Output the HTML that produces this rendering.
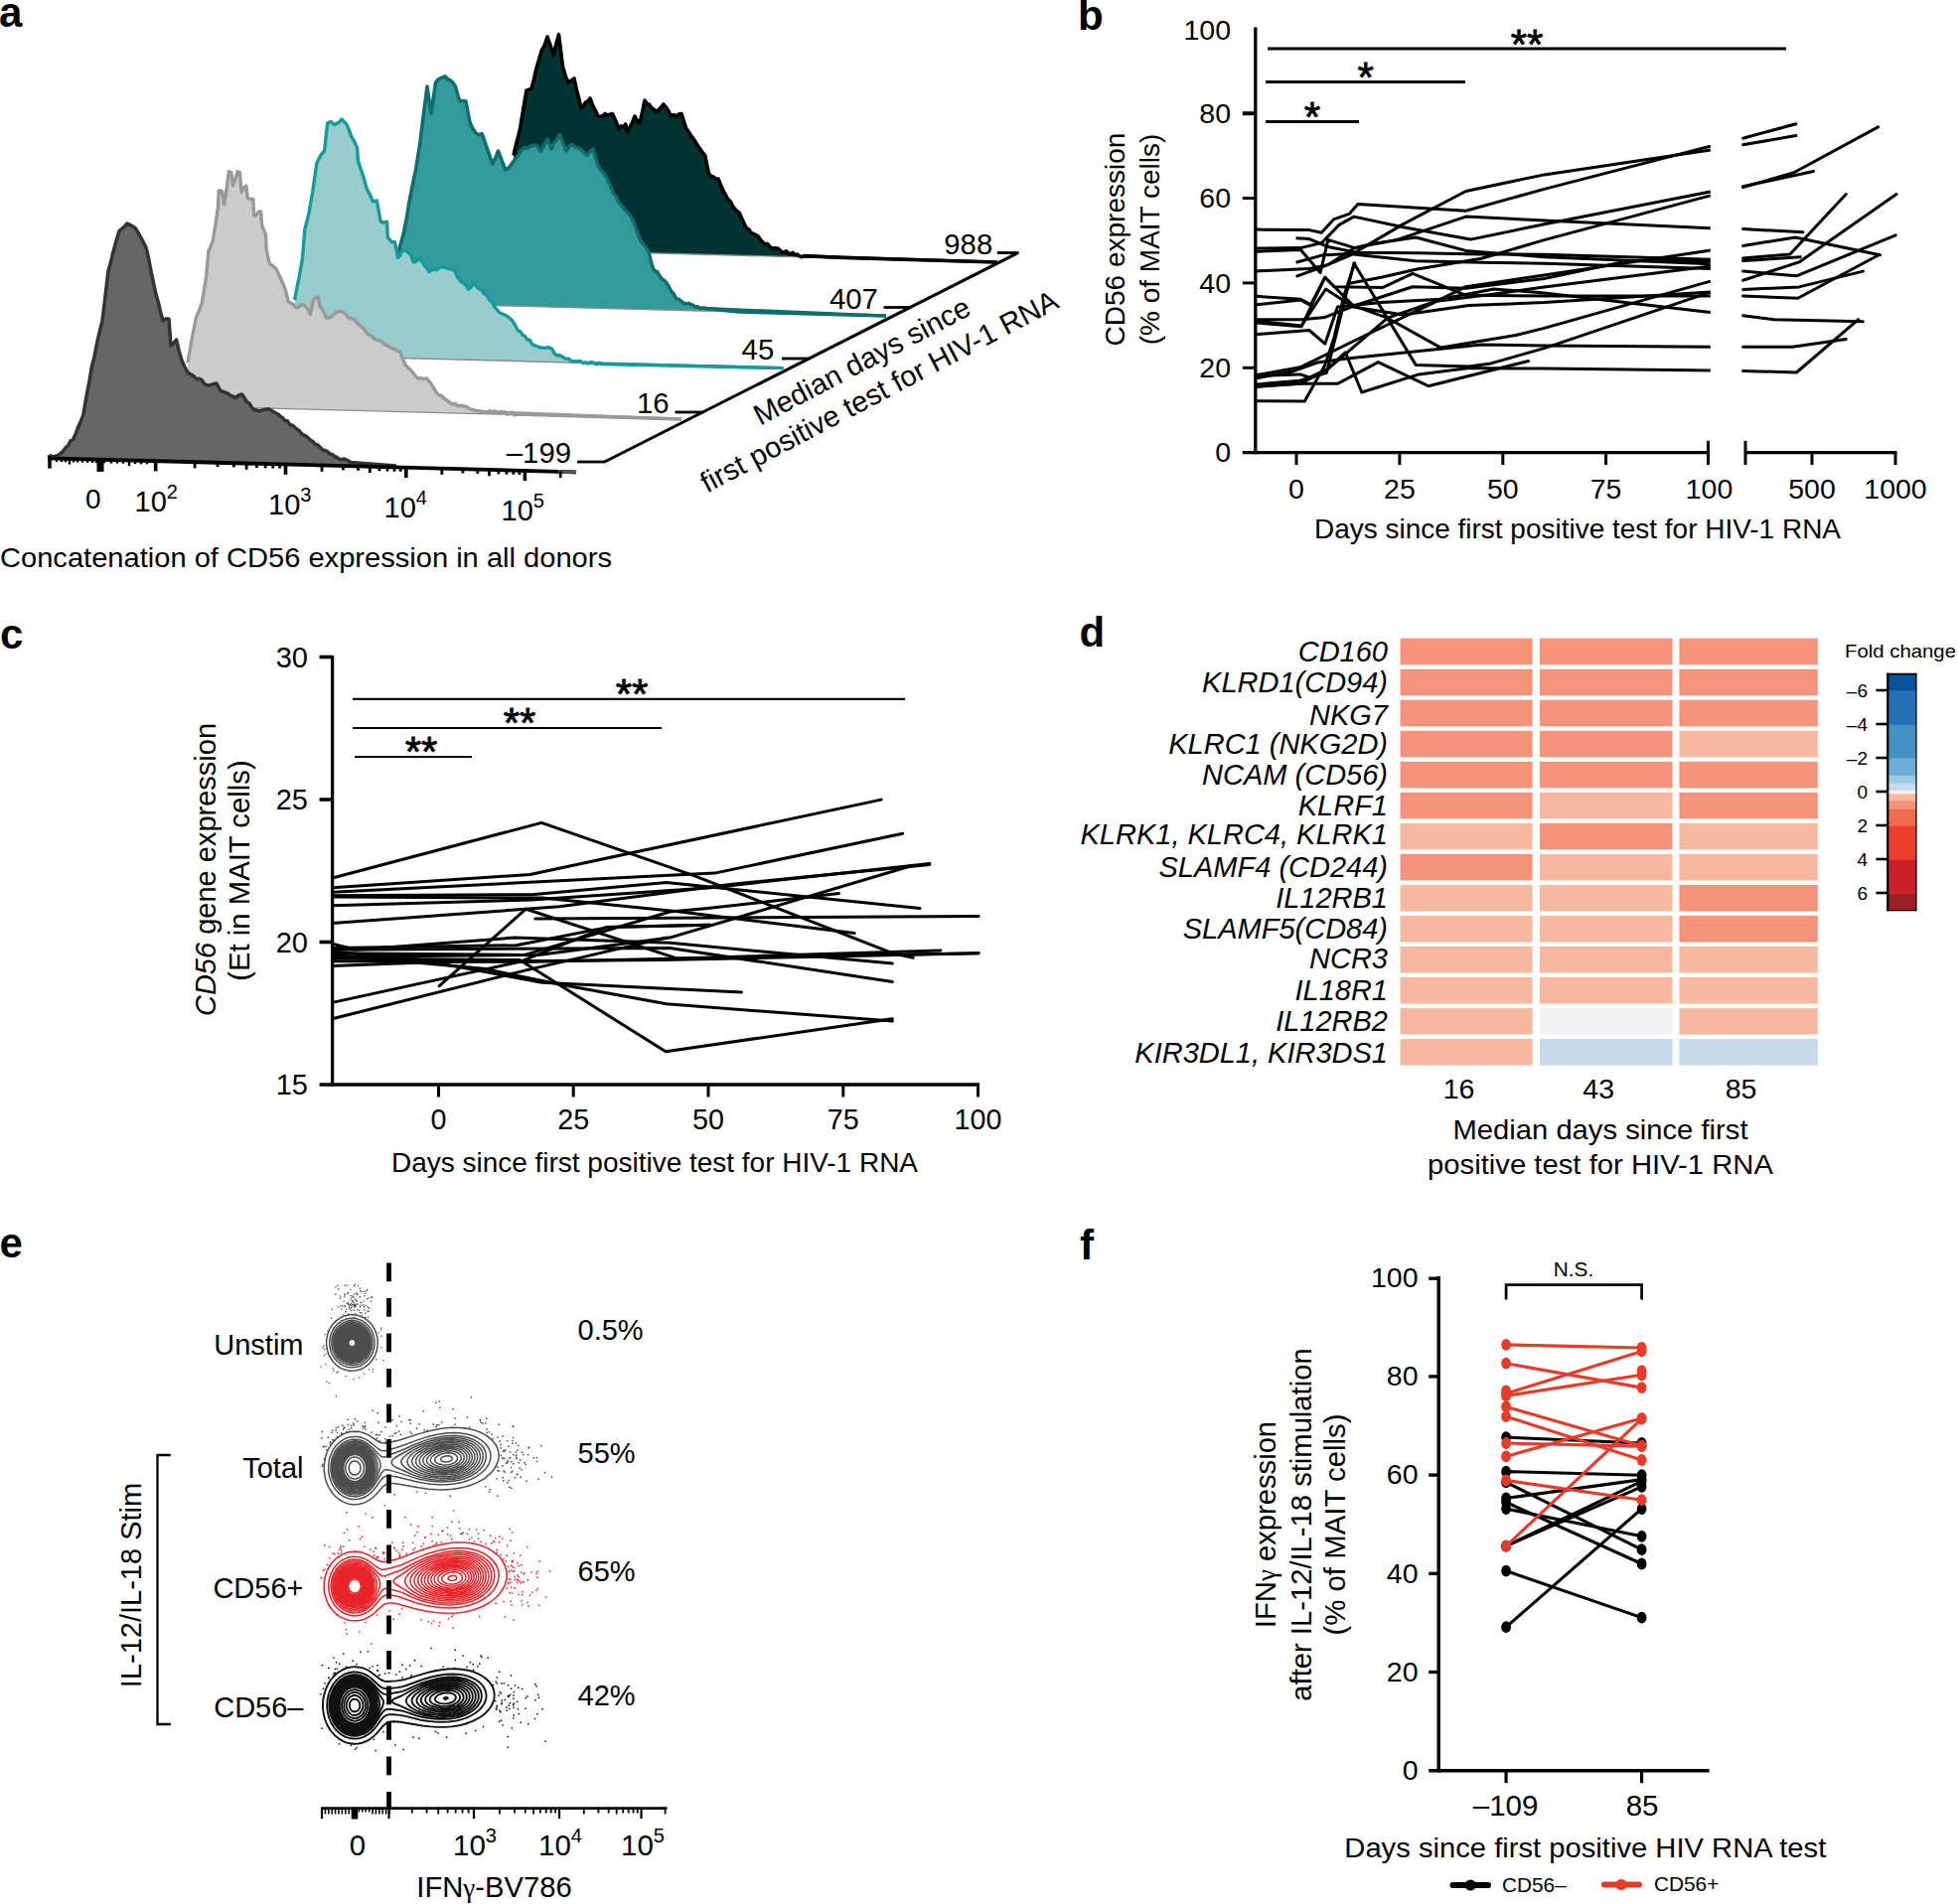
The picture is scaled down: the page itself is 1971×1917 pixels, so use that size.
<!DOCTYPE html>
<html><head><meta charset="utf-8"><title>Figure</title>
<style>html,body{margin:0;padding:0;background:#fff}svg{display:block}text{font-family:"Liberation Sans",Arial,Helvetica,sans-serif}</style>
</head><body>
<svg width="1971" height="1917" viewBox="0 0 1971 1917">
<rect width="1971" height="1917" fill="#fff"/>
<path d="M517.0 251.2 L517.0 156.5 L519.2 146.5 L521.4 138.3 L523.6 129.0 L526.8 109.6 L530.0 91.0 L532.5 90.3 L535.0 89.0 L537.5 79.7 L540.0 68.4 L542.5 60.0 L545.3 50.9 L548.2 45.7 L551.0 37.0 L554.0 45.6 L557.0 55.7 L559.8 44.4 L562.5 34.7 L566.5 67.0 L569.2 76.5 L572.0 83.0 L575.0 80.9 L578.0 79.0 L580.3 90.0 L582.7 98.9 L585.0 109.0 L587.2 106.9 L589.5 103.0 L591.8 101.9 L594.0 99.0 L596.7 106.1 L599.3 111.1 L602.0 117.0 L604.4 117.3 L606.8 116.7 L609.2 114.4 L611.7 116.1 L614.1 115.2 L616.5 114.5 L619.8 121.7 L623.0 130.0 L625.2 126.9 L627.4 127.8 L629.6 125.0 L632.0 133.0 L634.3 127.6 L636.7 123.0 L639.0 117.0 L641.5 121.6 L644.0 124.0 L646.5 113.1 L649.0 101.0 L651.2 104.5 L653.4 105.1 L655.6 108.5 L657.8 109.6 L660.0 112.0 L662.6 111.0 L665.1 108.5 L667.7 105.0 L670.3 107.8 L672.9 111.9 L675.5 117.0 L678.1 115.5 L680.8 117.1 L683.4 114.9 L686.0 114.5 L688.5 122.6 L691.0 130.0 L693.2 132.6 L695.4 136.4 L697.6 139.3 L699.8 142.4 L702.0 146.0 L704.6 149.8 L707.1 153.3 L709.7 156.5 L713.6 175.0 L716.0 177.5 L718.3 178.0 L720.6 180.0 L723.0 180.0 L725.5 186.3 L728.0 192.0 L730.5 196.3 L733.0 201.0 L735.2 202.6 L737.4 207.3 L739.6 210.2 L741.8 212.6 L744.0 214.0 L746.6 219.5 L749.1 225.3 L751.7 230.0 L753.9 230.9 L756.1 234.5 L758.4 235.5 L760.6 236.4 L762.8 237.5 L765.0 240.6 L767.5 243.6 L770.0 246.0 L772.5 245.3 L775.0 248.5 L777.3 250.2 L779.7 249.9 L782.0 249.9 L784.4 251.1 L786.7 253.4 L789.0 254.5 L791.4 252.8 L793.7 255.0 L796.0 255.7 L798.2 254.4 L800.5 256.8 L802.7 256.0 L805.0 258.0 L807.2 258.7 L809.5 257.6 L850.0 259.5 L1004.0 264.0 L1004.0 264.0 Z" fill="#003333" stroke="none" stroke-width="0" stroke-linejoin="miter" stroke-linecap="butt" />
<line x1="517.0" y1="251.2" x2="1004.0" y2="264.0" stroke="#8c8c8c" stroke-width="1.4" stroke-linecap="butt" />
<path d="M517.0 156.5 L519.2 146.5 L521.4 138.3 L523.6 129.0 L526.8 109.6 L530.0 91.0 L532.5 90.3 L535.0 89.0 L537.5 79.7 L540.0 68.4 L542.5 60.0 L545.3 50.9 L548.2 45.7 L551.0 37.0 L554.0 45.6 L557.0 55.7 L559.8 44.4 L562.5 34.7 L566.5 67.0 L569.2 76.5 L572.0 83.0 L575.0 80.9 L578.0 79.0 L580.3 90.0 L582.7 98.9 L585.0 109.0 L587.2 106.9 L589.5 103.0 L591.8 101.9 L594.0 99.0 L596.7 106.1 L599.3 111.1 L602.0 117.0 L604.4 117.3 L606.8 116.7 L609.2 114.4 L611.7 116.1 L614.1 115.2 L616.5 114.5 L619.8 121.7 L623.0 130.0 L625.2 126.9 L627.4 127.8 L629.6 125.0 L632.0 133.0 L634.3 127.6 L636.7 123.0 L639.0 117.0 L641.5 121.6 L644.0 124.0 L646.5 113.1 L649.0 101.0 L651.2 104.5 L653.4 105.1 L655.6 108.5 L657.8 109.6 L660.0 112.0 L662.6 111.0 L665.1 108.5 L667.7 105.0 L670.3 107.8 L672.9 111.9 L675.5 117.0 L678.1 115.5 L680.8 117.1 L683.4 114.9 L686.0 114.5 L688.5 122.6 L691.0 130.0 L693.2 132.6 L695.4 136.4 L697.6 139.3 L699.8 142.4 L702.0 146.0 L704.6 149.8 L707.1 153.3 L709.7 156.5 L713.6 175.0 L716.0 177.5 L718.3 178.0 L720.6 180.0 L723.0 180.0 L725.5 186.3 L728.0 192.0 L730.5 196.3 L733.0 201.0 L735.2 202.6 L737.4 207.3 L739.6 210.2 L741.8 212.6 L744.0 214.0 L746.6 219.5 L749.1 225.3 L751.7 230.0 L753.9 230.9 L756.1 234.5 L758.4 235.5 L760.6 236.4 L762.8 237.5 L765.0 240.6 L767.5 243.6 L770.0 246.0 L772.5 245.3 L775.0 248.5 L777.3 250.2 L779.7 249.9 L782.0 249.9 L784.4 251.1 L786.7 253.4 L789.0 254.5 L791.4 252.8 L793.7 255.0 L796.0 255.7 L798.2 254.4 L800.5 256.8 L802.7 256.0 L805.0 258.0 L807.2 258.7 L809.5 257.6 L850.0 259.5 L1004.0 264.0" fill="none" stroke="#000" stroke-width="3.6" stroke-linejoin="round" stroke-linecap="butt" />
<line x1="809.0" y1="257.8" x2="1004.0" y2="264.0" stroke="#000" stroke-width="3.2" stroke-linecap="butt" />
<path d="M400.8 305.1 L400.8 255.0 L403.4 245.5 L406.0 236.0 L409.0 221.0 L412.0 203.0 L414.2 191.8 L416.4 180.4 L418.6 171.0 L423.0 142.0 L427.0 110.0 L430.0 87.0 L434.0 114.5 L436.2 99.0 L438.5 83.0 L440.9 80.0 L443.2 78.9 L445.6 78.0 L448.0 76.7 L450.6 79.6 L453.2 80.8 L455.9 83.1 L458.5 87.0 L460.8 95.6 L463.0 102.0 L466.0 101.4 L469.0 102.0 L473.0 123.0 L476.2 130.1 L479.5 134.5 L482.2 135.7 L485.0 134.5 L487.2 140.2 L489.4 146.6 L491.6 152.9 L493.8 159.3 L496.0 165.0 L498.8 158.8 L501.5 152.0 L504.0 158.5 L506.5 165.0 L509.0 171.0 L512.0 169.3 L515.0 165.0 L517.2 162.0 L519.4 158.8 L521.6 156.7 L523.8 152.2 L526.0 150.0 L528.4 148.6 L530.8 149.8 L533.2 147.7 L535.6 146.9 L538.0 146.0 L540.2 146.5 L542.4 149.7 L544.6 152.0 L547.8 146.2 L551.0 140.0 L555.0 150.0 L557.8 143.7 L560.7 140.7 L563.5 135.5 L566.8 144.1 L570.0 152.0 L574.0 146.0 L576.6 145.7 L579.2 148.4 L581.9 148.9 L584.5 150.0 L587.8 153.8 L591.0 156.5 L594.0 152.8 L597.0 150.0 L599.5 159.1 L602.0 167.0 L604.6 171.7 L607.2 173.6 L609.9 177.7 L612.5 183.0 L615.1 188.8 L617.8 194.9 L620.4 198.0 L623.0 204.0 L625.6 207.0 L628.2 210.5 L630.8 212.8 L633.4 216.1 L636.0 219.6 L638.7 226.0 L641.3 233.2 L644.0 240.6 L646.2 244.2 L648.5 246.6 L650.8 250.1 L653.0 253.7 L657.0 269.5 L659.3 273.0 L661.6 273.4 L663.9 277.6 L666.1 280.8 L668.4 282.1 L670.7 284.5 L673.0 288.0 L675.7 293.2 L678.3 295.9 L681.0 301.0 L683.5 301.3 L686.0 303.3 L688.5 305.3 L691.0 306.0 L693.3 305.4 L695.6 306.6 L697.9 307.2 L700.1 309.3 L702.4 308.7 L704.7 310.5 L707.0 310.0 L744.0 314.0 L892.0 318.0 L892.0 318.0 Z" fill="#339b9b" stroke="none" stroke-width="0" stroke-linejoin="miter" stroke-linecap="butt" />
<line x1="400.8" y1="305.1" x2="892.0" y2="318.0" stroke="#8c8c8c" stroke-width="1.4" stroke-linecap="butt" />
<path d="M400.8 255.0 L403.4 245.5 L406.0 236.0 L409.0 221.0 L412.0 203.0 L414.2 191.8 L416.4 180.4 L418.6 171.0 L423.0 142.0 L427.0 110.0 L430.0 87.0 L434.0 114.5 L436.2 99.0 L438.5 83.0 L440.9 80.0 L443.2 78.9 L445.6 78.0 L448.0 76.7 L450.6 79.6 L453.2 80.8 L455.9 83.1 L458.5 87.0 L460.8 95.6 L463.0 102.0 L466.0 101.4 L469.0 102.0 L473.0 123.0 L476.2 130.1 L479.5 134.5 L482.2 135.7 L485.0 134.5 L487.2 140.2 L489.4 146.6 L491.6 152.9 L493.8 159.3 L496.0 165.0 L498.8 158.8 L501.5 152.0 L504.0 158.5 L506.5 165.0 L509.0 171.0 L512.0 169.3 L515.0 165.0 L517.2 162.0 L519.4 158.8 L521.6 156.7 L523.8 152.2 L526.0 150.0 L528.4 148.6 L530.8 149.8 L533.2 147.7 L535.6 146.9 L538.0 146.0 L540.2 146.5 L542.4 149.7 L544.6 152.0 L547.8 146.2 L551.0 140.0 L555.0 150.0 L557.8 143.7 L560.7 140.7 L563.5 135.5 L566.8 144.1 L570.0 152.0 L574.0 146.0 L576.6 145.7 L579.2 148.4 L581.9 148.9 L584.5 150.0 L587.8 153.8 L591.0 156.5 L594.0 152.8 L597.0 150.0 L599.5 159.1 L602.0 167.0 L604.6 171.7 L607.2 173.6 L609.9 177.7 L612.5 183.0 L615.1 188.8 L617.8 194.9 L620.4 198.0 L623.0 204.0 L625.6 207.0 L628.2 210.5 L630.8 212.8 L633.4 216.1 L636.0 219.6 L638.7 226.0 L641.3 233.2 L644.0 240.6 L646.2 244.2 L648.5 246.6 L650.8 250.1 L653.0 253.7 L657.0 269.5 L659.3 273.0 L661.6 273.4 L663.9 277.6 L666.1 280.8 L668.4 282.1 L670.7 284.5 L673.0 288.0 L675.7 293.2 L678.3 295.9 L681.0 301.0 L683.5 301.3 L686.0 303.3 L688.5 305.3 L691.0 306.0 L693.3 305.4 L695.6 306.6 L697.9 307.2 L700.1 309.3 L702.4 308.7 L704.7 310.5 L707.0 310.0 L744.0 314.0 L892.0 318.0" fill="none" stroke="#0e6e6e" stroke-width="3.5" stroke-linejoin="round" stroke-linecap="butt" />
<line x1="707.0" y1="310.3" x2="892.0" y2="318.0" stroke="#0e6e6e" stroke-width="3.0" stroke-linecap="butt" />
<path d="M296.6 357.7 L296.6 302.0 L299.0 289.2 L301.3 278.4 L304.5 259.5 L306.8 231.1 L310.8 215.4 L314.7 193.3 L318.7 165.0 L321.0 159.8 L323.4 155.5 L326.5 152.3 L329.7 124.0 L332.8 122.4 L336.8 125.6 L339.2 124.2 L341.5 123.0 L343.9 120.0 L346.2 122.3 L348.6 124.8 L351.0 129.9 L353.3 136.6 L356.5 141.8 L359.6 149.2 L360.4 161.8 L363.5 171.3 L366.7 180.7 L369.1 190.2 L372.2 195.6 L375.4 202.8 L379.3 202.0 L383.2 223.2 L386.4 224.1 L389.5 223.2 L390.3 239.0 L394.3 243.7 L397.4 243.7 L400.6 259.5 L403.0 256.6 L405.3 251.6 L407.9 252.2 L410.6 254.1 L413.2 256.3 L416.3 264.2 L419.5 262.8 L422.6 259.5 L425.0 263.5 L427.4 267.5 L429.7 269.7 L432.1 273.7 L434.6 271.6 L437.1 271.2 L439.7 271.7 L442.2 269.2 L444.7 268.9 L447.2 269.1 L449.7 269.9 L452.3 270.6 L454.8 271.2 L457.3 272.1 L460.5 278.9 L463.6 283.1 L466.2 284.7 L468.9 286.9 L471.5 291.0 L474.2 289.1 L477.0 284.6 L479.6 288.2 L482.2 291.0 L484.8 291.8 L487.4 295.9 L490.0 297.0 L492.6 302.0 L495.2 303.7 L497.9 309.0 L500.5 312.0 L502.9 314.7 L505.3 315.8 L507.8 317.1 L510.2 318.0 L512.6 319.9 L515.0 322.0 L518.2 326.7 L521.5 333.0 L523.9 333.8 L526.2 337.4 L528.6 338.6 L530.9 342.3 L533.3 342.1 L535.6 346.7 L538.0 347.6 L540.5 348.6 L543.0 349.7 L545.5 350.0 L548.0 350.4 L550.5 349.8 L553.0 350.0 L555.7 351.2 L558.3 356.1 L561.0 358.0 L563.4 357.8 L565.8 358.9 L568.1 360.7 L570.5 361.1 L572.9 361.5 L575.2 363.8 L577.6 363.6 L580.0 364.0 L582.3 363.8 L584.6 363.7 L587.0 365.8 L589.3 364.8 L591.6 366.0 L593.9 364.9 L596.2 364.7 L598.5 365.9 L600.9 367.0 L603.2 365.3 L605.5 366.5 L788.5 370.6 L788.5 370.6 Z" fill="#99cccc" stroke="none" stroke-width="0" stroke-linejoin="miter" stroke-linecap="butt" />
<line x1="296.6" y1="357.7" x2="788.5" y2="370.6" stroke="#8c8c8c" stroke-width="1.4" stroke-linecap="butt" />
<path d="M296.6 302.0 L299.0 289.2 L301.3 278.4 L304.5 259.5 L306.8 231.1 L310.8 215.4 L314.7 193.3 L318.7 165.0 L321.0 159.8 L323.4 155.5 L326.5 152.3 L329.7 124.0 L332.8 122.4 L336.8 125.6 L339.2 124.2 L341.5 123.0 L343.9 120.0 L346.2 122.3 L348.6 124.8 L351.0 129.9 L353.3 136.6 L356.5 141.8 L359.6 149.2 L360.4 161.8 L363.5 171.3 L366.7 180.7 L369.1 190.2 L372.2 195.6 L375.4 202.8 L379.3 202.0 L383.2 223.2 L386.4 224.1 L389.5 223.2 L390.3 239.0 L394.3 243.7 L397.4 243.7 L400.6 259.5 L403.0 256.6 L405.3 251.6 L407.9 252.2 L410.6 254.1 L413.2 256.3 L416.3 264.2 L419.5 262.8 L422.6 259.5 L425.0 263.5 L427.4 267.5 L429.7 269.7 L432.1 273.7 L434.6 271.6 L437.1 271.2 L439.7 271.7 L442.2 269.2 L444.7 268.9 L447.2 269.1 L449.7 269.9 L452.3 270.6 L454.8 271.2 L457.3 272.1 L460.5 278.9 L463.6 283.1 L466.2 284.7 L468.9 286.9 L471.5 291.0 L474.2 289.1 L477.0 284.6 L479.6 288.2 L482.2 291.0 L484.8 291.8 L487.4 295.9 L490.0 297.0 L492.6 302.0 L495.2 303.7 L497.9 309.0 L500.5 312.0 L502.9 314.7 L505.3 315.8 L507.8 317.1 L510.2 318.0 L512.6 319.9 L515.0 322.0 L518.2 326.7 L521.5 333.0 L523.9 333.8 L526.2 337.4 L528.6 338.6 L530.9 342.3 L533.3 342.1 L535.6 346.7 L538.0 347.6 L540.5 348.6 L543.0 349.7 L545.5 350.0 L548.0 350.4 L550.5 349.8 L553.0 350.0 L555.7 351.2 L558.3 356.1 L561.0 358.0 L563.4 357.8 L565.8 358.9 L568.1 360.7 L570.5 361.1 L572.9 361.5 L575.2 363.8 L577.6 363.6 L580.0 364.0 L582.3 363.8 L584.6 363.7 L587.0 365.8 L589.3 364.8 L591.6 366.0 L593.9 364.9 L596.2 364.7 L598.5 365.9 L600.9 367.0 L603.2 365.3 L605.5 366.5 L788.5 370.6" fill="none" stroke="#149c9c" stroke-width="3.4" stroke-linejoin="round" stroke-linecap="butt" />
<line x1="590.0" y1="365.5" x2="788.5" y2="370.6" stroke="#149c9c" stroke-width="3.0" stroke-linecap="butt" />
<path d="M189.0 408.9 L189.0 365.0 L193.0 342.0 L197.3 320.0 L200.4 312.6 L203.6 303.6 L207.6 278.4 L209.9 253.2 L213.9 243.7 L216.7 227.6 L219.4 209.1 L220.2 191.7 L223.3 192.5 L225.7 205.9 L228.1 190.2 L230.4 172.8 L232.8 173.6 L234.4 187.0 L236.8 180.8 L239.1 172.8 L241.4 173.6 L243.0 193.3 L245.4 188.8 L247.8 187.0 L249.3 199.6 L252.1 200.4 L254.8 200.4 L255.6 217.0 L258.0 216.7 L260.3 213.1 L262.7 213.0 L263.5 226.4 L267.4 235.9 L268.2 251.6 L271.4 265.8 L274.5 267.5 L277.7 270.5 L280.0 274.6 L282.4 280.0 L284.8 285.6 L287.1 291.0 L290.3 303.6 L292.6 305.0 L295.0 306.7 L297.4 309.1 L299.7 309.9 L302.9 307.0 L306.0 306.8 L309.2 310.3 L312.4 316.2 L315.5 302.0 L317.9 299.4 L320.2 298.9 L321.8 308.3 L324.1 311.1 L326.3 314.9 L328.6 320.0 L331.4 320.0 L334.2 318.3 L337.0 316.0 L339.2 313.8 L341.5 314.0 L343.7 313.0 L346.1 314.8 L348.6 317.1 L351.0 320.0 L354.0 320.6 L357.0 322.0 L359.3 324.9 L361.6 327.2 L363.9 329.1 L366.1 331.1 L368.4 334.0 L370.7 337.0 L373.1 337.4 L375.5 340.0 L377.9 341.9 L380.3 342.4 L382.7 343.0 L385.1 344.7 L387.5 347.0 L390.0 347.8 L392.6 349.6 L395.1 351.3 L397.6 351.3 L400.2 353.7 L402.7 354.0 L405.2 360.8 L407.8 367.0 L410.4 369.6 L413.1 372.2 L415.7 375.4 L418.4 378.8 L421.0 381.0 L423.9 380.8 L426.8 381.5 L429.7 381.0 L432.1 384.2 L434.4 387.0 L436.8 391.1 L439.1 394.9 L441.5 397.7 L444.0 398.2 L446.6 400.8 L449.1 402.5 L451.6 404.4 L453.8 406.2 L456.1 407.1 L458.3 406.2 L460.6 408.4 L462.8 408.9 L465.1 408.1 L467.3 409.4 L469.6 409.2 L471.8 411.0 L474.2 412.4 L476.6 412.5 L479.0 413.6 L481.4 413.8 L483.8 414.0 L486.2 414.7 L488.6 414.5 L490.8 414.9 L493.1 413.7 L495.3 415.3 L497.6 413.8 L499.8 414.4 L502.1 416.3 L504.3 414.5 L506.5 414.8 L508.8 415.0 L511.0 417.4 L513.3 415.6 L515.5 415.3 L517.8 417.8 L520.0 417.0 L686.0 422.0 L686.0 422.0 Z" fill="#cccccc" stroke="none" stroke-width="0" stroke-linejoin="miter" stroke-linecap="butt" />
<line x1="189.0" y1="408.9" x2="686.0" y2="422.0" stroke="#8c8c8c" stroke-width="1.4" stroke-linecap="butt" />
<path d="M189.0 365.0 L193.0 342.0 L197.3 320.0 L200.4 312.6 L203.6 303.6 L207.6 278.4 L209.9 253.2 L213.9 243.7 L216.7 227.6 L219.4 209.1 L220.2 191.7 L223.3 192.5 L225.7 205.9 L228.1 190.2 L230.4 172.8 L232.8 173.6 L234.4 187.0 L236.8 180.8 L239.1 172.8 L241.4 173.6 L243.0 193.3 L245.4 188.8 L247.8 187.0 L249.3 199.6 L252.1 200.4 L254.8 200.4 L255.6 217.0 L258.0 216.7 L260.3 213.1 L262.7 213.0 L263.5 226.4 L267.4 235.9 L268.2 251.6 L271.4 265.8 L274.5 267.5 L277.7 270.5 L280.0 274.6 L282.4 280.0 L284.8 285.6 L287.1 291.0 L290.3 303.6 L292.6 305.0 L295.0 306.7 L297.4 309.1 L299.7 309.9 L302.9 307.0 L306.0 306.8 L309.2 310.3 L312.4 316.2 L315.5 302.0 L317.9 299.4 L320.2 298.9 L321.8 308.3 L324.1 311.1 L326.3 314.9 L328.6 320.0 L331.4 320.0 L334.2 318.3 L337.0 316.0 L339.2 313.8 L341.5 314.0 L343.7 313.0 L346.1 314.8 L348.6 317.1 L351.0 320.0 L354.0 320.6 L357.0 322.0 L359.3 324.9 L361.6 327.2 L363.9 329.1 L366.1 331.1 L368.4 334.0 L370.7 337.0 L373.1 337.4 L375.5 340.0 L377.9 341.9 L380.3 342.4 L382.7 343.0 L385.1 344.7 L387.5 347.0 L390.0 347.8 L392.6 349.6 L395.1 351.3 L397.6 351.3 L400.2 353.7 L402.7 354.0 L405.2 360.8 L407.8 367.0 L410.4 369.6 L413.1 372.2 L415.7 375.4 L418.4 378.8 L421.0 381.0 L423.9 380.8 L426.8 381.5 L429.7 381.0 L432.1 384.2 L434.4 387.0 L436.8 391.1 L439.1 394.9 L441.5 397.7 L444.0 398.2 L446.6 400.8 L449.1 402.5 L451.6 404.4 L453.8 406.2 L456.1 407.1 L458.3 406.2 L460.6 408.4 L462.8 408.9 L465.1 408.1 L467.3 409.4 L469.6 409.2 L471.8 411.0 L474.2 412.4 L476.6 412.5 L479.0 413.6 L481.4 413.8 L483.8 414.0 L486.2 414.7 L488.6 414.5 L490.8 414.9 L493.1 413.7 L495.3 415.3 L497.6 413.8 L499.8 414.4 L502.1 416.3 L504.3 414.5 L506.5 414.8 L508.8 415.0 L511.0 417.4 L513.3 415.6 L515.5 415.3 L517.8 417.8 L520.0 417.0 L686.0 422.0" fill="none" stroke="#999999" stroke-width="3.4" stroke-linejoin="round" stroke-linecap="butt" />
<line x1="490.0" y1="414.5" x2="686.0" y2="422.0" stroke="#999" stroke-width="3.0" stroke-linecap="butt" />
<path d="M48.3 461.0 L48.3 460.4 L50.9 458.7 L53.5 460.2 L56.2 459.1 L58.8 458.0 L61.2 456.4 L63.7 454.1 L66.2 450.5 L68.6 448.5 L71.0 443.8 L73.5 442.5 L76.1 436.9 L78.8 429.8 L81.4 424.0 L84.0 417.0 L86.8 399.9 L89.6 385.7 L92.4 369.0 L95.1 358.7 L97.7 344.8 L100.3 334.0 L103.0 323.0 L106.0 297.9 L109.0 272.4 L111.2 265.3 L113.4 255.7 L115.6 247.6 L117.8 239.8 L120.0 232.5 L122.7 230.3 L125.3 228.2 L128.0 225.0 L130.8 226.4 L133.7 228.0 L136.5 230.0 L139.1 234.5 L141.8 239.1 L144.4 244.0 L147.0 249.0 L149.7 260.5 L152.3 274.3 L155.0 287.0 L157.2 297.3 L159.5 304.8 L161.8 314.7 L164.0 323.0 L167.0 321.0 L170.0 321.0 L172.0 348.0 L174.8 345.5 L177.5 342.0 L180.2 353.2 L183.0 363.0 L186.0 369.5 L189.0 375.0 L191.3 376.5 L193.7 377.8 L196.0 379.7 L198.3 381.9 L200.7 381.2 L203.0 382.5 L205.3 385.8 L207.7 387.7 L210.0 388.0 L212.7 387.4 L215.3 386.5 L218.0 386.0 L220.3 390.6 L222.6 394.0 L225.0 394.2 L227.4 395.5 L229.8 396.4 L232.2 398.6 L234.6 398.9 L237.0 400.5 L240.3 398.0 L243.6 397.0 L246.1 400.7 L248.6 404.7 L251.0 406.0 L253.5 410.4 L256.0 413.0 L258.4 412.8 L260.9 414.0 L263.3 413.2 L265.7 412.3 L268.1 412.2 L270.6 411.7 L273.0 413.0 L275.3 414.6 L277.7 416.0 L280.0 417.1 L282.3 419.3 L284.7 420.8 L287.0 423.8 L289.3 423.7 L291.7 427.7 L294.0 428.0 L296.3 429.8 L298.7 432.0 L301.0 433.4 L303.3 436.3 L305.7 438.1 L308.0 439.2 L310.3 440.9 L312.7 443.4 L315.0 444.6 L317.4 447.4 L319.9 447.9 L322.3 450.6 L324.7 453.0 L327.1 453.4 L329.6 454.5 L332.0 457.0 L334.3 457.2 L336.7 459.5 L339.0 460.4 L341.3 462.1 L343.7 462.8 L346.0 462.0 L348.3 462.8 L350.7 464.0 L353.0 465.6 L399.0 469.0 L399.0 470.2 Z" fill="#666666" stroke="none" stroke-width="0" stroke-linejoin="miter" stroke-linecap="butt" />
<path d="M48.3 460.4 L50.9 458.7 L53.5 460.2 L56.2 459.1 L58.8 458.0 L61.2 456.4 L63.7 454.1 L66.2 450.5 L68.6 448.5 L71.0 443.8 L73.5 442.5 L76.1 436.9 L78.8 429.8 L81.4 424.0 L84.0 417.0 L86.8 399.9 L89.6 385.7 L92.4 369.0 L95.1 358.7 L97.7 344.8 L100.3 334.0 L103.0 323.0 L106.0 297.9 L109.0 272.4 L111.2 265.3 L113.4 255.7 L115.6 247.6 L117.8 239.8 L120.0 232.5 L122.7 230.3 L125.3 228.2 L128.0 225.0 L130.8 226.4 L133.7 228.0 L136.5 230.0 L139.1 234.5 L141.8 239.1 L144.4 244.0 L147.0 249.0 L149.7 260.5 L152.3 274.3 L155.0 287.0 L157.2 297.3 L159.5 304.8 L161.8 314.7 L164.0 323.0 L167.0 321.0 L170.0 321.0 L172.0 348.0 L174.8 345.5 L177.5 342.0 L180.2 353.2 L183.0 363.0 L186.0 369.5 L189.0 375.0 L191.3 376.5 L193.7 377.8 L196.0 379.7 L198.3 381.9 L200.7 381.2 L203.0 382.5 L205.3 385.8 L207.7 387.7 L210.0 388.0 L212.7 387.4 L215.3 386.5 L218.0 386.0 L220.3 390.6 L222.6 394.0 L225.0 394.2 L227.4 395.5 L229.8 396.4 L232.2 398.6 L234.6 398.9 L237.0 400.5 L240.3 398.0 L243.6 397.0 L246.1 400.7 L248.6 404.7 L251.0 406.0 L253.5 410.4 L256.0 413.0 L258.4 412.8 L260.9 414.0 L263.3 413.2 L265.7 412.3 L268.1 412.2 L270.6 411.7 L273.0 413.0 L275.3 414.6 L277.7 416.0 L280.0 417.1 L282.3 419.3 L284.7 420.8 L287.0 423.8 L289.3 423.7 L291.7 427.7 L294.0 428.0 L296.3 429.8 L298.7 432.0 L301.0 433.4 L303.3 436.3 L305.7 438.1 L308.0 439.2 L310.3 440.9 L312.7 443.4 L315.0 444.6 L317.4 447.4 L319.9 447.9 L322.3 450.6 L324.7 453.0 L327.1 453.4 L329.6 454.5 L332.0 457.0 L334.3 457.2 L336.7 459.5 L339.0 460.4 L341.3 462.1 L343.7 462.8 L346.0 462.0 L348.3 462.8 L350.7 464.0 L353.0 465.6 L399.0 469.0" fill="none" stroke="#333333" stroke-width="3.5" stroke-linejoin="round" stroke-linecap="butt" />
<line x1="48.0" y1="461.3" x2="580.0" y2="475.3" stroke="#000" stroke-width="3.8" stroke-linecap="butt" />
<line x1="562.0" y1="474.8" x2="580.0" y2="475.3" stroke="#555" stroke-width="3.8" stroke-linecap="butt" />
<line x1="50.0" y1="461.1" x2="50.0" y2="471.6" stroke="#000" stroke-width="3.6" stroke-linecap="butt" />
<line x1="101.0" y1="462.4" x2="101.0" y2="474.9" stroke="#000" stroke-width="7" stroke-linecap="butt" />
<line x1="156.7" y1="463.9" x2="156.7" y2="474.4" stroke="#000" stroke-width="3.6" stroke-linecap="butt" />
<line x1="287.5" y1="467.3" x2="287.5" y2="477.8" stroke="#000" stroke-width="3.6" stroke-linecap="butt" />
<line x1="408.8" y1="470.5" x2="408.8" y2="481.0" stroke="#000" stroke-width="3.6" stroke-linecap="butt" />
<line x1="528.4" y1="473.6" x2="528.4" y2="484.1" stroke="#000" stroke-width="3.6" stroke-linecap="butt" />
<line x1="196.1" y1="464.9" x2="196.1" y2="471.4" stroke="#000" stroke-width="2.8" stroke-linecap="butt" />
<line x1="219.1" y1="465.5" x2="219.1" y2="470.0" stroke="#000" stroke-width="2.8" stroke-linecap="butt" />
<line x1="235.4" y1="465.9" x2="235.4" y2="470.4" stroke="#000" stroke-width="2.8" stroke-linecap="butt" />
<line x1="248.1" y1="466.3" x2="248.1" y2="472.8" stroke="#000" stroke-width="2.8" stroke-linecap="butt" />
<line x1="258.5" y1="466.5" x2="258.5" y2="471.0" stroke="#000" stroke-width="2.8" stroke-linecap="butt" />
<line x1="267.2" y1="466.8" x2="267.2" y2="471.3" stroke="#000" stroke-width="2.8" stroke-linecap="butt" />
<line x1="274.8" y1="467.0" x2="274.8" y2="471.5" stroke="#000" stroke-width="2.8" stroke-linecap="butt" />
<line x1="281.5" y1="467.1" x2="281.5" y2="471.6" stroke="#000" stroke-width="2.8" stroke-linecap="butt" />
<line x1="324.0" y1="468.3" x2="324.0" y2="474.8" stroke="#000" stroke-width="2.8" stroke-linecap="butt" />
<line x1="345.4" y1="468.8" x2="345.4" y2="473.3" stroke="#000" stroke-width="2.8" stroke-linecap="butt" />
<line x1="360.5" y1="469.2" x2="360.5" y2="473.7" stroke="#000" stroke-width="2.8" stroke-linecap="butt" />
<line x1="372.3" y1="469.5" x2="372.3" y2="476.0" stroke="#000" stroke-width="2.8" stroke-linecap="butt" />
<line x1="381.9" y1="469.8" x2="381.9" y2="474.3" stroke="#000" stroke-width="2.8" stroke-linecap="butt" />
<line x1="390.0" y1="470.0" x2="390.0" y2="474.5" stroke="#000" stroke-width="2.8" stroke-linecap="butt" />
<line x1="397.0" y1="470.2" x2="397.0" y2="474.7" stroke="#000" stroke-width="2.8" stroke-linecap="butt" />
<line x1="403.2" y1="470.3" x2="403.2" y2="474.8" stroke="#000" stroke-width="2.8" stroke-linecap="butt" />
<line x1="444.8" y1="471.4" x2="444.8" y2="477.9" stroke="#000" stroke-width="2.8" stroke-linecap="butt" />
<line x1="465.9" y1="472.0" x2="465.9" y2="476.5" stroke="#000" stroke-width="2.8" stroke-linecap="butt" />
<line x1="480.8" y1="472.4" x2="480.8" y2="476.9" stroke="#000" stroke-width="2.8" stroke-linecap="butt" />
<line x1="492.4" y1="472.7" x2="492.4" y2="479.2" stroke="#000" stroke-width="2.8" stroke-linecap="butt" />
<line x1="501.9" y1="472.9" x2="501.9" y2="477.4" stroke="#000" stroke-width="2.8" stroke-linecap="butt" />
<line x1="509.9" y1="473.2" x2="509.9" y2="477.7" stroke="#000" stroke-width="2.8" stroke-linecap="butt" />
<line x1="516.8" y1="473.3" x2="516.8" y2="477.8" stroke="#000" stroke-width="2.8" stroke-linecap="butt" />
<line x1="522.9" y1="473.5" x2="522.9" y2="478.0" stroke="#000" stroke-width="2.8" stroke-linecap="butt" />
<line x1="564.2" y1="474.6" x2="564.2" y2="481.1" stroke="#000" stroke-width="2.8" stroke-linecap="butt" />
<line x1="57.0" y1="461.2" x2="57.0" y2="465.0" stroke="#000" stroke-width="2.4" stroke-linecap="butt" />
<line x1="62.0" y1="461.4" x2="62.0" y2="465.2" stroke="#000" stroke-width="2.4" stroke-linecap="butt" />
<line x1="66.0" y1="461.5" x2="66.0" y2="465.3" stroke="#000" stroke-width="2.4" stroke-linecap="butt" />
<line x1="70.0" y1="461.6" x2="70.0" y2="467.6" stroke="#000" stroke-width="2.4" stroke-linecap="butt" />
<line x1="74.0" y1="461.7" x2="74.0" y2="465.5" stroke="#000" stroke-width="2.4" stroke-linecap="butt" />
<line x1="78.0" y1="461.8" x2="78.0" y2="465.6" stroke="#000" stroke-width="2.4" stroke-linecap="butt" />
<line x1="83.0" y1="461.9" x2="83.0" y2="465.7" stroke="#000" stroke-width="2.4" stroke-linecap="butt" />
<line x1="88.0" y1="462.1" x2="88.0" y2="465.9" stroke="#000" stroke-width="2.4" stroke-linecap="butt" />
<line x1="93.0" y1="462.2" x2="93.0" y2="466.0" stroke="#000" stroke-width="2.4" stroke-linecap="butt" />
<line x1="97.0" y1="462.3" x2="97.0" y2="466.1" stroke="#000" stroke-width="2.4" stroke-linecap="butt" />
<line x1="105.0" y1="462.5" x2="105.0" y2="466.3" stroke="#000" stroke-width="2.4" stroke-linecap="butt" />
<line x1="112.0" y1="462.7" x2="112.0" y2="466.5" stroke="#000" stroke-width="2.4" stroke-linecap="butt" />
<line x1="118.0" y1="462.8" x2="118.0" y2="466.6" stroke="#000" stroke-width="2.4" stroke-linecap="butt" />
<line x1="124.0" y1="463.0" x2="124.0" y2="466.8" stroke="#000" stroke-width="2.4" stroke-linecap="butt" />
<line x1="130.0" y1="463.2" x2="130.0" y2="469.2" stroke="#000" stroke-width="2.4" stroke-linecap="butt" />
<line x1="136.0" y1="463.3" x2="136.0" y2="467.1" stroke="#000" stroke-width="2.4" stroke-linecap="butt" />
<line x1="142.0" y1="463.5" x2="142.0" y2="467.3" stroke="#000" stroke-width="2.4" stroke-linecap="butt" />
<line x1="148.0" y1="463.6" x2="148.0" y2="467.4" stroke="#000" stroke-width="2.4" stroke-linecap="butt" />
<text x="93.7" y="512.0" font-size="28" text-anchor="middle" fill="#000" >0</text>
<text x="135.5" y="514.5" font-size="29" text-anchor="start">10<tspan font-size="20" dy="-13">2</tspan></text>
<text x="270.0" y="517.5" font-size="29" text-anchor="start">10<tspan font-size="20" dy="-13">3</tspan></text>
<text x="386.5" y="521.0" font-size="29" text-anchor="start">10<tspan font-size="20" dy="-13">4</tspan></text>
<text x="504.5" y="524.0" font-size="29" text-anchor="start">10<tspan font-size="20" dy="-13">5</tspan></text>
<text x="0.0" y="570.6" font-size="28" text-anchor="start" fill="#000" textLength="616.0" lengthAdjust="spacingAndGlyphs" >Concatenation of CD56 expression in all donors</text>
<text x="-1.0" y="27.0" font-size="42" text-anchor="start" fill="#000" font-weight="bold" >a</text>
<line x1="608.6" y1="465.0" x2="1025.0" y2="254.5" stroke="#000" stroke-width="3.0" stroke-linecap="butt" />
<line x1="1003.8" y1="254.5" x2="1025.5" y2="254.5" stroke="#000" stroke-width="2.8" stroke-linecap="butt" />
<text x="999.2" y="255.7" font-size="29.3" text-anchor="end" fill="#000" >988</text>
<line x1="889.6" y1="309.5" x2="915.0" y2="309.5" stroke="#000" stroke-width="2.8" stroke-linecap="butt" />
<text x="883.8" y="310.7" font-size="29.3" text-anchor="end" fill="#000" >407</text>
<line x1="787.0" y1="361.0" x2="813.9" y2="361.0" stroke="#000" stroke-width="2.8" stroke-linecap="butt" />
<text x="779.2" y="362.2" font-size="29.3" text-anchor="end" fill="#000" >45</text>
<line x1="679.5" y1="415.0" x2="707.5" y2="415.0" stroke="#000" stroke-width="2.8" stroke-linecap="butt" />
<text x="673.5" y="416.2" font-size="29.3" text-anchor="end" fill="#000" >16</text>
<line x1="581.0" y1="465.0" x2="609.1" y2="465.0" stroke="#000" stroke-width="2.8" stroke-linecap="butt" />
<text x="575.0" y="466.2" font-size="29.3" text-anchor="end" fill="#000" >–199</text>
<text x="868.5" y="365.5" font-size="29.2" text-anchor="middle" fill="#000" transform="rotate(-27.8 868.5 365.5)" dominant-baseline="middle">Median days since</text>
<text x="886.0" y="396.0" font-size="29.2" text-anchor="middle" fill="#000" transform="rotate(-27.8 886.0 396.0)" dominant-baseline="middle">first positive test for HIV-1 RNA</text>
<text x="1085.0" y="29.5" font-size="42" text-anchor="start" fill="#000" font-weight="bold" >b</text>
<line x1="1263.8" y1="27.4" x2="1263.8" y2="457.2" stroke="#000" stroke-width="3.3" stroke-linecap="butt" />
<line x1="1250.8" y1="455.6" x2="1720.5" y2="455.6" stroke="#000" stroke-width="3.3" stroke-linecap="butt" />
<line x1="1250.8" y1="370.3" x2="1263.8" y2="370.3" stroke="#000" stroke-width="3.0" stroke-linecap="butt" />
<line x1="1250.8" y1="284.9" x2="1263.8" y2="284.9" stroke="#000" stroke-width="3.0" stroke-linecap="butt" />
<line x1="1250.8" y1="199.6" x2="1263.8" y2="199.6" stroke="#000" stroke-width="3.0" stroke-linecap="butt" />
<line x1="1250.8" y1="114.2" x2="1263.8" y2="114.2" stroke="#000" stroke-width="4" stroke-linecap="butt" />
<text x="1239.0" y="465.2" font-size="28.5" text-anchor="end" fill="#000" >0</text>
<text x="1239.0" y="379.9" font-size="28.5" text-anchor="end" fill="#000" >20</text>
<text x="1239.0" y="294.5" font-size="28.5" text-anchor="end" fill="#000" >40</text>
<text x="1239.0" y="209.2" font-size="28.5" text-anchor="end" fill="#000" >60</text>
<text x="1239.0" y="123.8" font-size="28.5" text-anchor="end" fill="#000" >80</text>
<text x="1239.0" y="40.2" font-size="28.5" text-anchor="end" fill="#000" >100</text>
<line x1="1305.0" y1="455.6" x2="1305.0" y2="468.1" stroke="#000" stroke-width="3.0" stroke-linecap="butt" />
<line x1="1408.9" y1="455.6" x2="1408.9" y2="468.1" stroke="#000" stroke-width="3.0" stroke-linecap="butt" />
<line x1="1512.8" y1="455.6" x2="1512.8" y2="468.1" stroke="#000" stroke-width="3.0" stroke-linecap="butt" />
<line x1="1616.6" y1="455.6" x2="1616.6" y2="468.1" stroke="#000" stroke-width="3.0" stroke-linecap="butt" />
<line x1="1719.5" y1="443.8" x2="1719.5" y2="468.0" stroke="#000" stroke-width="3.0" stroke-linecap="butt" />
<text x="1305.0" y="501.6" font-size="28.5" text-anchor="middle" fill="#000" >0</text>
<text x="1408.9" y="501.6" font-size="28.5" text-anchor="middle" fill="#000" >25</text>
<text x="1512.8" y="501.6" font-size="28.5" text-anchor="middle" fill="#000" >50</text>
<text x="1616.6" y="501.6" font-size="28.5" text-anchor="middle" fill="#000" >75</text>
<text x="1720.5" y="501.6" font-size="28.5" text-anchor="middle" fill="#000" >100</text>
<line x1="1757.0" y1="443.8" x2="1757.0" y2="468.0" stroke="#000" stroke-width="3.0" stroke-linecap="butt" />
<line x1="1757.0" y1="455.6" x2="1909.5" y2="455.6" stroke="#000" stroke-width="3.3" stroke-linecap="butt" />
<line x1="1824.0" y1="455.6" x2="1824.0" y2="468.1" stroke="#000" stroke-width="3.0" stroke-linecap="butt" />
<line x1="1908.0" y1="455.6" x2="1908.0" y2="468.1" stroke="#000" stroke-width="3.0" stroke-linecap="butt" />
<text x="1824.0" y="501.6" font-size="28.5" text-anchor="middle" fill="#000" >500</text>
<text x="1908.0" y="501.6" font-size="28.5" text-anchor="middle" fill="#000" >1000</text>
<text x="1588.0" y="542.4" font-size="28" text-anchor="middle" fill="#000" textLength="530.0" lengthAdjust="spacingAndGlyphs" >Days since first positive test for HIV-1 RNA</text>
<text x="1132.0" y="241.0" font-size="28" text-anchor="middle" fill="#000" transform="rotate(-90 1132.0 241.0)" >CD56 expression</text>
<text x="1166.5" y="241.0" font-size="28" text-anchor="middle" fill="#000" transform="rotate(-90 1166.5 241.0)" >(% of MAIT cells)</text>
<line x1="1276.0" y1="49.0" x2="1798.0" y2="49.0" stroke="#000" stroke-width="2.8" stroke-linecap="butt" />
<text x="1537.0" y="58.7" font-size="42" text-anchor="middle" fill="#000" stroke="#000" stroke-width="0.8">**</text>
<line x1="1274.0" y1="82.5" x2="1475.0" y2="82.5" stroke="#000" stroke-width="2.8" stroke-linecap="butt" />
<text x="1374.6" y="92.2" font-size="42" text-anchor="middle" fill="#000" stroke="#000" stroke-width="0.8">*</text>
<line x1="1274.0" y1="122.5" x2="1368.0" y2="122.5" stroke="#000" stroke-width="2.8" stroke-linecap="butt" />
<text x="1321.0" y="132.2" font-size="42" text-anchor="middle" fill="#000" stroke="#000" stroke-width="0.8">*</text>
<path d="M1264.5 231.1 L1318.0 231.6 L1330.3 234.3 L1342.4 220.9 L1358.2 215.4 L1366.9 205.5 L1475.6 212.2 L1554.5 190.4 L1721.8 147.1" fill="none" stroke="#000" stroke-width="3.0" stroke-linejoin="round" stroke-linecap="butt" />
<path d="M1304.6 239.8 L1318.0 240.6 L1336.9 248.5 L1365.3 254.3 L1428.3 254.8 L1491.3 255.9 L1554.5 256.3 L1721.8 261.3" fill="none" stroke="#000" stroke-width="3.0" stroke-linejoin="round" stroke-linecap="butt" />
<path d="M1264.5 250.1 L1309.4 249.6 L1330.6 244.5 L1348.0 226.4 L1362.9 218.1 L1412.6 228.8 L1480.3 241.1 L1554.5 225.8 L1721.8 193.0" fill="none" stroke="#000" stroke-width="3.0" stroke-linejoin="round" stroke-linecap="butt" />
<path d="M1264.5 253.2 L1309.4 251.6 L1329.1 274.5 L1336.9 241.4 L1363.7 249.6 L1377.9 246.1 L1425.2 239.0 L1475.6 252.4 L1554.5 258.7 L1721.8 265.8" fill="none" stroke="#000" stroke-width="3.0" stroke-linejoin="round" stroke-linecap="butt" />
<path d="M1304.6 264.2 L1330.6 257.1 L1357.4 255.6 L1425.2 262.7 L1491.3 264.2 L1554.5 265.2 L1721.8 270.5" fill="none" stroke="#000" stroke-width="3.0" stroke-linejoin="round" stroke-linecap="butt" />
<path d="M1264.5 272.9 L1318.0 270.5 L1336.9 266.6 L1363.7 249.6 L1406.3 241.4 L1475.6 218.1 L1554.5 221.9 L1721.8 229.8" fill="none" stroke="#000" stroke-width="3.0" stroke-linejoin="round" stroke-linecap="butt" />
<path d="M1304.6 278.4 L1329.1 269.7 L1359.0 257.1 L1412.6 225.6 L1475.6 192.5 L1554.5 175.9 L1721.8 151.0" fill="none" stroke="#000" stroke-width="3.0" stroke-linejoin="round" stroke-linecap="butt" />
<path d="M1262.1 298.1 L1309.4 301.3 L1319.6 306.8 L1333.8 279.2 L1343.2 288.7 L1392.1 289.4 L1422.0 275.3 L1475.6 297.3 L1554.5 298.1 L1721.8 298.1" fill="none" stroke="#000" stroke-width="3.0" stroke-linejoin="round" stroke-linecap="butt" />
<path d="M1264.5 306.8 L1309.4 302.0 L1319.6 307.6" fill="none" stroke="#000" stroke-width="3.0" stroke-linejoin="round" stroke-linecap="round" />
<path d="M1264.5 321.7 L1310.1 321.7 L1333.8 319.4 L1362.1 308.3 L1422.0 288.7 L1475.6 290.2 L1554.5 280.5 L1639.1 262.6 L1721.8 262.6" fill="none" stroke="#000" stroke-width="3.0" stroke-linejoin="round" stroke-linecap="butt" />
<path d="M1264.5 323.3 L1310.1 328.0 L1334.6 291.0 L1362.1 309.1 L1412.6 317.0 L1478.7 307.6 L1554.5 304.6 L1721.8 294.1" fill="none" stroke="#000" stroke-width="3.0" stroke-linejoin="round" stroke-linecap="butt" />
<path d="M1264.5 324.9 L1310.1 328.8 L1333.8 279.2 L1362.1 307.6 L1396.8 320.2 L1450.4 350.1 L1526.0 337.5 L1554.5 330.4 L1721.8 283.1" fill="none" stroke="#000" stroke-width="3.0" stroke-linejoin="round" stroke-linecap="butt" />
<path d="M1264.5 336.7 L1318.0 332.5 L1333.8 346.2 L1346.4 309.1 L1390.5 304.4 L1450.4 301.3 L1503.9 291.0 L1554.5 294.9 L1721.8 314.6" fill="none" stroke="#000" stroke-width="3.0" stroke-linejoin="round" stroke-linecap="butt" />
<path d="M1264.5 377.7 L1308.6 369.8 L1374.7 337.5 L1444.1 304.4 L1475.6 288.7 L1554.5 277.0 L1721.8 252.1" fill="none" stroke="#000" stroke-width="3.0" stroke-linejoin="round" stroke-linecap="butt" />
<path d="M1264.5 378.5 L1308.6 376.9 L1318.0 380.0 L1336.9 371.4 L1396.8 320.2 L1444.1 303.6 L1500.8 296.5 L1554.5 288.9 L1721.8 267.9" fill="none" stroke="#000" stroke-width="3.0" stroke-linejoin="round" stroke-linecap="butt" />
<path d="M1264.5 380.8 L1302.3 373.7 L1325.9 365.1 L1355.8 361.1 L1491.3 347.0 L1554.5 347.9 L1721.8 349.3" fill="none" stroke="#000" stroke-width="3.0" stroke-linejoin="round" stroke-linecap="butt" />
<path d="M1264.5 387.1 L1308.6 383.2 L1335.4 375.3 L1362.9 265.0 L1425.2 367.4 L1478.7 369.0 L1500.8 365.9 L1554.5 350.6 L1721.8 294.1" fill="none" stroke="#000" stroke-width="3.0" stroke-linejoin="round" stroke-linecap="butt" />
<path d="M1264.5 388.7 L1310.1 386.3 L1346.4 386.3 L1387.4 364.6 L1437.8 388.7 L1538.6 363.5" fill="none" stroke="#000" stroke-width="3.0" stroke-linejoin="round" stroke-linecap="round" />
<path d="M1264.5 389.5 L1308.6 386.3 L1333.8 373.7 L1354.3 354.8 L1370.8 395.0 L1428.3 376.9 L1478.7 370.6 L1554.5 371.1 L1721.8 372.9" fill="none" stroke="#000" stroke-width="3.0" stroke-linejoin="round" stroke-linecap="butt" />
<path d="M1264.5 403.7 L1313.3 404.0 L1333.8 367.4 L1343.2 339.1 L1352.7 298.1 L1363.7 265.0" fill="none" stroke="#000" stroke-width="3.0" stroke-linejoin="round" stroke-linecap="round" />
<path d="M1357.4 285.5 L1390.5 279.2 L1425.2 271.3 L1491.3 260.3 L1554.5 241.6 L1721.8 196.9" fill="none" stroke="#000" stroke-width="3.0" stroke-linejoin="round" stroke-linecap="butt" />
<path d="M1754.6 139.2 L1807.9 124.7" fill="none" stroke="#000" stroke-width="3.0" stroke-linejoin="round" stroke-linecap="round" />
<path d="M1754.6 145.7 L1807.9 136.6" fill="none" stroke="#000" stroke-width="3.0" stroke-linejoin="round" stroke-linecap="round" />
<path d="M1754.6 188.5 L1805.8 173.8 L1890.6 127.9" fill="none" stroke="#000" stroke-width="3.0" stroke-linejoin="round" stroke-linecap="round" />
<path d="M1754.6 187.8 L1825.5 172.5" fill="none" stroke="#000" stroke-width="3.0" stroke-linejoin="round" stroke-linecap="round" />
<path d="M1754.6 230.6 L1815.0 233.7" fill="none" stroke="#000" stroke-width="3.0" stroke-linejoin="round" stroke-linecap="round" />
<path d="M1754.6 247.4 L1807.1 239.0 L1892.5 256.8" fill="none" stroke="#000" stroke-width="3.0" stroke-linejoin="round" stroke-linecap="round" />
<path d="M1754.6 260.0 L1801.9 256.0 L1858.3 195.6" fill="none" stroke="#000" stroke-width="3.0" stroke-linejoin="round" stroke-linecap="round" />
<path d="M1754.6 262.6 L1812.4 258.7" fill="none" stroke="#000" stroke-width="3.0" stroke-linejoin="round" stroke-linecap="round" />
<path d="M1754.6 282.3 L1811.1 263.9 L1909.0 195.6" fill="none" stroke="#000" stroke-width="3.0" stroke-linejoin="round" stroke-linecap="round" />
<path d="M1754.6 273.1 L1808.4 277.8 L1908.2 236.9" fill="none" stroke="#000" stroke-width="3.0" stroke-linejoin="round" stroke-linecap="round" />
<path d="M1754.6 291.5 L1811.1 288.9 L1875.4 273.1" fill="none" stroke="#000" stroke-width="3.0" stroke-linejoin="round" stroke-linecap="round" />
<path d="M1754.6 298.1 L1809.8 300.2 L1891.2 256.8" fill="none" stroke="#000" stroke-width="3.0" stroke-linejoin="round" stroke-linecap="round" />
<path d="M1754.6 317.7 L1786.1 321.7 L1875.4 323.8" fill="none" stroke="#000" stroke-width="3.0" stroke-linejoin="round" stroke-linecap="round" />
<path d="M1754.6 349.3 L1804.5 349.3 L1858.3 341.4" fill="none" stroke="#000" stroke-width="3.0" stroke-linejoin="round" stroke-linecap="round" />
<path d="M1754.6 373.4 L1808.4 375.0 L1870.7 321.7" fill="none" stroke="#000" stroke-width="3.0" stroke-linejoin="round" stroke-linecap="round" />
<text x="0.0" y="652.7" font-size="42" text-anchor="start" fill="#000" font-weight="bold" >c</text>
<line x1="334.6" y1="660.0" x2="334.6" y2="1093.6" stroke="#000" stroke-width="3.3" stroke-linecap="butt" />
<line x1="321.6" y1="1092.0" x2="986.0" y2="1092.0" stroke="#000" stroke-width="3.3" stroke-linecap="butt" />
<line x1="321.6" y1="948.5" x2="334.6" y2="948.5" stroke="#000" stroke-width="3.6" stroke-linecap="butt" />
<line x1="321.6" y1="805.0" x2="334.6" y2="805.0" stroke="#000" stroke-width="3.6" stroke-linecap="butt" />
<line x1="321.6" y1="661.5" x2="334.6" y2="661.5" stroke="#000" stroke-width="3.6" stroke-linecap="butt" />
<text x="310.0" y="1102.0" font-size="29" text-anchor="end" fill="#000" >15</text>
<text x="310.0" y="958.5" font-size="29" text-anchor="end" fill="#000" >20</text>
<text x="310.0" y="815.0" font-size="29" text-anchor="end" fill="#000" >25</text>
<text x="310.0" y="671.5" font-size="29" text-anchor="end" fill="#000" >30</text>
<line x1="441.5" y1="1092.0" x2="441.5" y2="1104.5" stroke="#000" stroke-width="3.0" stroke-linecap="butt" />
<text x="441.5" y="1137.0" font-size="28.7" text-anchor="middle" fill="#000" >0</text>
<line x1="577.2" y1="1092.0" x2="577.2" y2="1104.5" stroke="#000" stroke-width="3.0" stroke-linecap="butt" />
<text x="577.2" y="1137.0" font-size="28.7" text-anchor="middle" fill="#000" >25</text>
<line x1="713.0" y1="1092.0" x2="713.0" y2="1104.5" stroke="#000" stroke-width="3.0" stroke-linecap="butt" />
<text x="713.0" y="1137.0" font-size="28.7" text-anchor="middle" fill="#000" >50</text>
<line x1="848.8" y1="1092.0" x2="848.8" y2="1104.5" stroke="#000" stroke-width="3.0" stroke-linecap="butt" />
<text x="848.8" y="1137.0" font-size="28.7" text-anchor="middle" fill="#000" >75</text>
<line x1="984.5" y1="1092.0" x2="984.5" y2="1104.5" stroke="#000" stroke-width="3.0" stroke-linecap="butt" />
<text x="984.5" y="1137.0" font-size="28.7" text-anchor="middle" fill="#000" >100</text>
<text x="659.0" y="1180.0" font-size="28" text-anchor="middle" fill="#000" textLength="530.0" lengthAdjust="spacingAndGlyphs" >Days since first positive test for HIV-1 RNA</text>
<text x="217" y="875.5" font-size="29" text-anchor="middle" transform="rotate(-90 217 875.5)"><tspan font-style="italic">CD56</tspan> gene expression</text>
<text x="251.0" y="876.5" font-size="29.3" text-anchor="middle" fill="#000" transform="rotate(-90 251.0 876.5)" >(Et in MAIT cells)</text>
<line x1="355.0" y1="703.8" x2="911.0" y2="703.8" stroke="#000" stroke-width="2.2" stroke-linecap="butt" />
<text x="636.0" y="713.0" font-size="42" text-anchor="middle" fill="#000" stroke="#000" stroke-width="0.8">**</text>
<line x1="355.0" y1="733.0" x2="666.0" y2="733.0" stroke="#000" stroke-width="2.2" stroke-linecap="butt" />
<text x="523.0" y="742.3" font-size="42" text-anchor="middle" fill="#000" stroke="#000" stroke-width="0.8">**</text>
<line x1="357.0" y1="762.0" x2="475.0" y2="762.0" stroke="#000" stroke-width="2.2" stroke-linecap="butt" />
<text x="424.0" y="771.3" font-size="42" text-anchor="middle" fill="#000" stroke="#000" stroke-width="0.8">**</text>
<path d="M334.6 884.0 L545.1 828.4 L698.6 881.6 L898.3 959.7 L919.1 964.2" fill="none" stroke="#000" stroke-width="3.0" stroke-linejoin="round" stroke-linecap="round" />
<path d="M334.6 893.7 L533.6 880.5 L887.1 805.1" fill="none" stroke="#000" stroke-width="3.0" stroke-linejoin="round" stroke-linecap="round" />
<path d="M334.6 898.2 L719.4 879.1 L908.7 839.2" fill="none" stroke="#000" stroke-width="3.0" stroke-linejoin="round" stroke-linecap="round" />
<path d="M334.6 901.7 L535.3 900.7 L670.8 888.5 L926.0 914.5" fill="none" stroke="#000" stroke-width="3.0" stroke-linejoin="round" stroke-linecap="round" />
<path d="M334.6 903.1 L545.7 904.1 L684.7 918.0 L860.1 939.6" fill="none" stroke="#000" stroke-width="3.0" stroke-linejoin="round" stroke-linecap="round" />
<path d="M334.6 911.8 L535.3 905.9 L715.9 893.7 L935.8 869.4" fill="none" stroke="#000" stroke-width="3.0" stroke-linejoin="round" stroke-linecap="round" />
<path d="M334.6 929.5 L563.1 912.8 L736.8 890.2 L935.8 870.4" fill="none" stroke="#000" stroke-width="3.0" stroke-linejoin="round" stroke-linecap="round" />
<path d="M538.8 925.0 L985.1 922.5" fill="none" stroke="#000" stroke-width="3.0" stroke-linejoin="round" stroke-linecap="round" />
<path d="M442.2 992.7 L529.4 915.2 L681.2 964.9 L985.1 959.7" fill="none" stroke="#000" stroke-width="3.0" stroke-linejoin="round" stroke-linecap="round" />
<path d="M334.6 950.3 L358.2 956.2 L518.0 944.1 L674.2 949.3 L898.3 970.1" fill="none" stroke="#000" stroke-width="3.0" stroke-linejoin="round" stroke-linecap="round" />
<path d="M334.6 954.5 L519.7 951.7 L611.7 933.6 L714.2 931.2" fill="none" stroke="#000" stroke-width="3.0" stroke-linejoin="round" stroke-linecap="round" />
<path d="M334.6 959.7 L528.4 961.4 L674.2 918.0 L712.4 914.5 L844.4 899.6" fill="none" stroke="#000" stroke-width="3.0" stroke-linejoin="round" stroke-linecap="round" />
<path d="M334.6 963.2 L542.3 961.4 L674.2 944.1 L917.4 871.8" fill="none" stroke="#000" stroke-width="3.0" stroke-linejoin="round" stroke-linecap="round" />
<path d="M334.6 967.7 L528.4 968.4 L684.7 964.9 L946.9 956.9" fill="none" stroke="#000" stroke-width="3.0" stroke-linejoin="round" stroke-linecap="round" />
<path d="M334.6 972.5 L441.6 968.4 L667.3 966.6 L985.1 959.7" fill="none" stroke="#000" stroke-width="3.0" stroke-linejoin="round" stroke-linecap="round" />
<path d="M334.6 1009.4 L523.2 968.4 L610.0 933.6 L714.2 931.2" fill="none" stroke="#000" stroke-width="3.0" stroke-linejoin="round" stroke-linecap="round" />
<path d="M334.6 1025.7 L528.4 977.1 L670.8 944.1" fill="none" stroke="#000" stroke-width="3.0" stroke-linejoin="round" stroke-linecap="round" />
<path d="M334.6 958.0 L424.2 966.6 L545.7 989.2 L746.5 998.9" fill="none" stroke="#000" stroke-width="3.0" stroke-linejoin="round" stroke-linecap="round" />
<path d="M334.6 964.9 L523.2 966.6 L670.1 1058.7 L898.3 1025.7" fill="none" stroke="#000" stroke-width="3.0" stroke-linejoin="round" stroke-linecap="round" />
<path d="M334.6 961.4 L486.7 975.3 L563.1 991.0 L670.8 1010.8 L898.3 1028.1" fill="none" stroke="#000" stroke-width="3.0" stroke-linejoin="round" stroke-linecap="round" />
<path d="M334.6 956.2 L674.2 954.5 L898.3 988.5" fill="none" stroke="#000" stroke-width="3.0" stroke-linejoin="round" stroke-linecap="round" />
<text x="1086.5" y="651.4" font-size="42" text-anchor="start" fill="#000" font-weight="bold" >d</text>
<rect x="1409.6" y="642.7" width="133.0" height="26.6" fill="#f4927a"/>
<rect x="1550.0" y="642.7" width="133.5" height="26.6" fill="#f4927a"/>
<rect x="1690.4" y="642.7" width="139.4" height="26.6" fill="#f4927a"/>
<text x="1397.0" y="666.2" font-size="29" text-anchor="end" fill="#000" font-style="italic" >CD160</text>
<rect x="1409.6" y="673.7" width="133.0" height="26.6" fill="#f4927a"/>
<rect x="1550.0" y="673.7" width="133.5" height="26.6" fill="#f4927a"/>
<rect x="1690.4" y="673.7" width="139.4" height="26.6" fill="#f4927a"/>
<text x="1397.0" y="697.2" font-size="29" text-anchor="end" fill="#000" font-style="italic" >KLRD1(CD94)</text>
<rect x="1409.6" y="704.7" width="133.0" height="26.6" fill="#f4927a"/>
<rect x="1550.0" y="704.7" width="133.5" height="26.6" fill="#f4927a"/>
<rect x="1690.4" y="704.7" width="139.4" height="26.6" fill="#f4927a"/>
<text x="1397.0" y="729.5" font-size="29" text-anchor="end" fill="#000" font-style="italic" >NKG7</text>
<rect x="1409.6" y="735.8" width="133.0" height="26.6" fill="#f4927a"/>
<rect x="1550.0" y="735.8" width="133.5" height="26.6" fill="#f4927a"/>
<rect x="1690.4" y="735.8" width="139.4" height="26.6" fill="#f7b8a0"/>
<text x="1397.0" y="759.3" font-size="29" text-anchor="end" fill="#000" font-style="italic" >KLRC1 (NKG2D)</text>
<rect x="1409.6" y="766.8" width="133.0" height="26.6" fill="#f4927a"/>
<rect x="1550.0" y="766.8" width="133.5" height="26.6" fill="#f4927a"/>
<rect x="1690.4" y="766.8" width="139.4" height="26.6" fill="#f4927a"/>
<text x="1397.0" y="790.3" font-size="29" text-anchor="end" fill="#000" font-style="italic" >NCAM (CD56)</text>
<rect x="1409.6" y="797.8" width="133.0" height="26.6" fill="#f4927a"/>
<rect x="1550.0" y="797.8" width="133.5" height="26.6" fill="#f7b8a0"/>
<rect x="1690.4" y="797.8" width="139.4" height="26.6" fill="#f4927a"/>
<text x="1397.0" y="821.3" font-size="29" text-anchor="end" fill="#000" font-style="italic" >KLRF1</text>
<rect x="1409.6" y="828.8" width="133.0" height="26.6" fill="#f7b8a0"/>
<rect x="1550.0" y="828.8" width="133.5" height="26.6" fill="#f4927a"/>
<rect x="1690.4" y="828.8" width="139.4" height="26.6" fill="#f7b8a0"/>
<text x="1397.0" y="850.0" font-size="29" text-anchor="end" fill="#000" font-style="italic" >KLRK1, KLRC4, KLRK1</text>
<rect x="1409.6" y="859.8" width="133.0" height="26.6" fill="#f4927a"/>
<rect x="1550.0" y="859.8" width="133.5" height="26.6" fill="#f7b8a0"/>
<rect x="1690.4" y="859.8" width="139.4" height="26.6" fill="#f7b8a0"/>
<text x="1397.0" y="883.3" font-size="29" text-anchor="end" fill="#000" font-style="italic" >SLAMF4 (CD244)</text>
<rect x="1409.6" y="890.9" width="133.0" height="26.6" fill="#f7b8a0"/>
<rect x="1550.0" y="890.9" width="133.5" height="26.6" fill="#f7b8a0"/>
<rect x="1690.4" y="890.9" width="139.4" height="26.6" fill="#f4927a"/>
<text x="1397.0" y="914.4" font-size="29" text-anchor="end" fill="#000" font-style="italic" >IL12RB1</text>
<rect x="1409.6" y="921.9" width="133.0" height="26.6" fill="#f7b8a0"/>
<rect x="1550.0" y="921.9" width="133.5" height="26.6" fill="#f7b8a0"/>
<rect x="1690.4" y="921.9" width="139.4" height="26.6" fill="#f4927a"/>
<text x="1397.0" y="945.4" font-size="29" text-anchor="end" fill="#000" font-style="italic" >SLAMF5(CD84)</text>
<rect x="1409.6" y="952.9" width="133.0" height="26.6" fill="#f7b8a0"/>
<rect x="1550.0" y="952.9" width="133.5" height="26.6" fill="#f7b8a0"/>
<rect x="1690.4" y="952.9" width="139.4" height="26.6" fill="#f7b8a0"/>
<text x="1397.0" y="974.7" font-size="29" text-anchor="end" fill="#000" font-style="italic" >NCR3</text>
<rect x="1409.6" y="983.9" width="133.0" height="26.6" fill="#f7b8a0"/>
<rect x="1550.0" y="983.9" width="133.5" height="26.6" fill="#f7b8a0"/>
<rect x="1690.4" y="983.9" width="139.4" height="26.6" fill="#f7b8a0"/>
<text x="1397.0" y="1007.4" font-size="29" text-anchor="end" fill="#000" font-style="italic" >IL18R1</text>
<rect x="1409.6" y="1014.9" width="133.0" height="26.6" fill="#f7b8a0"/>
<rect x="1550.0" y="1014.9" width="133.5" height="26.6" fill="#f2f2f2"/>
<rect x="1690.4" y="1014.9" width="139.4" height="26.6" fill="#f7b8a0"/>
<text x="1397.0" y="1038.4" font-size="29" text-anchor="end" fill="#000" font-style="italic" >IL12RB2</text>
<rect x="1409.6" y="1046.0" width="133.0" height="26.6" fill="#f7b8a0"/>
<rect x="1550.0" y="1046.0" width="133.5" height="26.6" fill="#c6daeb"/>
<rect x="1690.4" y="1046.0" width="139.4" height="26.6" fill="#c6daeb"/>
<text x="1397.0" y="1069.5" font-size="29" text-anchor="end" fill="#000" font-style="italic" >KIR3DL1, KIR3DS1</text>
<text x="1468.6" y="1106.0" font-size="28.5" text-anchor="middle" fill="#000" >16</text>
<text x="1609.2" y="1106.0" font-size="28.5" text-anchor="middle" fill="#000" >43</text>
<text x="1752.6" y="1106.0" font-size="28.5" text-anchor="middle" fill="#000" >85</text>
<text x="1611.0" y="1147.0" font-size="28" text-anchor="middle" fill="#000" textLength="297.0" lengthAdjust="spacingAndGlyphs" >Median days since first</text>
<text x="1611.0" y="1182.0" font-size="28" text-anchor="middle" fill="#000" textLength="348.0" lengthAdjust="spacingAndGlyphs" >positive test for HIV-1 RNA</text>
<text x="1857.0" y="662.0" font-size="19" text-anchor="start" fill="#000" textLength="112.0" lengthAdjust="spacingAndGlyphs" >Fold change</text>
<rect x="1900" y="678.9" width="29" height="17.0" fill="#08529c"/>
<rect x="1900" y="695.6" width="29" height="34.4" fill="#2471b5"/>
<rect x="1900" y="729.7" width="29" height="34.2" fill="#4292c6"/>
<rect x="1900" y="763.6" width="29" height="17.4" fill="#6aaed6"/>
<rect x="1900" y="780.7" width="29" height="8.4" fill="#9ecae1"/>
<rect x="1900" y="788.8" width="29" height="7.3" fill="#c6dbef"/>
<rect x="1900" y="795.8" width="29" height="3.9" fill="#f5f0f0"/>
<rect x="1900" y="799.4" width="29" height="7.1" fill="#f8b8a2"/>
<rect x="1900" y="806.2" width="29" height="9.0" fill="#f4927a"/>
<rect x="1900" y="814.9" width="29" height="17.1" fill="#ef6a50"/>
<rect x="1900" y="831.7" width="29" height="34.3" fill="#eb3f2a"/>
<rect x="1900" y="865.7" width="29" height="34.2" fill="#cb2028"/>
<rect x="1900" y="899.6" width="29" height="17.4" fill="#9b2024"/>
<rect x="1900.3" y="678.7" width="28.7" height="238" fill="none" stroke="#000" stroke-width="1.2"/>
<line x1="1900.3" y1="677.7" x2="1900.3" y2="917.5" stroke="#000" stroke-width="2.2" stroke-linecap="butt" />
<line x1="1899.3" y1="678.5" x2="1929.5" y2="678.5" stroke="#000" stroke-width="1.6" stroke-linecap="butt" />
<line x1="1888.4" y1="695.0" x2="1900.0" y2="695.0" stroke="#000" stroke-width="2.6" stroke-linecap="butt" />
<text x="1880.0" y="702.0" font-size="19" text-anchor="end" fill="#000" >–6</text>
<line x1="1888.4" y1="729.0" x2="1900.0" y2="729.0" stroke="#000" stroke-width="2.6" stroke-linecap="butt" />
<text x="1880.0" y="736.0" font-size="19" text-anchor="end" fill="#000" >–4</text>
<line x1="1888.4" y1="763.0" x2="1900.0" y2="763.0" stroke="#000" stroke-width="2.6" stroke-linecap="butt" />
<text x="1880.0" y="770.0" font-size="19" text-anchor="end" fill="#000" >–2</text>
<line x1="1888.4" y1="797.0" x2="1900.0" y2="797.0" stroke="#000" stroke-width="2.6" stroke-linecap="butt" />
<text x="1880.0" y="804.0" font-size="19" text-anchor="end" fill="#000" >0</text>
<line x1="1888.4" y1="831.0" x2="1900.0" y2="831.0" stroke="#000" stroke-width="2.6" stroke-linecap="butt" />
<text x="1880.0" y="838.0" font-size="19" text-anchor="end" fill="#000" >2</text>
<line x1="1888.4" y1="865.0" x2="1900.0" y2="865.0" stroke="#000" stroke-width="2.6" stroke-linecap="butt" />
<text x="1880.0" y="872.0" font-size="19" text-anchor="end" fill="#000" >4</text>
<line x1="1888.4" y1="899.0" x2="1900.0" y2="899.0" stroke="#000" stroke-width="2.6" stroke-linecap="butt" />
<text x="1880.0" y="906.0" font-size="19" text-anchor="end" fill="#000" >6</text>
<text x="-0.5" y="1266.2" font-size="42" text-anchor="start" fill="#000" font-weight="bold" >e</text>
<path d="M350.8,1324.0 353.0,1323.7 356.0,1323.8 361.0,1324.6 366.0,1326.7 370.0,1329.4 373.6,1333.0 375.7,1336.0 376.9,1338.0 378.9,1343.0 379.7,1346.0 380.1,1349.0 380.2,1354.0 379.2,1360.0 377.4,1365.0 374.3,1370.0 371.0,1373.7 367.0,1376.7 364.0,1378.3 362.0,1379.0 357.0,1380.1 352.0,1380.2 347.0,1379.1 345.0,1378.4 342.0,1376.8 338.0,1373.9 334.5,1370.0 331.4,1365.0 329.6,1360.0 328.7,1355.0 328.6,1350.0 329.6,1344.0 331.4,1339.0 333.7,1335.0 337.0,1331.1 341.0,1327.8 343.0,1326.6 346.0,1325.2 350.8,1324.0ZM348.6,1328.0 353.0,1327.2 358.0,1327.5 362.0,1328.6 366.0,1330.6 370.0,1334.0 372.5,1337.0 374.8,1341.0 376.4,1346.0 377.1,1351.0 376.8,1356.0 375.6,1361.0 373.8,1365.0 370.9,1369.0 369.0,1371.0 367.0,1372.7 363.0,1375.0 359.0,1376.3 355.0,1376.8 350.0,1376.4 346.0,1375.1 342.0,1372.8 338.8,1370.0 335.6,1366.0 333.6,1362.0 332.4,1358.0 331.7,1353.0 331.9,1349.0 332.6,1345.0 334.5,1340.0 337.0,1336.0 340.0,1332.8 344.0,1329.9 348.6,1328.0ZM349.8,1330.0 354.0,1329.4 358.0,1329.8 361.0,1330.6 365.0,1332.6 368.0,1335.0 371.3,1339.0 373.3,1343.0 374.5,1347.0 375.0,1352.0 374.7,1356.0 373.3,1361.0 371.3,1365.0 368.0,1369.0 365.0,1371.4 361.0,1373.4 358.0,1374.2 354.0,1374.6 350.0,1374.0 346.0,1372.6 343.0,1370.8 340.0,1368.2 337.5,1365.0 335.5,1361.0 334.3,1357.0 333.8,1352.0 334.1,1348.0 335.1,1344.0 336.9,1340.0 339.9,1336.0 343.0,1333.2 346.0,1331.4 349.8,1330.0ZM349.4,1332.0 353.0,1331.3 357.0,1331.4 361.0,1332.5 364.0,1334.1 367.0,1336.5 369.9,1340.0 371.5,1343.0 372.8,1347.0 373.3,1351.0 373.2,1355.0 372.3,1359.0 370.5,1363.0 368.0,1366.5 365.0,1369.2 362.0,1371.0 358.0,1372.4 355.0,1372.7 351.0,1372.4 347.0,1371.1 344.0,1369.4 341.3,1367.0 338.9,1364.0 337.3,1361.0 336.0,1357.0 335.4,1353.0 335.6,1349.0 336.5,1345.0 337.8,1342.0 340.0,1338.5 343.0,1335.4 346.0,1333.4 349.4,1332.0ZM351.4,1333.0 355.0,1332.7 359.0,1333.4 362.0,1334.6 365.0,1336.6 367.4,1339.0 369.5,1342.0 370.8,1345.0 371.8,1349.0 372.0,1353.0 371.4,1357.0 370.0,1361.0 368.2,1364.0 366.0,1366.5 363.0,1368.8 360.0,1370.3 356.0,1371.2 353.0,1371.2 349.0,1370.4 346.0,1369.0 343.0,1366.7 340.6,1364.0 338.8,1361.0 337.6,1358.0 336.9,1354.0 336.8,1351.0 337.4,1347.0 338.8,1343.0 340.6,1340.0 343.0,1337.3 345.0,1335.7 348.0,1334.0 351.4,1333.0ZM353.5,1334.0 357.0,1334.2 360.0,1335.0 363.0,1336.6 365.0,1338.2 367.5,1341.0 369.2,1344.0 370.2,1347.0 370.9,1351.0 370.7,1355.0 369.9,1358.0 368.7,1361.0 366.7,1364.0 364.0,1366.7 361.0,1368.5 358.0,1369.6 355.0,1370.0 351.0,1369.7 348.0,1368.6 345.3,1367.0 343.0,1365.0 341.3,1363.0 339.6,1360.0 338.6,1357.0 337.9,1353.0 338.1,1349.0 338.9,1346.0 340.1,1343.0 342.1,1340.0 344.0,1338.0 347.0,1335.9 350.0,1334.6 353.5,1334.0ZM349.7,1336.0 353.0,1335.3 356.0,1335.3 359.0,1336.0 362.0,1337.4 365.0,1339.9 366.7,1342.0 368.4,1345.0 369.3,1348.0 369.7,1351.0 369.5,1355.0 368.7,1358.0 367.4,1361.0 365.1,1364.0 363.0,1365.9 361.0,1367.2 358.0,1368.3 355.0,1368.8 352.0,1368.6 349.0,1367.7 346.0,1366.1 344.0,1364.4 342.0,1361.9 340.4,1359.0 339.5,1356.0 339.1,1353.0 339.2,1350.0 339.7,1347.0 340.9,1344.0 342.8,1341.0 344.7,1339.0 347.0,1337.3 349.7,1336.0ZM350.0,1337.0 353.0,1336.3 356.0,1336.3 359.0,1337.1 361.0,1338.0 363.7,1340.0 365.5,1342.0 367.3,1345.0 368.3,1348.0 368.8,1351.0 368.7,1354.0 368.1,1357.0 366.8,1360.0 365.0,1362.7 363.0,1364.6 361.0,1366.0 358.0,1367.3 355.0,1367.7 352.0,1367.5 349.0,1366.6 347.0,1365.5 345.0,1363.9 343.0,1361.6 341.5,1359.0 340.5,1356.0 340.0,1353.0 340.1,1350.0 340.7,1347.0 342.0,1344.0 343.3,1342.0 345.1,1340.0 347.0,1338.5 350.0,1337.0ZM350.4,1338.0 353.0,1337.4 356.0,1337.4 359.0,1338.2 361.0,1339.2 363.0,1340.8 365.0,1343.0 366.2,1345.0 367.3,1348.0 367.8,1351.0 367.7,1354.0 367.0,1357.0 365.6,1360.0 364.0,1362.2 362.0,1364.1 360.0,1365.3 357.0,1366.4 355.0,1366.7 352.0,1366.4 349.0,1365.4 347.0,1364.2 345.5,1363.0 343.8,1361.0 342.6,1359.0 341.5,1356.0 341.0,1353.0 341.1,1350.0 341.8,1347.0 342.6,1345.0 344.0,1342.8 346.0,1340.6 348.0,1339.1 350.4,1338.0ZM350.6,1339.0 353.0,1338.4 355.0,1338.4 358.0,1338.9 360.0,1339.8 362.0,1341.2 364.0,1343.3 365.6,1346.0 366.3,1348.0 366.9,1351.0 366.7,1354.0 366.0,1357.0 365.1,1359.0 363.8,1361.0 361.8,1363.0 360.0,1364.2 357.0,1365.4 355.0,1365.6 352.0,1365.4 350.0,1364.8 348.0,1363.7 346.0,1362.1 344.3,1360.0 343.2,1358.0 342.5,1356.0 342.1,1354.0 342.0,1351.0 342.5,1348.0 343.2,1346.0 344.3,1344.0 346.0,1341.9 348.0,1340.3 350.6,1339.0ZM350.8,1340.0 353.0,1339.5 355.0,1339.4 358.0,1340.0 360.0,1341.0 362.0,1342.5 363.3,1344.0 364.6,1346.0 365.6,1349.0 365.9,1351.0 365.8,1354.0 365.0,1357.0 364.0,1359.0 362.5,1361.0 361.0,1362.4 359.0,1363.6 357.0,1364.3 355.0,1364.6 352.0,1364.4 350.0,1363.7 348.0,1362.5 346.3,1361.0 344.8,1359.0 343.8,1357.0 343.2,1355.0 342.9,1353.0 343.0,1350.0 343.4,1348.0 344.2,1346.0 345.5,1344.0 347.0,1342.3 349.0,1340.8 350.8,1340.0ZM350.8,1341.0 353.0,1340.4 355.0,1340.3 357.0,1340.7 359.0,1341.5 361.0,1342.8 362.9,1345.0 364.0,1347.0 364.7,1349.0 365.0,1351.0 364.9,1354.0 364.4,1356.0 363.6,1358.0 362.2,1360.0 361.0,1361.2 359.0,1362.5 357.0,1363.3 355.0,1363.7 353.0,1363.6 351.0,1363.1 349.0,1362.1 347.0,1360.4 345.9,1359.0 344.8,1357.0 344.1,1355.0 343.8,1353.0 343.8,1351.0 344.1,1349.0 345.0,1346.5 346.0,1344.8 347.6,1343.0 349.0,1341.9 350.8,1341.0ZM350.8,1342.0 353.0,1341.4 355.0,1341.3 357.0,1341.6 359.0,1342.5 361.0,1344.0 362.0,1345.2 363.1,1347.0 363.8,1349.0 364.2,1351.0 364.2,1353.0 363.8,1355.0 363.1,1357.0 362.0,1358.8 361.0,1360.0 359.0,1361.5 357.0,1362.4 355.0,1362.7 353.0,1362.6 350.0,1361.6 348.0,1360.1 346.9,1359.0 345.7,1357.0 345.0,1355.0 344.6,1353.0 344.6,1351.0 345.0,1349.0 345.7,1347.0 346.9,1345.0 347.8,1344.0 349.0,1343.0 350.8,1342.0ZM350.8,1343.0 352.0,1342.5 354.0,1342.2 356.0,1342.3 358.0,1343.0 359.6,1344.0 361.0,1345.4 362.1,1347.0 362.9,1349.0 363.3,1351.0 363.3,1353.0 362.9,1355.0 362.1,1357.0 360.0,1359.7 359.0,1360.4 357.0,1361.4 355.0,1361.8 353.0,1361.7 350.0,1360.6 348.1,1359.0 347.3,1358.0 345.9,1355.0 345.5,1353.0 345.5,1351.0 346.2,1348.0 347.0,1346.5 348.1,1345.0 349.2,1344.0 350.8,1343.0ZM351.1,1344.0 354.0,1343.2 356.0,1343.4 357.7,1344.0 359.0,1344.8 360.3,1346.0 361.0,1347.0 361.9,1349.0 362.4,1351.0 362.4,1353.0 361.5,1356.0 360.0,1358.3 359.0,1359.2 357.0,1360.3 354.0,1360.8 351.0,1360.0 348.6,1358.0 347.8,1357.0 346.9,1355.0 346.4,1352.0 346.6,1350.0 347.0,1348.6 348.6,1346.0 350.0,1344.7 351.1,1344.0ZM351.2,1345.0 354.0,1344.2 356.0,1344.4 357.0,1344.7 359.0,1346.0 360.0,1347.2 361.0,1349.0 361.5,1352.0 361.0,1355.0 360.0,1356.8 359.0,1358.0 357.0,1359.3 355.0,1359.8 353.0,1359.7 352.0,1359.4 349.8,1358.0 348.9,1357.0 347.8,1355.0 347.3,1352.0 347.8,1349.0 349.0,1346.9 350.0,1345.8 351.2,1345.0ZM352.0,1346.0 353.0,1345.6 355.0,1345.5 357.0,1346.1 359.0,1347.8 360.1,1350.0 360.3,1353.0 359.7,1355.0 359.0,1356.2 358.0,1357.2 356.0,1358.3 354.0,1358.5 352.0,1358.0 350.0,1356.4 348.7,1354.0 348.4,1352.0 349.0,1349.2 350.0,1347.6 352.0,1346.0ZM353.0,1347.0 355.0,1346.8 357.0,1347.6 358.3,1349.0 359.1,1351.0 359.1,1353.0 358.3,1355.0 357.0,1356.4 355.0,1357.2 353.0,1357.0 351.4,1356.0 350.5,1355.0 349.7,1353.0 349.7,1351.0 350.5,1349.0 351.4,1348.0 353.0,1347.0ZM352.2,1349.0 354.0,1348.2 355.0,1348.2 356.6,1349.0 357.4,1350.0 357.8,1351.0 357.8,1353.0 357.0,1354.6 356.0,1355.4 355.0,1355.8 354.0,1355.8 352.2,1355.0 351.4,1354.0 351.0,1353.0 351.0,1351.0 351.4,1350.0 352.2,1349.0Z" fill="none" stroke="#4d4d4d" stroke-width="1.5" stroke-linejoin="round"/>
<path d="M383.2,1356.0h1.3v1.3h-1.3zM369.4,1319.6h1.3v1.3h-1.3zM355.2,1312.8h1.3v1.3h-1.3zM339.3,1380.6h1.3v1.3h-1.3zM332.8,1326.7h1.3v1.3h-1.3zM363.0,1320.9h1.3v1.3h-1.3zM335.3,1331.8h1.3v1.3h-1.3zM365.8,1382.5h1.3v1.3h-1.3zM328.0,1390.4h1.3v1.3h-1.3zM335.3,1379.1h1.3v1.3h-1.3zM383.1,1336.4h1.3v1.3h-1.3zM337.7,1329.3h1.3v1.3h-1.3zM370.8,1378.5h1.3v1.3h-1.3zM337.7,1405.1h1.3v1.3h-1.3zM380.5,1341.3h1.3v1.3h-1.3zM385.4,1368.9h1.3v1.3h-1.3zM325.2,1354.2h1.3v1.3h-1.3zM378.4,1367.9h1.3v1.3h-1.3zM322.5,1375.5h1.3v1.3h-1.3zM367.2,1325.7h1.3v1.3h-1.3zM334.2,1376.9h1.3v1.3h-1.3zM327.5,1362.4h1.3v1.3h-1.3zM327.2,1373.0h1.3v1.3h-1.3zM329.3,1339.4h1.3v1.3h-1.3zM330.6,1391.7h1.3v1.3h-1.3zM370.1,1325.8h1.3v1.3h-1.3zM374.9,1378.0h1.3v1.3h-1.3zM326.5,1342.9h1.3v1.3h-1.3zM324.4,1356.2h1.3v1.3h-1.3zM347.6,1384.9h1.3v1.3h-1.3zM383.0,1338.3h1.3v1.3h-1.3zM383.4,1344.6h1.3v1.3h-1.3zM374.4,1380.4h1.3v1.3h-1.3zM367.0,1326.1h1.3v1.3h-1.3zM326.1,1358.0h1.3v1.3h-1.3zM355.4,1387.8h1.3v1.3h-1.3zM360.8,1386.3h1.3v1.3h-1.3zM338.4,1381.3h1.3v1.3h-1.3zM325.6,1364.2h1.3v1.3h-1.3zM359.6,1293.9h1.3v1.3h-1.3z" fill="#4d4d4d"/>
<path d="M355.6,1314.1h1.3v1.3h-1.3zM353.4,1314.4h1.3v1.3h-1.3zM359.1,1302.9h1.3v1.3h-1.3zM358.7,1309.7h1.3v1.3h-1.3zM346.5,1313.9h1.3v1.3h-1.3zM368.4,1298.9h1.3v1.3h-1.3zM340.1,1297.1h1.3v1.3h-1.3zM372.8,1309.7h1.3v1.3h-1.3zM354.5,1304.9h1.3v1.3h-1.3zM346.5,1293.8h1.3v1.3h-1.3zM356.5,1314.3h1.3v1.3h-1.3zM337.2,1302.6h1.3v1.3h-1.3zM348.3,1311.8h1.3v1.3h-1.3zM357.2,1322.1h1.3v1.3h-1.3zM367.3,1321.6h1.3v1.3h-1.3zM367.1,1301.5h1.3v1.3h-1.3zM350.0,1322.3h1.3v1.3h-1.3zM357.6,1312.2h1.3v1.3h-1.3zM337.2,1295.3h1.3v1.3h-1.3zM361.6,1315.1h1.3v1.3h-1.3zM352.3,1308.3h1.3v1.3h-1.3zM339.5,1315.3h1.3v1.3h-1.3zM355.4,1310.2h1.3v1.3h-1.3zM345.1,1323.0h1.3v1.3h-1.3zM370.4,1306.5h1.3v1.3h-1.3zM357.6,1312.8h1.3v1.3h-1.3zM351.7,1317.5h1.3v1.3h-1.3zM342.0,1304.5h1.3v1.3h-1.3zM359.5,1312.4h1.3v1.3h-1.3zM352.6,1306.3h1.3v1.3h-1.3zM354.3,1309.2h1.3v1.3h-1.3zM352.8,1311.7h1.3v1.3h-1.3zM356.1,1325.9h1.3v1.3h-1.3zM342.0,1314.4h1.3v1.3h-1.3zM349.4,1301.7h1.3v1.3h-1.3zM333.7,1317.5h1.3v1.3h-1.3zM346.1,1305.2h1.3v1.3h-1.3zM359.1,1302.2h1.3v1.3h-1.3zM355.1,1311.2h1.3v1.3h-1.3zM362.1,1321.0h1.3v1.3h-1.3zM347.1,1320.2h1.3v1.3h-1.3zM354.0,1313.0h1.3v1.3h-1.3zM353.0,1318.9h1.3v1.3h-1.3zM344.0,1314.3h1.3v1.3h-1.3zM365.5,1309.4h1.3v1.3h-1.3zM373.2,1305.3h1.3v1.3h-1.3zM356.8,1307.6h1.3v1.3h-1.3zM349.3,1301.9h1.3v1.3h-1.3zM350.0,1311.4h1.3v1.3h-1.3zM347.7,1319.9h1.3v1.3h-1.3zM368.6,1298.1h1.3v1.3h-1.3zM362.4,1313.6h1.3v1.3h-1.3zM365.7,1314.9h1.3v1.3h-1.3zM356.6,1292.5h1.3v1.3h-1.3zM362.0,1305.3h1.3v1.3h-1.3zM356.6,1312.9h1.3v1.3h-1.3zM363.9,1323.5h1.3v1.3h-1.3zM352.9,1316.1h1.3v1.3h-1.3zM361.9,1299.0h1.3v1.3h-1.3zM373.4,1305.6h1.3v1.3h-1.3zM374.1,1305.7h1.3v1.3h-1.3zM356.0,1294.1h1.3v1.3h-1.3zM360.9,1318.8h1.3v1.3h-1.3zM366.0,1318.1h1.3v1.3h-1.3zM352.0,1297.7h1.3v1.3h-1.3zM359.0,1302.0h1.3v1.3h-1.3zM359.9,1312.5h1.3v1.3h-1.3zM355.6,1318.6h1.3v1.3h-1.3zM363.3,1300.1h1.3v1.3h-1.3zM361.8,1305.1h1.3v1.3h-1.3zM348.9,1293.4h1.3v1.3h-1.3zM354.4,1304.3h1.3v1.3h-1.3zM349.8,1311.0h1.3v1.3h-1.3zM354.0,1308.8h1.3v1.3h-1.3zM348.1,1317.7h1.3v1.3h-1.3zM368.8,1306.9h1.3v1.3h-1.3zM350.1,1322.7h1.3v1.3h-1.3zM341.8,1306.7h1.3v1.3h-1.3zM351.6,1313.5h1.3v1.3h-1.3zM352.5,1304.0h1.3v1.3h-1.3zM357.8,1301.3h1.3v1.3h-1.3zM339.3,1293.7h1.3v1.3h-1.3zM361.7,1296.4h1.3v1.3h-1.3zM359.0,1318.0h1.3v1.3h-1.3zM362.3,1310.4h1.3v1.3h-1.3zM350.1,1312.8h1.3v1.3h-1.3zM349.7,1300.4h1.3v1.3h-1.3zM366.3,1304.0h1.3v1.3h-1.3zM371.2,1316.6h1.3v1.3h-1.3zM350.9,1315.9h1.3v1.3h-1.3zM366.1,1299.6h1.3v1.3h-1.3zM346.7,1302.6h1.3v1.3h-1.3zM356.5,1315.6h1.3v1.3h-1.3zM355.3,1305.4h1.3v1.3h-1.3zM350.2,1322.7h1.3v1.3h-1.3zM365.1,1313.2h1.3v1.3h-1.3zM343.2,1317.7h1.3v1.3h-1.3zM357.6,1314.3h1.3v1.3h-1.3zM370.6,1319.4h1.3v1.3h-1.3zM346.2,1303.3h1.3v1.3h-1.3zM367.4,1313.9h1.3v1.3h-1.3zM363.0,1311.0h1.3v1.3h-1.3zM346.5,1314.9h1.3v1.3h-1.3zM369.6,1315.6h1.3v1.3h-1.3zM345.4,1309.8h1.3v1.3h-1.3zM351.1,1314.2h1.3v1.3h-1.3zM357.8,1309.0h1.3v1.3h-1.3zM356.5,1313.0h1.3v1.3h-1.3zM352.0,1313.1h1.3v1.3h-1.3zM355.9,1302.3h1.3v1.3h-1.3z" fill="#4d4d4d"/>
<path d="M446.8,1438.0 455.0,1437.3 463.0,1437.4 471.0,1438.4 478.0,1440.1 484.0,1442.3 490.0,1445.6 495.0,1449.7 498.6,1454.0 499.8,1456.0 501.1,1459.0 501.6,1461.0 502.1,1464.0 502.1,1467.0 501.7,1470.0 499.9,1475.0 496.8,1480.0 493.0,1484.2 488.0,1488.3 481.0,1492.4 474.0,1495.3 466.0,1497.6 461.0,1498.6 456.0,1499.3 447.0,1499.9 439.0,1499.8 431.0,1499.2 420.0,1497.6 400.0,1493.9 395.0,1493.4 391.0,1493.6 388.0,1494.8 386.0,1496.3 377.2,1506.0 375.0,1508.0 372.0,1510.2 368.0,1512.4 365.0,1513.6 361.0,1514.5 358.0,1514.8 354.0,1514.7 350.0,1513.9 346.0,1512.4 342.0,1510.2 338.0,1507.0 335.2,1504.0 332.3,1500.0 330.6,1497.0 328.9,1493.0 327.6,1489.0 326.4,1482.0 326.2,1478.0 326.4,1474.0 327.6,1467.0 328.9,1463.0 330.6,1459.0 332.3,1456.0 334.4,1453.0 337.0,1450.0 339.0,1448.1 342.0,1445.8 345.0,1444.1 349.0,1442.4 353.0,1441.4 358.0,1441.2 362.0,1441.6 366.0,1442.7 370.0,1444.4 374.0,1446.8 380.0,1450.9 382.0,1452.0 385.0,1452.9 388.0,1453.0 393.7,1452.0 402.0,1450.0 422.0,1443.6 430.0,1441.3 438.0,1439.5 446.8,1438.0ZM448.1,1443.0 455.0,1442.5 462.0,1442.7 469.0,1443.7 475.0,1445.3 480.0,1447.3 485.0,1450.3 489.1,1454.0 491.9,1458.0 493.5,1462.0 494.0,1466.0 493.5,1470.0 492.5,1473.0 491.5,1475.0 488.7,1479.0 484.7,1483.0 480.0,1486.3 474.0,1489.4 466.0,1492.2 459.0,1493.8 450.0,1494.7 441.0,1494.8 434.0,1494.3 427.0,1493.3 418.0,1491.6 405.0,1488.2 399.6,1487.0 393.0,1485.9 391.0,1485.9 389.0,1486.1 387.0,1486.8 385.0,1488.4 383.0,1490.8 378.6,1497.0 376.3,1500.0 374.0,1502.4 371.0,1504.9 368.0,1506.8 365.0,1508.2 361.0,1509.3 358.0,1509.6 354.0,1509.4 351.0,1508.8 347.0,1507.3 344.0,1505.6 341.0,1503.2 338.0,1500.0 335.9,1497.0 333.7,1493.0 331.6,1487.0 330.9,1483.0 330.6,1480.0 330.8,1474.0 331.4,1470.0 332.2,1467.0 333.3,1464.0 334.7,1461.0 336.5,1458.0 338.8,1455.0 343.0,1451.2 345.0,1449.8 348.0,1448.2 352.0,1446.9 356.0,1446.4 360.0,1446.5 364.0,1447.4 367.0,1448.6 371.0,1450.9 374.0,1453.1 380.0,1458.2 382.0,1459.5 384.0,1460.4 387.0,1460.8 390.0,1460.2 403.0,1456.3 421.0,1449.6 430.0,1446.7 439.0,1444.5 448.1,1443.0ZM446.8,1446.0 453.0,1445.4 460.0,1445.5 466.0,1446.2 472.0,1447.7 477.0,1449.7 481.0,1452.1 484.5,1455.0 486.2,1457.0 487.5,1459.0 488.4,1461.0 489.0,1463.0 489.4,1467.0 488.6,1471.0 486.8,1475.0 483.7,1479.0 480.0,1482.3 475.0,1485.5 470.0,1487.8 466.0,1489.2 462.0,1490.2 454.0,1491.6 445.0,1492.0 436.0,1491.6 429.0,1490.6 422.0,1489.2 416.0,1487.6 404.0,1483.6 393.0,1480.4 390.0,1479.7 388.0,1479.7 386.0,1480.7 384.0,1483.0 377.5,1494.0 374.6,1498.0 372.0,1500.7 369.0,1503.0 365.0,1505.2 361.0,1506.4 358.0,1506.8 354.0,1506.6 351.0,1505.9 348.0,1504.7 345.0,1503.0 342.0,1500.6 339.7,1498.0 337.5,1495.0 335.5,1491.0 334.4,1488.0 333.6,1485.0 332.9,1479.0 333.3,1473.0 334.7,1467.0 335.9,1464.0 337.5,1461.0 340.5,1457.0 344.0,1453.7 346.0,1452.3 349.0,1450.8 353.0,1449.6 357.0,1449.2 361.0,1449.5 365.0,1450.7 369.0,1452.8 372.0,1455.0 375.3,1458.0 381.0,1464.0 383.0,1465.8 385.0,1466.9 387.0,1467.1 389.0,1466.6 395.0,1463.8 405.0,1460.0 417.0,1454.5 425.0,1451.4 431.0,1449.4 437.0,1447.8 446.8,1446.0ZM446.0,1448.0 452.0,1447.4 458.0,1447.3 463.0,1447.8 468.0,1448.8 473.0,1450.4 477.0,1452.4 480.6,1455.0 483.4,1458.0 485.2,1461.0 485.9,1463.0 486.3,1465.0 486.2,1468.0 485.2,1472.0 482.9,1476.0 480.2,1479.0 476.5,1482.0 472.0,1484.6 468.0,1486.4 464.0,1487.7 460.0,1488.7 455.0,1489.6 450.0,1490.1 445.0,1490.2 439.0,1489.9 434.0,1489.4 424.0,1487.5 419.0,1486.1 414.0,1484.3 397.9,1477.0 396.0,1475.6 394.6,1474.0 394.2,1473.0 394.2,1472.0 394.5,1471.0 396.0,1469.0 397.2,1468.0 400.4,1466.0 414.9,1458.0 423.0,1454.3 431.0,1451.5 439.0,1449.3 446.0,1448.0ZM356.4,1451.0 360.0,1451.2 364.0,1452.3 368.0,1454.2 372.0,1457.3 376.4,1462.0 380.6,1468.0 382.6,1472.0 383.1,1475.0 382.4,1479.0 379.4,1487.0 376.2,1493.0 373.2,1497.0 370.0,1500.1 366.0,1502.8 362.0,1504.3 360.0,1504.8 357.0,1505.0 354.0,1504.8 352.0,1504.3 348.0,1502.8 344.0,1500.1 341.0,1497.0 338.2,1493.0 336.4,1489.0 335.4,1486.0 334.8,1483.0 334.4,1478.0 334.8,1473.0 335.4,1470.0 336.4,1467.0 338.2,1463.0 341.0,1459.0 344.0,1455.9 348.0,1453.2 352.0,1451.7 356.4,1451.0ZM444.5,1450.0 450.0,1449.3 456.0,1449.1 461.0,1449.4 466.0,1450.3 470.0,1451.5 474.0,1453.3 477.0,1455.2 480.1,1458.0 482.1,1461.0 483.2,1464.0 483.5,1467.0 483.0,1470.0 481.8,1473.0 479.8,1476.0 476.9,1479.0 472.7,1482.0 469.0,1483.9 465.0,1485.5 461.0,1486.7 456.0,1487.7 451.0,1488.3 446.0,1488.4 441.0,1488.3 436.0,1487.8 431.0,1487.0 426.0,1485.9 421.0,1484.5 417.0,1482.9 413.0,1481.0 408.3,1478.0 405.9,1476.0 404.4,1474.0 403.8,1472.0 403.9,1471.0 404.3,1470.0 405.7,1468.0 410.1,1464.0 416.0,1460.1 423.0,1456.5 430.0,1453.7 437.0,1451.6 444.5,1450.0ZM353.6,1453.0 358.0,1452.7 362.0,1453.3 366.0,1454.9 370.0,1457.7 374.2,1462.0 377.6,1467.0 379.3,1471.0 380.1,1475.0 379.9,1479.0 378.7,1484.0 376.6,1489.0 373.7,1494.0 370.1,1498.0 367.0,1500.4 363.0,1502.3 359.0,1503.2 355.0,1503.2 351.0,1502.3 347.0,1500.3 344.0,1498.0 340.6,1494.0 338.4,1490.0 336.7,1485.0 336.0,1481.0 335.8,1477.0 336.4,1472.0 337.9,1467.0 339.9,1463.0 343.0,1459.0 346.0,1456.4 350.0,1454.1 353.6,1453.0ZM450.1,1451.0 455.0,1450.8 459.0,1451.0 463.0,1451.6 467.0,1452.6 470.8,1454.0 474.0,1455.8 476.7,1458.0 478.4,1460.0 479.6,1462.0 480.5,1465.0 480.6,1468.0 479.9,1471.0 478.3,1474.0 476.8,1476.0 474.0,1478.6 471.0,1480.7 468.0,1482.3 465.0,1483.6 461.0,1484.9 457.0,1485.8 453.0,1486.4 448.0,1486.7 439.0,1486.4 434.0,1485.7 429.0,1484.7 425.0,1483.6 421.0,1482.1 418.0,1480.7 415.2,1479.0 412.7,1477.0 411.0,1475.0 410.5,1474.0 410.0,1472.0 410.2,1470.0 411.1,1468.0 413.7,1465.0 416.1,1463.0 419.0,1461.0 426.0,1457.3 434.0,1454.3 442.0,1452.2 450.1,1451.0ZM352.0,1455.0 356.0,1454.3 360.0,1454.5 364.0,1455.7 367.0,1457.3 370.4,1460.0 373.8,1464.0 376.6,1469.0 377.8,1473.0 378.2,1477.0 377.5,1482.0 375.9,1487.0 373.3,1492.0 370.1,1496.0 367.0,1498.6 364.0,1500.2 360.0,1501.5 356.0,1501.7 353.0,1501.3 349.0,1499.7 346.0,1497.8 343.0,1494.8 340.4,1491.0 338.6,1487.0 337.6,1483.0 337.2,1479.0 337.4,1474.0 338.6,1469.0 340.4,1465.0 342.3,1462.0 345.1,1459.0 348.0,1456.8 352.0,1455.0ZM446.9,1453.0 451.0,1452.6 455.0,1452.5 459.0,1452.8 463.0,1453.4 466.0,1454.2 469.0,1455.4 471.8,1457.0 474.3,1459.0 476.0,1461.0 477.5,1464.0 477.9,1466.0 477.7,1469.0 476.7,1472.0 475.5,1474.0 473.7,1476.0 471.0,1478.3 468.0,1480.2 465.0,1481.7 462.0,1482.8 458.0,1483.9 454.0,1484.6 450.0,1485.0 442.0,1485.0 434.0,1483.9 430.0,1483.0 426.0,1481.7 423.0,1480.5 420.0,1478.8 417.5,1477.0 415.7,1475.0 415.2,1474.0 414.6,1472.0 414.5,1471.0 415.0,1469.0 416.9,1466.0 419.0,1464.0 421.0,1462.5 426.0,1459.5 433.0,1456.5 440.0,1454.3 446.9,1453.0ZM354.2,1456.0 358.0,1455.8 362.0,1456.5 365.0,1457.8 368.2,1460.0 371.2,1463.0 373.9,1467.0 375.6,1471.0 376.4,1475.0 376.5,1479.0 375.5,1484.0 374.0,1488.0 371.6,1492.0 369.0,1495.1 366.0,1497.5 363.0,1499.1 359.0,1500.1 356.0,1500.2 352.0,1499.4 349.0,1498.1 346.0,1495.9 343.3,1493.0 340.8,1489.0 339.4,1485.0 338.6,1481.0 338.4,1477.0 338.9,1473.0 340.0,1469.0 342.0,1464.9 344.1,1462.0 347.3,1459.0 351.0,1456.9 354.2,1456.0ZM444.4,1455.0 451.0,1454.2 458.0,1454.3 464.0,1455.5 467.0,1456.7 469.0,1457.7 471.0,1459.1 473.0,1461.0 474.7,1464.0 475.2,1466.0 475.3,1468.0 474.8,1470.0 474.0,1472.0 472.6,1474.0 470.7,1476.0 468.1,1478.0 466.0,1479.2 463.0,1480.6 460.0,1481.7 453.0,1483.1 449.0,1483.5 445.0,1483.5 437.0,1482.7 430.0,1481.0 427.0,1479.9 424.0,1478.4 420.8,1476.0 419.9,1475.0 418.8,1473.0 418.6,1472.0 418.6,1470.0 419.4,1468.0 420.8,1466.0 424.2,1463.0 430.0,1459.6 437.0,1456.9 444.4,1455.0ZM352.0,1458.0 355.0,1457.3 359.0,1457.2 363.0,1458.3 366.0,1460.0 369.0,1462.5 371.8,1466.0 373.4,1469.0 374.7,1473.0 375.2,1477.0 374.9,1481.0 373.8,1485.0 372.1,1489.0 370.0,1492.1 367.0,1495.2 364.0,1497.1 360.0,1498.6 356.0,1498.8 353.0,1498.3 350.0,1497.1 347.0,1495.1 344.9,1493.0 342.8,1490.0 341.3,1487.0 340.1,1483.0 339.6,1479.0 339.8,1475.0 340.6,1471.0 341.7,1468.0 343.4,1465.0 346.0,1461.8 349.0,1459.5 352.0,1458.0ZM447.9,1456.0 455.0,1455.7 461.0,1456.5 466.0,1458.3 468.0,1459.5 470.0,1461.2 471.5,1463.0 472.4,1465.0 472.7,1467.0 472.5,1469.0 471.9,1471.0 470.7,1473.0 468.9,1475.0 467.0,1476.5 462.6,1479.0 457.0,1480.8 451.0,1481.8 444.0,1481.9 437.0,1481.0 431.0,1479.3 426.3,1477.0 425.0,1476.0 423.1,1474.0 422.3,1472.0 422.2,1471.0 422.5,1469.0 423.6,1467.0 424.4,1466.0 427.0,1463.7 431.4,1461.0 436.0,1459.0 442.0,1457.1 447.9,1456.0ZM353.1,1459.0 357.0,1458.4 360.0,1458.7 363.0,1459.7 366.0,1461.5 368.7,1464.0 371.0,1467.0 372.5,1470.0 373.6,1474.0 373.9,1478.0 373.5,1482.0 372.2,1486.0 370.7,1489.0 368.5,1492.0 366.0,1494.4 363.0,1496.2 359.0,1497.4 356.0,1497.5 353.0,1497.0 350.0,1495.7 347.0,1493.5 344.8,1491.0 343.0,1488.0 341.7,1485.0 340.8,1481.0 340.7,1477.0 341.0,1474.0 342.1,1470.0 343.5,1467.0 345.6,1464.0 347.6,1462.0 350.0,1460.3 353.1,1459.0ZM445.1,1458.0 451.0,1457.3 456.0,1457.4 461.0,1458.4 464.9,1460.0 467.6,1462.0 469.0,1463.7 469.6,1465.0 469.9,1466.0 470.1,1468.0 469.2,1471.0 466.9,1474.0 465.0,1475.6 463.0,1476.8 458.0,1478.9 453.0,1480.0 447.0,1480.5 441.0,1480.0 436.0,1479.0 430.9,1477.0 428.0,1475.0 427.0,1474.0 426.0,1472.0 425.8,1470.0 426.0,1469.0 427.1,1467.0 430.3,1464.0 434.0,1461.7 439.0,1459.6 445.1,1458.0ZM354.1,1460.0 357.0,1459.6 360.0,1460.0 363.0,1461.0 366.0,1463.0 368.1,1465.0 370.2,1468.0 371.6,1471.0 372.6,1475.0 372.8,1478.0 372.3,1482.0 371.0,1486.0 369.4,1489.0 367.0,1492.0 365.0,1493.7 362.0,1495.3 359.0,1496.2 356.0,1496.3 353.0,1495.7 350.0,1494.3 348.0,1492.8 346.0,1490.7 344.0,1487.7 342.5,1484.0 341.9,1481.0 341.7,1477.0 342.1,1474.0 342.8,1471.0 344.2,1468.0 346.0,1465.2 348.2,1463.0 351.0,1461.1 354.1,1460.0ZM450.3,1459.0 455.0,1459.1 459.8,1460.0 462.0,1460.9 463.9,1462.0 466.0,1464.0 467.0,1466.0 467.2,1467.0 467.1,1469.0 466.3,1471.0 465.7,1472.0 463.0,1474.5 459.0,1476.7 455.0,1477.9 451.0,1478.6 446.0,1478.8 441.0,1478.2 436.4,1477.0 432.4,1475.0 430.4,1473.0 429.5,1471.0 429.7,1469.0 431.0,1466.8 434.0,1464.1 437.0,1462.4 441.0,1460.8 446.0,1459.5 450.3,1459.0ZM355.4,1461.0 358.0,1460.9 361.0,1461.5 364.0,1463.0 366.0,1464.5 368.2,1467.0 370.0,1470.0 371.1,1473.0 371.6,1476.0 371.5,1480.0 370.9,1483.0 369.8,1486.0 368.1,1489.0 366.0,1491.4 363.9,1493.0 361.0,1494.4 358.0,1495.1 355.0,1494.9 353.0,1494.4 350.2,1493.0 348.0,1491.3 346.0,1488.9 344.4,1486.0 343.3,1483.0 342.8,1480.0 342.8,1476.0 343.3,1473.0 344.4,1470.0 346.0,1467.1 348.0,1464.7 350.0,1463.1 353.0,1461.6 355.4,1461.0ZM447.6,1461.0 451.0,1460.7 455.0,1460.9 459.0,1461.9 461.2,1463.0 463.4,1465.0 464.2,1467.0 464.2,1469.0 463.3,1471.0 461.4,1473.0 458.2,1475.0 455.0,1476.1 451.0,1476.9 447.0,1477.1 443.0,1476.7 439.0,1475.7 436.0,1474.2 434.5,1473.0 433.4,1471.0 433.4,1469.0 434.5,1467.0 436.8,1465.0 440.0,1463.2 443.2,1462.0 447.6,1461.0ZM352.5,1463.0 355.0,1462.2 358.0,1462.1 361.0,1462.7 363.0,1463.6 366.0,1466.0 367.7,1468.0 369.3,1471.0 370.3,1474.0 370.6,1477.0 370.5,1480.0 369.9,1483.0 368.7,1486.0 367.0,1488.7 365.0,1490.8 363.0,1492.3 360.0,1493.6 358.0,1493.9 355.0,1493.8 353.0,1493.2 350.6,1492.0 348.2,1490.0 346.6,1488.0 345.5,1486.0 344.4,1483.0 343.8,1480.0 343.7,1477.0 344.1,1474.0 345.0,1471.0 346.6,1468.0 348.0,1466.2 350.0,1464.4 352.5,1463.0ZM448.3,1463.0 451.0,1462.8 454.0,1463.0 456.0,1463.5 458.0,1464.3 459.9,1466.0 460.4,1467.0 460.6,1468.0 460.1,1470.0 458.4,1472.0 456.9,1473.0 454.0,1474.2 451.0,1474.8 448.0,1475.0 445.0,1474.7 442.0,1474.0 439.8,1473.0 438.6,1472.0 437.9,1471.0 437.7,1470.0 438.0,1468.5 439.0,1467.0 440.2,1466.0 443.0,1464.5 445.0,1463.7 448.3,1463.0ZM353.1,1464.0 355.0,1463.4 358.0,1463.3 361.0,1464.0 363.0,1465.0 365.0,1466.6 367.0,1469.0 368.1,1471.0 369.2,1474.0 369.6,1477.0 369.5,1480.0 368.8,1483.0 367.5,1486.0 366.0,1488.2 364.0,1490.2 362.0,1491.5 359.0,1492.6 356.0,1492.7 354.0,1492.3 352.0,1491.5 350.0,1490.1 348.0,1488.1 347.0,1486.6 345.7,1484.0 345.1,1482.0 344.7,1479.0 344.8,1476.0 345.4,1473.0 346.1,1471.0 347.2,1469.0 349.0,1466.8 351.0,1465.1 353.1,1464.0ZM353.7,1465.0 356.0,1464.4 358.0,1464.4 361.0,1465.2 363.0,1466.3 364.9,1468.0 366.4,1470.0 367.4,1472.0 368.3,1475.0 368.6,1477.0 368.5,1480.0 367.7,1483.0 366.9,1485.0 365.6,1487.0 363.7,1489.0 361.0,1490.7 359.0,1491.4 357.0,1491.6 355.0,1491.4 353.0,1490.7 351.0,1489.5 349.3,1488.0 347.8,1486.0 346.8,1484.0 345.9,1481.0 345.7,1479.0 345.8,1476.0 346.4,1473.0 347.3,1471.0 348.5,1469.0 350.0,1467.3 352.0,1465.8 353.7,1465.0ZM448.1,1466.0 451.0,1465.8 453.0,1466.1 454.6,1467.0 455.3,1468.0 455.3,1469.0 454.7,1470.0 453.4,1471.0 451.0,1471.8 448.0,1472.0 445.0,1471.2 443.7,1470.0 443.6,1469.0 444.1,1468.0 445.4,1467.0 448.1,1466.0ZM356.3,1467.0 358.0,1467.0 360.0,1467.5 362.0,1468.6 363.0,1469.5 364.3,1471.0 365.4,1473.0 366.1,1475.0 366.4,1477.0 366.3,1479.0 366.0,1481.1 365.3,1483.0 364.0,1485.3 362.4,1487.0 361.0,1488.0 359.0,1488.8 357.0,1489.0 354.0,1488.4 352.0,1487.2 350.7,1486.0 349.3,1484.0 348.4,1482.0 348.0,1480.0 347.8,1478.0 348.0,1476.0 348.4,1474.0 350.0,1470.9 351.7,1469.0 353.0,1468.1 355.0,1467.2 356.3,1467.0ZM355.9,1471.0 358.0,1471.0 360.3,1472.0 362.0,1474.0 363.0,1477.0 362.8,1480.0 362.0,1482.0 360.2,1484.0 358.0,1485.0 356.0,1485.0 353.9,1484.0 352.1,1482.0 351.2,1479.0 351.3,1476.0 352.1,1474.0 353.8,1472.0 355.9,1471.0Z" fill="none" stroke="#4d4d4d" stroke-width="1.5" stroke-linejoin="round"/>
<path d="M394.4,1444.8h1.5v1.5h-1.5zM374.2,1527.0h1.5v1.5h-1.5zM439.0,1433.9h1.5v1.5h-1.5zM329.6,1446.4h1.5v1.5h-1.5zM429.3,1439.5h1.5v1.5h-1.5zM539.9,1470.7h1.5v1.5h-1.5zM413.8,1442.7h1.5v1.5h-1.5zM489.4,1438.3h1.5v1.5h-1.5zM418.9,1437.6h1.5v1.5h-1.5zM518.6,1461.6h1.5v1.5h-1.5zM379.1,1444.3h1.5v1.5h-1.5zM400.9,1440.2h1.5v1.5h-1.5zM485.3,1432.6h1.5v1.5h-1.5zM492.4,1498.9h1.5v1.5h-1.5zM325.7,1468.1h1.5v1.5h-1.5zM325.3,1455.4h1.5v1.5h-1.5zM427.7,1502.7h1.5v1.5h-1.5zM387.1,1447.9h1.5v1.5h-1.5zM508.8,1472.4h1.5v1.5h-1.5zM396.1,1450.3h1.5v1.5h-1.5zM505.1,1467.4h1.5v1.5h-1.5zM494.4,1443.3h1.5v1.5h-1.5zM426.3,1438.9h1.5v1.5h-1.5zM501.5,1433.5h1.5v1.5h-1.5zM457.3,1427.3h1.5v1.5h-1.5zM502.5,1450.4h1.5v1.5h-1.5zM412.3,1428.7h1.5v1.5h-1.5zM489.1,1427.4h1.5v1.5h-1.5zM324.7,1455.9h1.5v1.5h-1.5zM386.7,1515.0h1.5v1.5h-1.5zM516.0,1435.0h1.5v1.5h-1.5zM489.4,1441.7h1.5v1.5h-1.5zM323.5,1440.8h1.5v1.5h-1.5zM382.9,1440.8h1.5v1.5h-1.5zM343.0,1442.3h1.5v1.5h-1.5zM323.6,1475.4h1.5v1.5h-1.5zM412.3,1432.4h1.5v1.5h-1.5zM374.3,1419.5h1.5v1.5h-1.5zM377.8,1443.6h1.5v1.5h-1.5zM381.2,1444.0h1.5v1.5h-1.5zM440.8,1434.3h1.5v1.5h-1.5zM333.3,1441.5h1.5v1.5h-1.5zM398.0,1441.9h1.5v1.5h-1.5zM536.7,1466.9h1.5v1.5h-1.5zM354.9,1432.6h1.5v1.5h-1.5zM483.5,1431.4h1.5v1.5h-1.5zM398.7,1434.9h1.5v1.5h-1.5zM491.8,1501.6h1.5v1.5h-1.5zM367.3,1438.2h1.5v1.5h-1.5zM342.9,1442.6h1.5v1.5h-1.5zM514.2,1470.9h1.5v1.5h-1.5zM343.9,1434.4h1.5v1.5h-1.5zM438.1,1411.6h1.5v1.5h-1.5zM338.7,1446.1h1.5v1.5h-1.5zM336.2,1450.0h1.5v1.5h-1.5zM512.8,1466.8h1.5v1.5h-1.5zM396.5,1504.0h1.5v1.5h-1.5zM334.2,1449.0h1.5v1.5h-1.5zM391.7,1445.4h1.5v1.5h-1.5zM364.2,1435.3h1.5v1.5h-1.5zM506.2,1467.6h1.5v1.5h-1.5zM338.8,1441.7h1.5v1.5h-1.5zM387.5,1451.3h1.5v1.5h-1.5zM500.1,1505.5h1.5v1.5h-1.5zM506.0,1459.8h1.5v1.5h-1.5zM503.3,1453.7h1.5v1.5h-1.5zM482.7,1428.8h1.5v1.5h-1.5zM344.9,1438.7h1.5v1.5h-1.5zM335.5,1449.4h1.5v1.5h-1.5zM441.4,1410.3h1.5v1.5h-1.5zM323.2,1447.2h1.5v1.5h-1.5zM394.3,1428.9h1.5v1.5h-1.5zM508.0,1459.1h1.5v1.5h-1.5zM530.9,1464.1h1.5v1.5h-1.5zM515.5,1435.7h1.5v1.5h-1.5zM425.5,1419.9h1.5v1.5h-1.5zM500.1,1479.8h1.5v1.5h-1.5zM345.3,1436.9h1.5v1.5h-1.5zM467.6,1437.0h1.5v1.5h-1.5zM381.5,1450.2h1.5v1.5h-1.5zM523.1,1469.2h1.5v1.5h-1.5zM337.7,1437.1h1.5v1.5h-1.5zM531.2,1457.2h1.5v1.5h-1.5zM500.2,1446.4h1.5v1.5h-1.5zM516.2,1464.0h1.5v1.5h-1.5zM355.3,1434.0h1.5v1.5h-1.5zM401.2,1425.0h1.5v1.5h-1.5zM507.1,1467.8h1.5v1.5h-1.5zM544.2,1454.9h1.5v1.5h-1.5zM339.7,1436.0h1.5v1.5h-1.5zM412.2,1441.2h1.5v1.5h-1.5zM350.7,1438.8h1.5v1.5h-1.5zM334.0,1439.3h1.5v1.5h-1.5zM471.9,1436.3h1.5v1.5h-1.5zM348.4,1440.7h1.5v1.5h-1.5zM378.6,1447.6h1.5v1.5h-1.5zM349.8,1433.8h1.5v1.5h-1.5zM327.4,1455.7h1.5v1.5h-1.5zM509.9,1450.1h1.5v1.5h-1.5zM435.3,1433.2h1.5v1.5h-1.5zM348.2,1441.7h1.5v1.5h-1.5zM421.3,1432.9h1.5v1.5h-1.5zM457.1,1433.6h1.5v1.5h-1.5zM367.0,1434.9h1.5v1.5h-1.5zM495.2,1448.2h1.5v1.5h-1.5zM491.6,1441.3h1.5v1.5h-1.5zM366.6,1431.5h1.5v1.5h-1.5zM366.0,1435.9h1.5v1.5h-1.5zM387.4,1436.2h1.5v1.5h-1.5zM328.2,1459.0h1.5v1.5h-1.5zM388.6,1497.9h1.5v1.5h-1.5zM418.8,1501.4h1.5v1.5h-1.5zM349.4,1428.5h1.5v1.5h-1.5zM331.8,1452.7h1.5v1.5h-1.5zM402.8,1443.8h1.5v1.5h-1.5zM469.6,1426.2h1.5v1.5h-1.5zM358.9,1430.3h1.5v1.5h-1.5zM348.3,1522.3h1.5v1.5h-1.5zM488.0,1432.2h1.5v1.5h-1.5zM403.3,1430.8h1.5v1.5h-1.5zM438.2,1436.1h1.5v1.5h-1.5zM487.9,1496.1h1.5v1.5h-1.5zM346.0,1436.3h1.5v1.5h-1.5zM387.8,1452.2h1.5v1.5h-1.5zM380.2,1431.4h1.5v1.5h-1.5zM526.0,1464.1h1.5v1.5h-1.5zM331.9,1451.0h1.5v1.5h-1.5zM528.5,1473.8h1.5v1.5h-1.5zM515.3,1452.6h1.5v1.5h-1.5zM373.4,1441.6h1.5v1.5h-1.5zM511.3,1455.5h1.5v1.5h-1.5zM461.3,1531.7h1.5v1.5h-1.5zM411.2,1429.0h1.5v1.5h-1.5zM482.6,1429.5h1.5v1.5h-1.5zM515.8,1446.8h1.5v1.5h-1.5zM352.9,1434.7h1.5v1.5h-1.5zM396.4,1442.5h1.5v1.5h-1.5zM356.7,1427.9h1.5v1.5h-1.5zM442.1,1416.5h1.5v1.5h-1.5zM364.8,1437.3h1.5v1.5h-1.5zM452.5,1505.5h1.5v1.5h-1.5zM505.5,1445.6h1.5v1.5h-1.5zM324.1,1473.8h1.5v1.5h-1.5zM473.6,1406.2h1.5v1.5h-1.5zM352.9,1437.0h1.5v1.5h-1.5zM337.4,1439.5h1.5v1.5h-1.5zM444.1,1431.2h1.5v1.5h-1.5zM379.5,1422.1h1.5v1.5h-1.5zM344.4,1442.9h1.5v1.5h-1.5zM455.3,1418.0h1.5v1.5h-1.5z" fill="#4d4d4d"/>
<path d="M554.8,1486.5h1.5v1.5h-1.5zM519.6,1483.5h1.5v1.5h-1.5zM503.4,1457.2h1.5v1.5h-1.5zM518.8,1466.8h1.5v1.5h-1.5zM520.1,1484.0h1.5v1.5h-1.5zM518.7,1452.2h1.5v1.5h-1.5zM515.2,1449.7h1.5v1.5h-1.5zM512.2,1496.4h1.5v1.5h-1.5zM522.4,1477.6h1.5v1.5h-1.5zM527.4,1472.1h1.5v1.5h-1.5zM520.9,1454.8h1.5v1.5h-1.5zM531.9,1456.3h1.5v1.5h-1.5zM539.6,1466.9h1.5v1.5h-1.5zM507.6,1481.2h1.5v1.5h-1.5zM519.4,1467.7h1.5v1.5h-1.5zM524.7,1461.4h1.5v1.5h-1.5zM514.9,1480.4h1.5v1.5h-1.5zM524.2,1479.1h1.5v1.5h-1.5zM521.4,1472.1h1.5v1.5h-1.5zM503.5,1464.7h1.5v1.5h-1.5zM500.3,1476.3h1.5v1.5h-1.5zM513.8,1476.7h1.5v1.5h-1.5zM514.0,1497.4h1.5v1.5h-1.5zM512.5,1467.3h1.5v1.5h-1.5zM510.1,1491.9h1.5v1.5h-1.5zM506.1,1490.1h1.5v1.5h-1.5zM505.4,1475.2h1.5v1.5h-1.5zM506.2,1480.3h1.5v1.5h-1.5zM517.7,1487.1h1.5v1.5h-1.5zM541.3,1488.5h1.5v1.5h-1.5zM512.8,1461.2h1.5v1.5h-1.5zM507.1,1460.2h1.5v1.5h-1.5zM547.9,1482.0h1.5v1.5h-1.5zM501.7,1480.4h1.5v1.5h-1.5zM518.9,1464.8h1.5v1.5h-1.5zM499.4,1487.9h1.5v1.5h-1.5zM519.9,1459.5h1.5v1.5h-1.5zM516.0,1473.1h1.5v1.5h-1.5zM514.0,1481.7h1.5v1.5h-1.5zM510.3,1469.7h1.5v1.5h-1.5zM510.8,1470.9h1.5v1.5h-1.5zM509.6,1472.2h1.5v1.5h-1.5zM519.0,1464.3h1.5v1.5h-1.5zM505.5,1487.1h1.5v1.5h-1.5zM511.4,1489.8h1.5v1.5h-1.5zM529.3,1490.4h1.5v1.5h-1.5zM505.6,1460.3h1.5v1.5h-1.5zM523.5,1486.6h1.5v1.5h-1.5z" fill="#4d4d4d"/>
<path d="M458.5,1553.0 467.0,1553.0 475.0,1553.8 483.0,1555.7 490.0,1558.4 496.0,1561.8 501.2,1566.0 503.1,1568.0 505.4,1571.0 508.2,1576.0 509.7,1581.0 510.1,1584.0 510.1,1587.0 509.8,1590.0 509.1,1593.0 508.1,1596.0 506.7,1599.0 504.8,1602.0 503.0,1604.4 500.7,1607.0 498.0,1609.5 492.0,1614.0 485.0,1617.7 477.0,1620.8 468.0,1622.9 463.0,1623.7 458.0,1624.1 448.0,1624.2 438.0,1623.4 427.0,1621.8 417.0,1619.6 400.0,1614.8 395.0,1613.9 391.0,1613.9 388.0,1614.7 386.0,1615.8 384.0,1617.4 376.0,1624.8 373.0,1626.9 370.0,1628.7 366.0,1630.4 363.0,1631.2 360.0,1631.7 356.0,1631.8 352.0,1631.4 348.0,1630.3 344.0,1628.6 341.0,1626.8 338.0,1624.5 334.6,1621.0 331.7,1617.0 329.5,1613.0 327.4,1607.0 326.5,1603.0 326.2,1600.0 326.3,1593.0 326.7,1590.0 327.7,1586.0 328.7,1583.0 330.5,1579.0 332.3,1576.0 334.6,1573.0 339.0,1568.7 342.0,1566.5 345.0,1564.9 349.0,1563.3 353.0,1562.4 358.0,1562.2 362.0,1562.6 366.0,1563.6 370.0,1565.2 379.0,1570.4 382.0,1571.8 385.0,1572.4 388.0,1572.3 394.5,1571.0 402.0,1569.0 422.0,1561.4 430.0,1558.7 437.0,1556.7 448.0,1554.2 453.0,1553.5 458.5,1553.0ZM453.0,1559.0 461.0,1558.4 468.0,1558.7 475.0,1559.8 482.0,1561.8 488.0,1564.7 493.0,1568.1 496.9,1572.0 498.4,1574.0 500.1,1577.0 501.3,1580.0 501.8,1582.0 502.2,1587.0 501.4,1592.0 499.4,1597.0 497.6,1600.0 496.0,1602.0 492.0,1606.1 489.0,1608.5 486.0,1610.5 480.0,1613.6 472.0,1616.4 467.0,1617.5 463.0,1618.2 454.0,1618.9 444.0,1618.5 435.0,1617.4 426.0,1615.7 418.0,1613.4 402.0,1607.7 395.0,1606.2 390.0,1605.8 387.0,1606.5 385.0,1607.8 383.0,1609.8 376.0,1618.1 373.0,1620.8 370.0,1622.9 367.0,1624.5 363.0,1625.9 360.0,1626.5 356.0,1626.7 353.0,1626.4 349.0,1625.3 346.0,1624.0 342.8,1622.0 340.0,1619.7 337.5,1617.0 335.4,1614.0 333.3,1610.0 331.4,1604.0 330.6,1598.0 331.0,1592.0 331.6,1589.0 332.5,1586.0 334.8,1581.0 336.7,1578.0 338.3,1576.0 340.3,1574.0 343.0,1571.8 345.0,1570.5 348.0,1569.1 352.0,1567.8 356.0,1567.3 360.0,1567.4 364.0,1568.3 367.0,1569.4 371.0,1571.5 380.0,1578.2 382.0,1579.4 384.0,1580.2 387.0,1580.3 400.0,1577.0 404.0,1575.7 420.0,1568.4 427.0,1565.6 433.0,1563.6 444.0,1560.6 453.0,1559.0ZM453.2,1562.0 460.0,1561.5 467.0,1561.7 474.0,1562.9 480.0,1564.7 485.0,1567.1 490.0,1570.6 492.4,1573.0 494.0,1575.0 496.3,1579.0 497.3,1582.0 497.6,1584.0 497.8,1586.0 497.6,1589.0 497.2,1591.0 496.3,1594.0 494.2,1598.0 491.0,1602.0 486.5,1606.0 481.0,1609.5 476.0,1611.8 472.0,1613.1 468.0,1614.2 459.0,1615.6 454.0,1615.9 449.0,1615.8 439.0,1614.9 431.0,1613.5 424.0,1611.6 416.6,1609.0 406.0,1604.0 402.0,1602.4 391.0,1599.5 388.0,1599.3 386.0,1600.1 384.0,1602.1 376.8,1613.0 374.0,1616.2 371.0,1618.9 367.0,1621.5 364.0,1622.8 360.0,1623.7 356.0,1623.9 353.0,1623.5 350.0,1622.7 347.0,1621.4 344.0,1619.6 341.0,1617.0 339.0,1614.7 336.6,1611.0 335.2,1608.0 333.7,1603.0 333.3,1600.0 333.1,1597.0 333.3,1594.0 333.7,1591.0 335.2,1586.0 337.8,1581.0 341.0,1577.0 345.0,1573.7 349.0,1571.6 353.0,1570.4 357.0,1570.1 361.0,1570.4 365.0,1571.5 369.0,1573.5 372.0,1575.6 374.8,1578.0 381.0,1584.1 383.0,1585.7 385.0,1586.7 387.0,1586.9 389.0,1586.4 394.7,1584.0 404.0,1580.8 419.0,1572.7 429.0,1568.3 435.0,1566.2 441.0,1564.4 448.0,1562.8 453.2,1562.0ZM453.1,1564.0 460.0,1563.5 466.0,1563.7 472.0,1564.6 477.0,1566.0 482.0,1568.2 486.4,1571.0 489.7,1574.0 492.6,1578.0 494.2,1582.0 494.8,1586.0 494.5,1590.0 493.3,1594.0 491.0,1598.0 487.6,1602.0 484.0,1605.0 479.0,1608.1 475.0,1609.9 470.0,1611.6 465.0,1612.8 460.0,1613.5 455.0,1613.9 449.0,1613.9 443.0,1613.4 437.0,1612.5 431.0,1611.3 426.0,1609.9 421.0,1608.1 417.0,1606.3 412.8,1604.0 404.0,1598.4 398.2,1595.0 397.0,1594.0 396.3,1593.0 396.1,1592.0 396.4,1591.0 397.1,1590.0 398.3,1589.0 405.0,1584.9 415.0,1577.8 422.0,1573.8 429.0,1570.6 438.0,1567.3 446.0,1565.2 453.1,1564.0ZM355.2,1572.0 359.0,1572.0 363.0,1572.8 367.0,1574.4 371.0,1577.1 375.1,1581.0 379.7,1587.0 381.9,1591.0 382.6,1594.0 382.5,1596.0 382.1,1598.0 380.3,1603.0 377.3,1609.0 373.7,1614.0 370.6,1617.0 367.0,1619.5 363.0,1621.2 361.0,1621.7 358.0,1622.1 354.0,1621.9 350.0,1620.8 346.0,1618.8 342.5,1616.0 339.9,1613.0 337.5,1609.0 335.6,1604.0 334.8,1599.0 334.9,1594.0 335.9,1589.0 337.5,1585.0 340.0,1580.8 343.0,1577.5 347.0,1574.6 351.0,1572.8 355.2,1572.0ZM452.5,1566.0 458.0,1565.5 464.0,1565.6 469.0,1566.1 474.0,1567.3 479.0,1569.2 483.0,1571.5 486.1,1574.0 488.8,1577.0 490.5,1580.0 491.8,1584.0 492.0,1587.0 491.4,1591.0 489.9,1595.0 487.9,1598.0 485.2,1601.0 481.6,1604.0 478.0,1606.2 474.0,1608.1 470.0,1609.5 465.0,1610.8 460.0,1611.6 455.0,1612.0 450.0,1612.0 444.0,1611.6 438.0,1610.7 432.0,1609.3 427.0,1607.8 422.3,1606.0 418.0,1603.8 413.9,1601.0 410.7,1598.0 409.1,1596.0 408.1,1594.0 407.7,1592.0 407.7,1591.0 408.4,1589.0 409.5,1587.0 412.1,1584.0 415.4,1581.0 418.0,1579.0 425.0,1574.8 434.0,1570.8 444.0,1567.6 452.5,1566.0ZM353.7,1574.0 358.0,1573.7 362.0,1574.3 366.0,1575.9 369.3,1578.0 371.6,1580.0 373.5,1582.0 376.4,1586.0 378.4,1590.0 379.4,1594.0 379.3,1598.0 378.1,1603.0 375.8,1608.0 373.1,1612.0 370.3,1615.0 367.0,1617.5 363.0,1619.3 359.0,1620.2 355.0,1620.2 351.0,1619.3 347.0,1617.4 344.0,1615.1 341.2,1612.0 338.8,1608.0 337.3,1604.0 336.5,1600.0 336.4,1595.0 337.0,1591.0 338.3,1587.0 340.5,1583.0 343.0,1579.9 346.0,1577.3 350.0,1575.1 353.7,1574.0ZM451.5,1568.0 457.0,1567.4 462.0,1567.4 467.0,1567.8 471.0,1568.6 475.0,1569.8 479.0,1571.7 482.0,1573.7 484.6,1576.0 487.0,1579.0 488.4,1582.0 489.1,1585.0 489.2,1588.0 488.4,1592.0 487.0,1595.0 484.9,1598.0 481.9,1601.0 479.0,1603.2 475.9,1605.0 472.0,1606.8 468.0,1608.1 463.0,1609.3 459.0,1609.9 455.0,1610.2 450.0,1610.2 444.0,1609.7 439.0,1608.9 434.0,1607.7 429.0,1606.2 425.0,1604.6 421.0,1602.4 417.7,1600.0 415.6,1598.0 414.2,1596.0 413.3,1594.0 413.0,1592.0 413.1,1590.0 413.8,1588.0 415.0,1586.0 417.5,1583.0 419.7,1581.0 422.4,1579.0 426.0,1576.8 434.0,1572.9 443.0,1569.8 451.5,1568.0ZM352.5,1576.0 356.0,1575.4 360.0,1575.6 364.0,1576.8 367.9,1579.0 371.0,1581.7 373.6,1585.0 375.8,1589.0 377.0,1593.0 377.3,1597.0 376.7,1601.0 375.4,1605.0 373.3,1609.0 370.1,1613.0 367.0,1615.5 364.0,1617.2 360.0,1618.4 356.0,1618.6 353.0,1618.1 349.0,1616.6 346.0,1614.7 343.2,1612.0 341.1,1609.0 339.2,1605.0 338.2,1601.0 337.8,1597.0 338.2,1593.0 339.2,1589.0 341.1,1585.0 343.2,1582.0 346.0,1579.3 349.0,1577.4 352.5,1576.0ZM449.9,1570.0 454.0,1569.4 459.0,1569.1 464.0,1569.3 468.0,1569.8 472.0,1570.8 475.0,1572.0 478.0,1573.5 481.0,1575.7 483.3,1578.0 485.0,1580.6 486.0,1583.0 486.6,1586.0 486.5,1589.0 485.8,1592.0 484.3,1595.0 482.8,1597.0 481.0,1599.0 478.0,1601.5 475.0,1603.4 471.0,1605.2 467.0,1606.6 463.0,1607.6 455.0,1608.5 451.0,1608.5 446.0,1608.2 441.0,1607.4 436.0,1606.3 432.0,1605.1 428.0,1603.5 425.0,1601.9 422.0,1599.9 419.9,1598.0 418.4,1596.0 417.4,1594.0 417.0,1592.0 417.1,1590.0 417.7,1588.0 418.8,1586.0 420.4,1584.0 422.4,1582.0 426.0,1579.3 433.0,1575.4 441.0,1572.3 446.0,1570.8 449.9,1570.0ZM355.7,1577.0 359.0,1577.0 363.0,1578.1 366.0,1579.6 369.0,1581.9 371.7,1585.0 373.6,1588.0 374.8,1591.0 375.5,1595.0 375.4,1599.0 374.5,1603.0 372.8,1607.0 370.8,1610.0 368.0,1612.9 365.0,1615.0 362.0,1616.3 358.0,1617.0 354.0,1616.8 351.0,1615.9 348.0,1614.3 345.0,1611.8 342.8,1609.0 340.7,1605.0 339.8,1602.0 339.2,1598.0 339.4,1594.0 340.3,1590.0 341.6,1587.0 343.5,1584.0 346.0,1581.2 349.0,1579.1 352.0,1577.8 355.7,1577.0ZM454.4,1571.0 459.0,1570.7 463.0,1570.9 467.0,1571.4 470.0,1572.2 473.0,1573.2 476.5,1575.0 479.2,1577.0 481.1,1579.0 482.5,1581.0 483.8,1584.0 484.1,1586.0 484.1,1589.0 483.2,1592.0 482.3,1594.0 480.1,1597.0 478.0,1599.0 475.3,1601.0 473.0,1602.4 470.0,1603.8 466.0,1605.1 459.0,1606.5 455.0,1606.8 451.0,1606.8 446.0,1606.5 442.0,1605.9 438.0,1604.9 434.0,1603.7 428.0,1601.0 425.1,1599.0 423.0,1597.0 421.1,1594.0 420.7,1592.0 420.7,1590.0 421.3,1588.0 422.4,1586.0 424.0,1584.0 426.1,1582.0 428.8,1580.0 432.0,1578.1 439.0,1574.8 447.0,1572.3 454.4,1571.0ZM353.0,1579.0 356.0,1578.5 360.0,1578.7 363.0,1579.6 366.0,1581.3 369.0,1583.9 371.0,1586.5 372.8,1590.0 373.7,1593.0 374.1,1596.0 373.8,1600.0 372.6,1604.0 371.1,1607.0 368.9,1610.0 366.0,1612.6 363.0,1614.3 360.0,1615.3 357.0,1615.6 354.0,1615.3 351.0,1614.3 348.0,1612.5 346.0,1610.8 343.7,1608.0 342.1,1605.0 340.9,1601.0 340.6,1598.0 340.7,1594.0 341.7,1590.0 343.1,1587.0 345.0,1584.3 347.3,1582.0 350.0,1580.2 353.0,1579.0ZM451.4,1573.0 455.0,1572.5 459.0,1572.3 463.0,1572.5 466.0,1573.0 469.0,1573.7 472.0,1574.8 475.0,1576.4 477.2,1578.0 479.1,1580.0 480.4,1582.0 481.3,1584.0 481.8,1587.0 481.5,1590.0 480.8,1592.0 479.7,1594.0 478.2,1596.0 476.2,1598.0 474.0,1599.7 469.0,1602.3 466.0,1603.4 462.0,1604.4 455.0,1605.3 451.0,1605.3 447.0,1605.0 440.0,1603.7 436.0,1602.4 433.0,1601.2 430.0,1599.5 427.9,1598.0 425.2,1595.0 424.3,1593.0 424.0,1591.0 424.7,1588.0 425.8,1586.0 427.4,1584.0 429.7,1582.0 432.0,1580.3 438.0,1577.1 445.0,1574.5 451.4,1573.0ZM354.9,1580.0 358.0,1579.9 361.0,1580.4 364.0,1581.7 367.0,1583.9 369.0,1586.0 370.8,1589.0 372.0,1592.0 372.6,1595.0 372.5,1599.0 371.9,1602.0 370.7,1605.0 368.8,1608.0 367.0,1610.0 364.0,1612.3 361.0,1613.6 358.0,1614.1 355.0,1614.0 352.0,1613.2 349.0,1611.6 347.1,1610.0 345.0,1607.5 343.5,1605.0 342.5,1602.0 341.9,1599.0 341.9,1595.0 342.5,1592.0 343.5,1589.0 345.0,1586.5 347.0,1584.1 349.0,1582.4 352.0,1580.8 354.9,1580.0ZM455.9,1574.0 462.0,1574.1 465.0,1574.5 468.0,1575.2 471.0,1576.3 473.0,1577.4 475.2,1579.0 477.1,1581.0 478.4,1583.0 479.1,1585.0 479.4,1587.0 479.3,1589.0 478.8,1591.0 477.9,1593.0 476.5,1595.0 474.0,1597.4 470.0,1600.0 467.0,1601.4 464.0,1602.4 458.0,1603.5 452.0,1603.8 445.0,1603.0 439.0,1601.5 436.0,1600.4 433.3,1599.0 431.0,1597.4 429.5,1596.0 428.7,1595.0 427.7,1593.0 427.4,1592.0 427.4,1590.0 427.9,1588.0 429.0,1586.0 431.8,1583.0 434.5,1581.0 437.0,1579.5 443.0,1576.8 449.2,1575.0 455.9,1574.0ZM352.6,1582.0 355.0,1581.4 358.0,1581.2 361.0,1581.8 364.0,1583.2 366.3,1585.0 368.1,1587.0 369.9,1590.0 370.9,1593.0 371.3,1596.0 371.2,1599.0 370.6,1602.0 369.3,1605.0 367.2,1608.0 365.1,1610.0 363.0,1611.3 360.0,1612.4 358.0,1612.8 355.0,1612.6 352.0,1611.7 350.0,1610.7 347.9,1609.0 346.0,1606.8 344.5,1604.0 343.5,1601.0 343.0,1598.0 343.1,1595.0 343.7,1592.0 344.9,1589.0 346.2,1587.0 348.0,1584.9 350.0,1583.3 352.6,1582.0ZM452.2,1576.0 458.0,1575.5 464.0,1576.0 469.0,1577.5 471.0,1578.5 473.0,1579.9 474.2,1581.0 475.7,1583.0 476.6,1585.0 477.0,1587.0 476.9,1589.0 476.4,1591.0 474.6,1594.0 471.5,1597.0 467.0,1599.6 462.0,1601.2 456.0,1602.1 450.0,1602.1 444.0,1601.1 439.0,1599.5 436.0,1598.1 434.4,1597.0 433.0,1595.8 431.6,1594.0 431.0,1592.9 430.6,1591.0 430.6,1590.0 431.1,1588.0 433.1,1585.0 436.6,1582.0 441.0,1579.5 446.0,1577.5 452.2,1576.0ZM353.9,1583.0 356.0,1582.6 359.0,1582.7 362.0,1583.6 364.0,1584.8 366.0,1586.5 367.9,1589.0 369.0,1591.2 369.8,1594.0 370.1,1597.0 369.8,1600.0 369.0,1602.6 367.8,1605.0 366.0,1607.4 364.0,1609.2 362.0,1610.3 359.0,1611.3 356.0,1611.4 354.0,1611.0 352.0,1610.3 349.9,1609.0 348.0,1607.3 346.4,1605.0 345.4,1603.0 344.5,1600.0 344.2,1598.0 344.3,1595.0 345.0,1592.0 346.0,1589.6 347.0,1588.0 349.0,1585.7 351.0,1584.3 353.9,1583.0ZM450.1,1578.0 456.0,1577.1 461.0,1577.2 466.0,1578.3 469.8,1580.0 472.2,1582.0 473.0,1583.0 474.1,1585.0 474.6,1588.0 474.3,1590.0 473.4,1592.0 471.0,1595.0 469.0,1596.5 467.0,1597.7 463.0,1599.3 458.0,1600.4 453.0,1600.7 447.0,1600.1 442.9,1599.0 438.4,1597.0 435.8,1595.0 435.0,1594.0 434.0,1592.0 433.7,1590.0 434.0,1588.7 434.7,1587.0 437.0,1584.3 440.1,1582.0 445.0,1579.6 450.1,1578.0ZM355.4,1584.0 358.0,1583.9 360.0,1584.3 362.0,1585.1 364.7,1587.0 366.4,1589.0 367.6,1591.0 368.3,1593.0 368.9,1596.0 368.7,1599.0 368.3,1601.0 367.5,1603.0 366.0,1605.5 364.0,1607.6 362.0,1608.9 360.0,1609.7 358.0,1610.1 355.0,1609.9 353.0,1609.3 351.0,1608.2 349.5,1607.0 347.8,1605.0 346.7,1603.0 345.9,1601.0 345.4,1598.0 345.5,1595.0 345.9,1593.0 346.7,1591.0 348.0,1588.7 349.5,1587.0 351.0,1585.8 353.0,1584.7 355.4,1584.0ZM453.6,1579.0 458.0,1578.7 462.0,1579.1 466.0,1580.3 469.0,1582.1 471.0,1584.3 472.0,1587.0 472.0,1588.4 471.7,1590.0 471.0,1591.5 470.0,1593.0 467.8,1595.0 464.3,1597.0 460.0,1598.4 456.0,1598.9 451.0,1598.9 447.0,1598.2 443.0,1596.9 439.7,1595.0 437.9,1593.0 437.1,1591.0 437.1,1589.0 438.0,1587.0 438.7,1586.0 441.0,1583.9 445.0,1581.5 449.0,1580.0 453.6,1579.0ZM353.3,1586.0 355.0,1585.4 357.0,1585.2 359.0,1585.4 361.0,1586.0 363.0,1587.2 364.8,1589.0 366.2,1591.0 367.0,1593.0 367.5,1595.0 367.6,1598.0 367.3,1600.0 366.6,1602.0 365.5,1604.0 364.0,1605.8 362.0,1607.4 360.0,1608.3 358.0,1608.7 356.0,1608.7 354.0,1608.3 352.0,1607.3 350.3,1606.0 349.0,1604.6 348.0,1603.0 347.2,1601.0 346.7,1599.0 346.6,1596.0 346.9,1594.0 347.6,1592.0 348.6,1590.0 350.0,1588.3 351.5,1587.0 353.3,1586.0ZM453.2,1581.0 457.0,1580.7 460.0,1580.8 463.0,1581.5 466.0,1583.0 468.0,1585.0 468.9,1587.0 469.0,1588.0 468.6,1590.0 467.5,1592.0 465.3,1594.0 463.0,1595.3 460.0,1596.4 456.0,1597.0 452.0,1597.0 449.0,1596.6 446.0,1595.6 443.1,1594.0 442.0,1593.0 440.9,1591.0 440.8,1589.0 441.7,1587.0 443.6,1585.0 446.9,1583.0 450.0,1581.8 453.2,1581.0ZM354.8,1587.0 357.0,1586.7 359.0,1586.9 362.0,1588.3 363.0,1589.1 364.6,1591.0 365.6,1593.0 366.1,1595.0 366.3,1597.0 366.1,1599.0 365.0,1602.2 364.0,1603.8 362.8,1605.0 361.0,1606.3 359.0,1607.1 357.0,1607.3 355.0,1607.1 352.0,1605.6 351.0,1604.7 349.6,1603.0 348.6,1601.0 348.0,1599.0 347.9,1597.0 348.0,1595.0 349.0,1592.0 350.0,1590.4 351.3,1589.0 353.0,1587.7 354.8,1587.0ZM454.0,1583.0 457.0,1582.8 459.3,1583.0 462.0,1583.8 464.0,1585.0 465.0,1586.2 465.6,1588.0 465.2,1590.0 464.6,1591.0 463.0,1592.5 461.0,1593.7 459.0,1594.4 456.0,1594.9 453.0,1594.9 451.0,1594.7 448.7,1594.0 446.8,1593.0 445.7,1592.0 445.0,1591.0 444.7,1590.0 445.0,1588.3 445.8,1587.0 447.0,1585.8 449.0,1584.6 451.0,1583.7 454.0,1583.0ZM353.7,1589.0 355.0,1588.5 357.0,1588.1 360.0,1588.8 361.9,1590.0 362.9,1591.0 364.0,1592.7 364.5,1594.0 364.9,1596.0 364.9,1598.0 364.1,1601.0 363.0,1602.8 362.0,1603.9 360.4,1605.0 359.0,1605.6 356.0,1605.8 354.0,1605.2 353.0,1604.6 351.0,1602.7 349.6,1600.0 349.2,1597.0 349.6,1594.0 351.3,1591.0 352.2,1590.0 353.7,1589.0ZM452.9,1587.0 456.0,1586.3 458.0,1586.6 458.8,1587.0 459.7,1588.0 459.8,1589.0 459.3,1590.0 457.7,1591.0 455.0,1591.5 453.0,1591.2 451.2,1590.0 451.0,1589.0 451.5,1588.0 452.9,1587.0ZM356.1,1590.0 358.0,1590.0 359.0,1590.3 361.0,1591.5 362.0,1592.6 362.8,1594.0 363.3,1596.0 363.1,1599.0 362.3,1601.0 360.4,1603.0 358.0,1604.0 356.0,1604.0 355.0,1603.7 353.0,1602.4 352.0,1601.2 351.4,1600.0 350.8,1598.0 351.0,1595.0 352.0,1592.8 354.0,1590.8 356.1,1590.0Z" fill="none" stroke="#e8242a" stroke-width="1.55" stroke-linejoin="round"/>
<path d="M449.8,1544.0h1.5v1.5h-1.5zM414.9,1552.5h1.5v1.5h-1.5zM462.1,1537.9h1.5v1.5h-1.5zM405.3,1556.2h1.5v1.5h-1.5zM396.5,1557.4h1.5v1.5h-1.5zM520.0,1592.5h1.5v1.5h-1.5zM367.1,1632.7h1.5v1.5h-1.5zM512.4,1602.8h1.5v1.5h-1.5zM445.6,1553.9h1.5v1.5h-1.5zM377.1,1557.6h1.5v1.5h-1.5zM435.8,1631.5h1.5v1.5h-1.5zM416.9,1545.2h1.5v1.5h-1.5zM338.0,1625.3h1.5v1.5h-1.5zM427.1,1547.2h1.5v1.5h-1.5zM342.8,1562.8h1.5v1.5h-1.5zM389.2,1629.0h1.5v1.5h-1.5zM344.8,1556.6h1.5v1.5h-1.5zM331.5,1575.7h1.5v1.5h-1.5zM342.4,1558.0h1.5v1.5h-1.5zM516.7,1563.1h1.5v1.5h-1.5zM509.6,1565.5h1.5v1.5h-1.5zM445.0,1540.4h1.5v1.5h-1.5zM326.2,1579.5h1.5v1.5h-1.5zM346.4,1633.3h1.5v1.5h-1.5zM401.9,1564.8h1.5v1.5h-1.5zM497.8,1548.0h1.5v1.5h-1.5zM483.5,1551.5h1.5v1.5h-1.5zM394.1,1552.2h1.5v1.5h-1.5zM403.9,1618.8h1.5v1.5h-1.5zM478.8,1539.3h1.5v1.5h-1.5zM502.0,1552.1h1.5v1.5h-1.5zM449.7,1537.3h1.5v1.5h-1.5zM455.4,1624.9h1.5v1.5h-1.5zM360.4,1536.0h1.5v1.5h-1.5zM416.8,1558.1h1.5v1.5h-1.5zM514.7,1570.8h1.5v1.5h-1.5zM324.5,1580.5h1.5v1.5h-1.5zM444.1,1540.7h1.5v1.5h-1.5zM476.8,1551.3h1.5v1.5h-1.5zM530.1,1556.7h1.5v1.5h-1.5zM455.9,1520.3h1.5v1.5h-1.5zM515.3,1581.2h1.5v1.5h-1.5zM495.7,1551.2h1.5v1.5h-1.5zM407.2,1526.9h1.5v1.5h-1.5zM401.6,1567.2h1.5v1.5h-1.5zM350.9,1550.1h1.5v1.5h-1.5zM511.6,1589.0h1.5v1.5h-1.5zM503.3,1564.7h1.5v1.5h-1.5zM452.8,1545.4h1.5v1.5h-1.5zM525.1,1601.9h1.5v1.5h-1.5zM474.1,1547.3h1.5v1.5h-1.5zM433.3,1543.5h1.5v1.5h-1.5zM512.8,1589.5h1.5v1.5h-1.5zM335.9,1563.7h1.5v1.5h-1.5zM425.6,1553.2h1.5v1.5h-1.5zM496.9,1551.2h1.5v1.5h-1.5zM438.2,1554.0h1.5v1.5h-1.5zM386.6,1568.8h1.5v1.5h-1.5zM505.1,1548.3h1.5v1.5h-1.5zM433.7,1633.7h1.5v1.5h-1.5zM508.4,1571.3h1.5v1.5h-1.5zM454.2,1531.4h1.5v1.5h-1.5zM526.4,1584.1h1.5v1.5h-1.5zM436.1,1555.3h1.5v1.5h-1.5zM340.8,1559.6h1.5v1.5h-1.5zM342.0,1556.2h1.5v1.5h-1.5zM401.4,1624.6h1.5v1.5h-1.5zM395.5,1629.4h1.5v1.5h-1.5zM391.7,1554.9h1.5v1.5h-1.5zM465.6,1542.6h1.5v1.5h-1.5zM480.8,1548.5h1.5v1.5h-1.5zM356.5,1560.9h1.5v1.5h-1.5zM330.9,1575.6h1.5v1.5h-1.5zM385.4,1563.7h1.5v1.5h-1.5zM430.6,1632.1h1.5v1.5h-1.5zM331.1,1568.3h1.5v1.5h-1.5zM396.1,1558.1h1.5v1.5h-1.5zM334.2,1563.2h1.5v1.5h-1.5zM339.8,1563.2h1.5v1.5h-1.5zM513.9,1575.5h1.5v1.5h-1.5zM408.4,1563.5h1.5v1.5h-1.5zM530.5,1590.0h1.5v1.5h-1.5zM471.7,1549.1h1.5v1.5h-1.5zM515.5,1570.8h1.5v1.5h-1.5zM378.5,1566.7h1.5v1.5h-1.5zM539.4,1583.5h1.5v1.5h-1.5zM474.5,1553.0h1.5v1.5h-1.5zM420.2,1535.9h1.5v1.5h-1.5zM377.8,1558.3h1.5v1.5h-1.5zM440.6,1544.5h1.5v1.5h-1.5zM378.8,1625.3h1.5v1.5h-1.5zM434.1,1551.1h1.5v1.5h-1.5zM513.2,1580.6h1.5v1.5h-1.5zM442.0,1632.8h1.5v1.5h-1.5zM450.9,1629.0h1.5v1.5h-1.5zM441.2,1636.3h1.5v1.5h-1.5zM443.3,1551.8h1.5v1.5h-1.5zM375.3,1561.5h1.5v1.5h-1.5zM427.5,1547.1h1.5v1.5h-1.5zM400.9,1562.8h1.5v1.5h-1.5zM494.1,1553.0h1.5v1.5h-1.5zM469.6,1543.4h1.5v1.5h-1.5zM379.6,1566.9h1.5v1.5h-1.5zM434.5,1526.9h1.5v1.5h-1.5zM512.5,1538.8h1.5v1.5h-1.5zM509.8,1555.8h1.5v1.5h-1.5zM345.8,1542.7h1.5v1.5h-1.5zM423.2,1629.9h1.5v1.5h-1.5zM463.1,1543.6h1.5v1.5h-1.5zM339.5,1567.1h1.5v1.5h-1.5zM404.9,1552.4h1.5v1.5h-1.5zM340.1,1567.0h1.5v1.5h-1.5zM401.7,1566.0h1.5v1.5h-1.5zM423.5,1556.3h1.5v1.5h-1.5zM455.4,1638.5h1.5v1.5h-1.5zM330.8,1556.7h1.5v1.5h-1.5zM376.0,1565.3h1.5v1.5h-1.5zM415.3,1559.8h1.5v1.5h-1.5zM322.9,1588.3h1.5v1.5h-1.5zM347.7,1639.8h1.5v1.5h-1.5zM412.9,1534.5h1.5v1.5h-1.5zM480.9,1543.2h1.5v1.5h-1.5zM499.5,1562.6h1.5v1.5h-1.5zM345.2,1556.5h1.5v1.5h-1.5zM361.8,1548.8h1.5v1.5h-1.5zM391.4,1621.1h1.5v1.5h-1.5zM373.0,1654.2h1.5v1.5h-1.5zM513.3,1550.6h1.5v1.5h-1.5zM464.6,1543.3h1.5v1.5h-1.5zM514.9,1542.3h1.5v1.5h-1.5zM379.0,1567.8h1.5v1.5h-1.5zM367.5,1523.5h1.5v1.5h-1.5zM372.0,1559.2h1.5v1.5h-1.5zM499.5,1559.8h1.5v1.5h-1.5zM511.8,1581.6h1.5v1.5h-1.5zM343.0,1560.4h1.5v1.5h-1.5zM506.1,1569.0h1.5v1.5h-1.5zM363.7,1546.5h1.5v1.5h-1.5zM326.0,1555.3h1.5v1.5h-1.5zM361.1,1642.3h1.5v1.5h-1.5zM431.3,1557.4h1.5v1.5h-1.5zM502.0,1546.6h1.5v1.5h-1.5zM328.7,1574.8h1.5v1.5h-1.5zM493.0,1545.4h1.5v1.5h-1.5zM348.7,1539.2h1.5v1.5h-1.5zM510.9,1576.4h1.5v1.5h-1.5zM434.6,1535.7h1.5v1.5h-1.5zM552.8,1581.2h1.5v1.5h-1.5zM522.9,1565.4h1.5v1.5h-1.5zM419.3,1542.1h1.5v1.5h-1.5zM329.3,1579.0h1.5v1.5h-1.5zM481.9,1626.8h1.5v1.5h-1.5zM384.5,1562.2h1.5v1.5h-1.5zM454.1,1627.1h1.5v1.5h-1.5zM514.6,1571.9h1.5v1.5h-1.5zM486.5,1539.7h1.5v1.5h-1.5zM425.5,1559.4h1.5v1.5h-1.5zM398.6,1560.5h1.5v1.5h-1.5zM329.6,1615.3h1.5v1.5h-1.5zM439.0,1552.5h1.5v1.5h-1.5zM348.3,1644.0h1.5v1.5h-1.5zM404.3,1559.3h1.5v1.5h-1.5zM386.3,1562.4h1.5v1.5h-1.5zM471.6,1538.8h1.5v1.5h-1.5zM322.7,1587.8h1.5v1.5h-1.5zM414.1,1563.4h1.5v1.5h-1.5zM488.4,1553.8h1.5v1.5h-1.5zM454.0,1548.9h1.5v1.5h-1.5zM366.1,1556.6h1.5v1.5h-1.5zM391.9,1563.8h1.5v1.5h-1.5z" fill="#e8242a"/>
<path d="M522.6,1591.4h1.5v1.5h-1.5zM542.5,1571.2h1.5v1.5h-1.5zM525.6,1591.8h1.5v1.5h-1.5zM519.8,1589.6h1.5v1.5h-1.5zM516.8,1581.0h1.5v1.5h-1.5zM524.9,1604.9h1.5v1.5h-1.5zM540.3,1587.4h1.5v1.5h-1.5zM525.1,1615.2h1.5v1.5h-1.5zM520.3,1573.0h1.5v1.5h-1.5zM516.2,1630.3h1.5v1.5h-1.5zM515.1,1576.8h1.5v1.5h-1.5zM520.5,1585.4h1.5v1.5h-1.5zM526.3,1592.4h1.5v1.5h-1.5zM524.2,1611.1h1.5v1.5h-1.5zM516.8,1577.7h1.5v1.5h-1.5zM540.4,1581.5h1.5v1.5h-1.5zM542.0,1615.6h1.5v1.5h-1.5zM524.2,1575.0h1.5v1.5h-1.5zM548.7,1607.3h1.5v1.5h-1.5zM531.1,1616.3h1.5v1.5h-1.5zM521.1,1590.2h1.5v1.5h-1.5zM517.2,1586.7h1.5v1.5h-1.5zM521.6,1587.0h1.5v1.5h-1.5zM513.0,1592.5h1.5v1.5h-1.5zM506.2,1611.7h1.5v1.5h-1.5zM532.5,1605.6h1.5v1.5h-1.5zM517.4,1598.2h1.5v1.5h-1.5zM507.6,1627.2h1.5v1.5h-1.5zM509.4,1598.4h1.5v1.5h-1.5zM530.3,1612.7h1.5v1.5h-1.5zM527.0,1583.0h1.5v1.5h-1.5zM517.1,1598.3h1.5v1.5h-1.5zM524.0,1582.5h1.5v1.5h-1.5zM498.4,1613.5h1.5v1.5h-1.5zM535.1,1602.6h1.5v1.5h-1.5zM540.6,1598.8h1.5v1.5h-1.5zM523.6,1593.0h1.5v1.5h-1.5zM511.3,1593.9h1.5v1.5h-1.5zM539.2,1600.5h1.5v1.5h-1.5zM521.7,1575.9h1.5v1.5h-1.5zM513.3,1611.5h1.5v1.5h-1.5zM513.9,1597.2h1.5v1.5h-1.5zM514.4,1615.2h1.5v1.5h-1.5zM521.3,1604.7h1.5v1.5h-1.5zM510.7,1592.8h1.5v1.5h-1.5zM534.3,1582.2h1.5v1.5h-1.5zM514.7,1603.2h1.5v1.5h-1.5zM517.7,1589.7h1.5v1.5h-1.5z" fill="#e8242a"/>
<path d="M350.6,1679.0 354.0,1678.4 358.0,1678.2 362.0,1678.7 366.0,1679.7 370.0,1681.5 373.0,1683.3 381.7,1690.0 384.0,1691.5 387.0,1692.7 390.0,1693.0 399.0,1692.4 406.0,1691.3 429.0,1684.4 437.0,1682.5 444.0,1681.2 451.0,1680.4 458.0,1680.2 465.0,1680.7 471.0,1681.7 477.0,1683.4 483.0,1686.0 488.0,1689.2 492.2,1693.0 495.1,1697.0 496.5,1700.0 497.1,1702.0 497.7,1706.0 497.6,1709.0 497.3,1711.0 496.3,1714.0 494.4,1718.0 491.4,1722.0 488.0,1725.4 484.0,1728.5 479.0,1731.4 474.0,1733.7 469.0,1735.5 462.0,1737.3 455.0,1738.4 448.0,1738.9 441.0,1738.9 433.0,1738.4 425.0,1737.5 403.0,1733.7 397.0,1733.2 393.0,1733.5 390.0,1734.4 387.5,1736.0 385.0,1738.4 380.3,1744.0 377.0,1747.4 373.0,1750.6 370.0,1752.5 365.0,1754.6 361.0,1755.5 356.0,1755.8 352.0,1755.3 349.0,1754.6 346.0,1753.4 341.0,1750.6 336.7,1747.0 332.5,1742.0 329.5,1737.0 327.1,1731.0 325.6,1725.0 324.9,1718.0 325.3,1711.0 326.5,1705.0 328.6,1699.0 331.8,1693.0 335.7,1688.0 340.0,1684.1 345.0,1681.0 348.0,1679.8 350.6,1679.0ZM351.8,1684.0 355.0,1683.5 359.0,1683.5 363.0,1684.2 367.0,1685.6 370.0,1687.2 373.0,1689.3 383.0,1698.3 386.0,1699.8 389.0,1700.3 400.0,1699.1 405.0,1698.2 409.0,1697.0 427.0,1690.5 434.0,1688.5 442.0,1686.7 449.0,1685.8 455.0,1685.5 461.0,1685.7 466.0,1686.4 471.0,1687.7 476.0,1689.6 480.3,1692.0 484.0,1695.0 486.6,1698.0 488.6,1702.0 489.5,1706.0 489.3,1710.0 488.5,1713.0 487.0,1716.0 484.9,1719.0 482.0,1722.1 478.2,1725.0 474.0,1727.5 470.0,1729.4 465.0,1731.1 459.0,1732.6 452.0,1733.5 445.0,1733.8 438.0,1733.6 430.0,1732.8 423.0,1731.6 408.0,1727.9 403.0,1726.9 396.0,1726.2 391.0,1726.3 388.0,1727.4 386.0,1728.9 384.0,1731.1 379.1,1738.0 376.6,1741.0 373.0,1744.5 370.0,1746.7 366.0,1748.8 362.0,1750.1 358.0,1750.6 353.0,1750.3 348.0,1748.8 344.0,1746.7 340.0,1743.6 338.0,1741.5 336.0,1739.0 333.5,1735.0 331.4,1730.0 329.8,1724.0 329.2,1718.0 329.5,1712.0 330.7,1706.0 332.6,1701.0 335.3,1696.0 339.0,1691.4 343.0,1688.0 347.0,1685.6 351.8,1684.0ZM351.1,1687.0 355.0,1686.2 359.0,1686.2 363.0,1687.0 367.0,1688.6 370.0,1690.4 373.3,1693.0 376.3,1696.0 382.0,1702.3 384.0,1704.1 386.0,1705.3 387.0,1705.7 389.0,1705.9 401.0,1703.8 405.0,1702.8 409.0,1701.3 419.0,1696.8 425.0,1694.4 432.0,1692.1 439.0,1690.3 445.0,1689.2 452.0,1688.5 458.0,1688.5 464.0,1689.3 469.0,1690.5 473.0,1692.1 477.0,1694.3 480.3,1697.0 482.7,1700.0 484.1,1703.0 484.8,1706.0 484.7,1710.0 483.3,1714.0 481.5,1717.0 478.0,1720.8 474.0,1723.7 469.0,1726.4 464.0,1728.3 459.0,1729.6 453.0,1730.6 448.0,1730.9 442.0,1730.9 437.0,1730.6 431.0,1729.9 425.0,1728.8 420.0,1727.6 407.0,1723.2 403.0,1722.2 393.0,1720.7 391.0,1720.7 389.0,1721.0 387.0,1722.0 385.0,1724.1 376.7,1737.0 373.1,1741.0 370.0,1743.6 366.0,1745.9 362.0,1747.2 358.0,1747.8 353.0,1747.5 350.0,1746.7 348.0,1745.9 344.0,1743.5 341.0,1741.0 337.6,1737.0 335.2,1733.0 333.2,1728.0 332.0,1723.0 331.5,1718.0 331.7,1713.0 332.6,1708.0 334.3,1703.0 336.9,1698.0 340.0,1694.0 343.0,1691.2 347.0,1688.6 351.1,1687.0ZM355.3,1688.0 359.0,1688.0 363.0,1688.8 367.0,1690.5 371.0,1693.2 375.0,1697.0 379.7,1703.0 385.2,1711.0 385.7,1712.0 386.1,1714.0 385.4,1717.0 380.3,1728.0 377.5,1733.0 374.0,1737.7 371.0,1740.7 367.0,1743.5 365.0,1744.4 362.0,1745.5 358.0,1746.1 353.0,1745.7 349.0,1744.4 345.0,1742.2 341.0,1738.7 338.1,1735.0 335.5,1730.0 333.7,1724.0 333.0,1719.0 333.2,1713.0 334.1,1708.0 335.9,1703.0 338.8,1698.0 342.0,1694.3 346.0,1691.1 349.0,1689.6 351.0,1688.8 355.3,1688.0ZM445.6,1691.0 451.0,1690.5 457.0,1690.4 462.0,1691.0 467.0,1692.2 471.0,1693.7 475.0,1696.0 477.4,1698.0 479.9,1701.0 481.3,1704.0 481.8,1707.0 481.8,1709.0 481.4,1711.0 480.2,1714.0 478.2,1717.0 475.2,1720.0 471.0,1723.0 467.0,1725.0 463.0,1726.5 459.0,1727.6 451.0,1728.8 446.0,1729.1 441.0,1729.0 436.0,1728.6 431.0,1727.8 423.0,1726.0 416.0,1723.6 405.0,1718.4 396.5,1715.0 395.2,1714.0 394.8,1713.0 395.0,1712.0 396.0,1711.0 397.0,1710.4 404.0,1707.5 415.7,1701.0 423.0,1697.5 428.0,1695.5 434.0,1693.5 440.0,1692.0 445.6,1691.0ZM352.8,1690.0 357.0,1689.5 359.0,1689.6 362.0,1690.2 366.0,1691.7 370.0,1694.3 372.0,1696.1 374.7,1699.0 378.2,1704.0 379.9,1707.0 381.2,1710.0 382.1,1714.0 382.2,1716.0 381.7,1719.0 380.2,1724.0 377.5,1730.0 374.3,1735.0 371.0,1738.7 367.0,1741.7 363.0,1743.5 359.0,1744.4 355.0,1744.4 351.0,1743.5 347.0,1741.7 343.0,1738.6 339.8,1735.0 337.5,1731.0 335.5,1726.0 334.5,1721.0 334.3,1716.0 334.8,1711.0 336.2,1706.0 338.5,1701.0 341.4,1697.0 345.0,1693.7 349.0,1691.3 352.8,1690.0ZM444.4,1693.0 449.0,1692.4 454.0,1692.2 459.0,1692.5 463.0,1693.2 467.0,1694.4 470.6,1696.0 473.6,1698.0 475.7,1700.0 477.2,1702.0 478.5,1705.0 478.9,1708.0 478.4,1711.0 477.2,1714.0 475.8,1716.0 473.0,1718.9 470.0,1721.1 467.0,1722.8 464.0,1724.1 460.0,1725.4 456.0,1726.4 452.0,1726.9 447.0,1727.3 438.0,1726.9 433.0,1726.2 428.0,1725.2 423.9,1724.0 420.0,1722.6 416.7,1721.0 413.5,1719.0 411.1,1717.0 409.5,1715.0 408.8,1713.0 408.8,1712.0 409.5,1710.0 412.1,1707.0 414.4,1705.0 417.3,1703.0 423.0,1699.8 430.0,1696.9 437.0,1694.6 444.4,1693.0ZM351.4,1692.0 354.0,1691.4 356.0,1691.1 360.0,1691.3 364.0,1692.5 366.0,1693.4 368.4,1695.0 372.0,1698.2 375.7,1703.0 378.3,1708.0 379.4,1711.0 379.8,1713.0 379.9,1717.0 379.1,1722.0 377.3,1727.0 374.7,1732.0 371.7,1736.0 368.0,1739.3 364.0,1741.5 360.0,1742.6 356.0,1742.9 352.0,1742.2 348.0,1740.5 344.5,1738.0 341.6,1735.0 339.0,1731.0 337.3,1727.0 336.0,1722.0 335.6,1717.0 336.0,1712.0 337.3,1707.0 339.0,1703.0 341.6,1699.0 344.5,1696.0 348.0,1693.5 351.4,1692.0ZM443.7,1695.0 451.0,1694.2 458.0,1694.4 464.0,1695.6 467.0,1696.8 469.3,1698.0 471.0,1699.2 473.0,1701.0 474.5,1703.0 475.4,1705.0 475.8,1707.0 475.7,1710.0 475.1,1712.0 474.0,1714.0 472.5,1716.0 470.5,1718.0 468.0,1719.8 465.0,1721.5 459.0,1723.7 455.0,1724.6 451.0,1725.2 443.0,1725.4 439.0,1725.1 434.0,1724.4 429.0,1723.2 425.3,1722.0 422.0,1720.6 419.3,1719.0 417.9,1718.0 416.0,1716.0 415.3,1715.0 414.6,1713.0 414.6,1712.0 415.1,1710.0 416.3,1708.0 418.2,1706.0 423.0,1702.5 429.0,1699.5 436.0,1696.9 443.7,1695.0ZM353.4,1693.0 356.0,1692.6 358.0,1692.6 362.0,1693.3 366.0,1695.1 369.0,1697.2 372.6,1701.0 375.2,1705.0 377.3,1710.0 378.2,1714.0 378.2,1718.0 377.3,1723.0 375.4,1728.0 373.0,1732.2 370.0,1735.8 367.0,1738.2 363.0,1740.3 359.0,1741.3 355.0,1741.3 351.0,1740.3 347.0,1738.2 344.3,1736.0 341.8,1733.0 339.4,1729.0 337.7,1724.0 337.0,1720.0 336.8,1716.0 337.4,1711.0 338.6,1707.0 340.5,1703.0 343.0,1699.4 346.0,1696.5 350.0,1694.1 353.4,1693.0ZM452.8,1696.0 459.0,1696.5 464.1,1698.0 467.0,1699.4 469.0,1700.9 470.2,1702.0 471.7,1704.0 472.5,1706.0 472.8,1708.0 472.6,1710.0 472.0,1712.0 470.8,1714.0 469.1,1716.0 467.0,1717.8 465.0,1719.1 460.0,1721.4 454.0,1722.9 448.0,1723.6 441.0,1723.4 434.0,1722.3 428.0,1720.4 423.4,1718.0 422.0,1716.9 420.3,1715.0 419.8,1714.0 419.4,1712.0 419.5,1711.0 420.3,1709.0 422.8,1706.0 427.0,1703.0 433.1,1700.0 440.0,1697.7 447.0,1696.4 452.8,1696.0ZM355.2,1694.0 359.0,1694.0 362.0,1694.7 366.0,1696.5 369.2,1699.0 371.8,1702.0 374.3,1706.0 376.2,1711.0 376.9,1715.0 376.8,1719.0 375.7,1724.0 374.1,1728.0 371.7,1732.0 369.0,1735.1 366.0,1737.4 362.0,1739.3 358.0,1740.1 354.0,1739.8 350.0,1738.5 347.0,1736.7 344.1,1734.0 341.8,1731.0 339.8,1727.0 338.6,1723.0 338.0,1719.0 338.1,1714.0 338.8,1710.0 340.2,1706.0 342.5,1702.0 345.0,1699.0 348.0,1696.6 352.0,1694.7 355.2,1694.0ZM448.0,1698.0 454.0,1697.8 457.0,1698.1 460.0,1698.8 464.0,1700.3 466.0,1701.6 467.6,1703.0 468.4,1704.0 469.4,1706.0 469.8,1708.0 469.7,1710.0 469.0,1712.0 468.0,1713.6 466.8,1715.0 465.0,1716.6 461.0,1718.9 456.0,1720.7 450.0,1721.7 444.0,1721.8 438.0,1721.1 432.0,1719.5 428.0,1717.6 426.0,1716.2 424.9,1715.0 423.8,1713.0 423.7,1712.0 424.0,1710.0 424.4,1709.0 425.9,1707.0 428.3,1705.0 432.0,1702.7 437.0,1700.6 442.2,1699.0 448.0,1698.0ZM352.1,1696.0 356.0,1695.2 360.0,1695.5 364.0,1696.8 367.0,1698.7 370.0,1701.6 372.4,1705.0 374.3,1709.0 375.4,1713.0 375.7,1717.0 375.3,1721.0 374.1,1725.0 372.0,1729.5 370.0,1732.3 367.0,1735.2 364.0,1737.1 360.0,1738.5 356.0,1738.8 353.0,1738.3 350.0,1737.1 347.0,1735.2 344.0,1732.1 342.0,1729.1 340.6,1726.0 339.4,1722.0 339.0,1718.0 339.1,1714.0 339.9,1710.0 341.4,1706.0 343.2,1703.0 346.0,1699.7 349.0,1697.4 352.1,1696.0ZM447.1,1700.0 452.0,1699.7 457.0,1700.2 459.8,1701.0 462.0,1702.0 464.7,1704.0 465.5,1705.0 466.4,1707.0 466.6,1708.0 466.5,1710.0 466.0,1711.5 465.1,1713.0 463.0,1715.1 460.0,1717.1 455.0,1718.9 450.0,1719.8 445.0,1719.9 440.0,1719.4 434.8,1718.0 430.9,1716.0 428.9,1714.0 428.1,1712.0 428.3,1710.0 429.4,1708.0 431.5,1706.0 434.5,1704.0 439.0,1702.0 443.0,1700.8 447.1,1700.0ZM352.8,1697.0 356.0,1696.4 360.0,1696.7 363.0,1697.6 366.0,1699.4 368.9,1702.0 371.2,1705.0 373.2,1709.0 374.3,1713.0 374.6,1717.0 374.1,1721.0 373.0,1725.0 371.0,1729.0 368.8,1732.0 366.0,1734.6 363.0,1736.3 359.0,1737.5 356.0,1737.6 353.0,1737.1 350.0,1735.8 347.0,1733.7 344.5,1731.0 342.6,1728.0 341.3,1725.0 340.3,1721.0 339.9,1717.0 340.3,1713.0 341.3,1709.0 342.6,1706.0 344.5,1703.0 347.0,1700.3 350.0,1698.2 352.8,1697.0ZM447.5,1702.0 451.0,1701.8 455.0,1702.1 458.1,1703.0 460.1,1704.0 461.4,1705.0 462.8,1707.0 463.2,1709.0 463.0,1710.2 462.2,1712.0 460.3,1714.0 457.0,1716.0 454.1,1717.0 451.0,1717.6 447.0,1717.9 443.0,1717.7 439.7,1717.0 436.9,1716.0 435.1,1715.0 433.9,1714.0 433.0,1712.7 432.6,1711.0 433.2,1709.0 434.9,1707.0 437.9,1705.0 440.0,1704.0 443.0,1702.9 447.5,1702.0ZM353.5,1698.0 357.0,1697.5 360.0,1697.8 363.0,1698.9 366.0,1700.7 369.0,1703.7 371.0,1706.8 372.4,1710.0 373.3,1714.0 373.5,1718.0 372.9,1722.0 371.5,1726.0 370.0,1728.7 368.0,1731.3 365.0,1733.9 362.0,1735.5 359.0,1736.3 356.0,1736.5 353.0,1735.9 350.0,1734.5 347.0,1732.3 345.0,1730.0 343.2,1727.0 342.0,1724.0 341.1,1720.0 340.9,1717.0 341.2,1713.0 342.3,1709.0 343.7,1706.0 345.8,1703.0 348.0,1700.8 351.0,1698.9 353.5,1698.0ZM445.0,1705.0 450.0,1704.3 453.0,1704.5 455.0,1705.0 457.0,1706.0 458.1,1707.0 458.7,1708.0 458.9,1709.0 458.8,1710.0 458.0,1711.5 456.5,1713.0 454.7,1714.0 452.0,1714.9 450.0,1715.3 447.0,1715.4 444.0,1715.1 442.0,1714.6 440.5,1714.0 439.0,1713.0 438.2,1712.0 437.9,1711.0 437.9,1710.0 439.0,1708.3 440.5,1707.0 442.3,1706.0 445.0,1705.0ZM353.8,1699.0 357.0,1698.6 360.0,1698.9 363.0,1700.0 365.9,1702.0 368.0,1704.1 370.0,1707.0 371.4,1710.0 372.4,1714.0 372.6,1717.0 372.1,1721.0 370.9,1725.0 369.3,1728.0 367.0,1731.0 365.0,1732.7 362.0,1734.4 359.0,1735.3 356.0,1735.4 353.0,1734.8 350.0,1733.3 348.0,1731.8 346.0,1729.7 344.0,1726.5 342.6,1723.0 342.0,1720.0 341.8,1717.0 342.1,1713.0 342.9,1710.0 344.2,1707.0 346.0,1704.3 348.2,1702.0 351.0,1700.1 353.8,1699.0ZM447.7,1709.0 450.0,1708.9 450.3,1709.0 450.9,1710.0 449.0,1711.0 448.0,1711.0 446.7,1710.0 447.7,1709.0ZM353.1,1702.0 356.0,1701.3 358.0,1701.3 361.0,1702.0 363.0,1703.0 365.0,1704.5 367.2,1707.0 368.8,1710.0 369.8,1713.0 370.2,1716.0 370.1,1719.0 369.5,1722.0 368.0,1725.6 366.4,1728.0 364.0,1730.3 362.0,1731.5 359.0,1732.5 356.0,1732.7 354.0,1732.3 352.0,1731.5 350.0,1730.2 348.0,1728.3 346.3,1726.0 345.4,1724.0 344.4,1721.0 344.0,1718.0 344.1,1715.0 344.7,1712.0 345.8,1709.0 347.0,1707.0 349.0,1704.6 351.0,1703.0 353.1,1702.0ZM356.0,1704.0 358.0,1704.0 360.0,1704.4 362.0,1705.4 364.0,1707.0 365.6,1709.0 366.7,1711.0 367.4,1713.0 367.9,1716.0 367.8,1719.0 367.4,1721.0 366.2,1724.0 365.0,1725.9 364.0,1727.0 362.0,1728.6 360.0,1729.5 358.0,1730.0 356.0,1730.0 354.0,1729.5 352.0,1728.6 350.0,1726.9 348.5,1725.0 347.4,1723.0 346.7,1721.0 346.3,1718.0 346.4,1715.0 346.7,1713.0 347.9,1710.0 349.0,1708.3 350.1,1707.0 352.0,1705.4 354.0,1704.5 356.0,1704.0ZM356.3,1707.0 358.0,1707.0 360.0,1707.6 362.0,1708.9 363.0,1709.9 364.7,1713.0 365.2,1715.0 365.4,1717.0 365.2,1719.0 364.7,1721.0 363.0,1724.0 362.0,1725.1 360.0,1726.4 359.0,1726.8 357.0,1727.0 355.0,1726.7 354.0,1726.3 352.0,1725.0 351.1,1724.0 349.4,1721.0 348.9,1719.0 348.7,1717.0 348.9,1715.0 349.4,1713.0 351.0,1710.1 352.0,1709.0 353.4,1708.0 355.0,1707.3 356.3,1707.0ZM355.1,1711.0 357.0,1710.6 359.0,1711.0 361.0,1712.7 362.1,1715.0 362.3,1718.0 361.8,1720.0 361.0,1721.3 360.0,1722.4 358.0,1723.3 356.0,1723.3 354.0,1722.3 352.9,1721.0 352.0,1719.0 351.8,1716.0 352.3,1714.0 353.7,1712.0 355.1,1711.0Z" fill="none" stroke="#111" stroke-width="1.9" stroke-linejoin="round"/>
<path d="M499.6,1694.2h1.5v1.5h-1.5zM404.2,1688.2h1.5v1.5h-1.5zM354.4,1671.6h1.5v1.5h-1.5zM512.0,1707.0h1.5v1.5h-1.5zM385.3,1742.9h1.5v1.5h-1.5zM362.2,1662.6h1.5v1.5h-1.5zM335.0,1687.3h1.5v1.5h-1.5zM352.6,1756.4h1.5v1.5h-1.5zM519.9,1712.4h1.5v1.5h-1.5zM413.8,1687.7h1.5v1.5h-1.5zM330.2,1688.3h1.5v1.5h-1.5zM379.0,1681.1h1.5v1.5h-1.5zM405.5,1760.7h1.5v1.5h-1.5zM381.7,1685.8h1.5v1.5h-1.5zM347.7,1677.4h1.5v1.5h-1.5zM482.0,1674.4h1.5v1.5h-1.5zM340.7,1755.1h1.5v1.5h-1.5zM498.6,1720.1h1.5v1.5h-1.5zM397.1,1756.2h1.5v1.5h-1.5zM513.6,1686.3h1.5v1.5h-1.5zM495.7,1695.7h1.5v1.5h-1.5zM356.8,1760.4h1.5v1.5h-1.5zM480.1,1676.9h1.5v1.5h-1.5zM499.2,1718.1h1.5v1.5h-1.5zM469.1,1677.8h1.5v1.5h-1.5zM502.5,1703.1h1.5v1.5h-1.5zM330.3,1678.7h1.5v1.5h-1.5zM448.8,1748.3h1.5v1.5h-1.5zM457.4,1660.6h1.5v1.5h-1.5zM387.0,1684.3h1.5v1.5h-1.5zM341.0,1674.5h1.5v1.5h-1.5zM450.2,1679.3h1.5v1.5h-1.5zM369.7,1661.9h1.5v1.5h-1.5zM323.6,1676.1h1.5v1.5h-1.5zM411.9,1676.3h1.5v1.5h-1.5zM415.3,1748.6h1.5v1.5h-1.5zM457.5,1670.7h1.5v1.5h-1.5zM326.3,1693.9h1.5v1.5h-1.5zM401.7,1682.6h1.5v1.5h-1.5zM498.0,1711.9h1.5v1.5h-1.5zM539.4,1697.0h1.5v1.5h-1.5zM490.4,1668.6h1.5v1.5h-1.5zM345.0,1664.3h1.5v1.5h-1.5zM433.1,1658.7h1.5v1.5h-1.5zM358.3,1674.8h1.5v1.5h-1.5zM379.2,1675.9h1.5v1.5h-1.5zM416.8,1671.0h1.5v1.5h-1.5zM475.5,1675.1h1.5v1.5h-1.5zM465.3,1666.2h1.5v1.5h-1.5zM437.9,1743.0h1.5v1.5h-1.5zM504.2,1694.2h1.5v1.5h-1.5zM324.6,1699.6h1.5v1.5h-1.5zM478.1,1741.7h1.5v1.5h-1.5zM510.8,1706.4h1.5v1.5h-1.5zM336.5,1679.8h1.5v1.5h-1.5zM499.6,1688.2h1.5v1.5h-1.5zM371.4,1678.8h1.5v1.5h-1.5zM473.7,1681.6h1.5v1.5h-1.5zM413.0,1687.7h1.5v1.5h-1.5zM530.3,1707.3h1.5v1.5h-1.5zM408.0,1679.7h1.5v1.5h-1.5zM512.9,1705.4h1.5v1.5h-1.5zM326.1,1704.4h1.5v1.5h-1.5zM330.4,1689.1h1.5v1.5h-1.5zM336.8,1683.6h1.5v1.5h-1.5zM513.8,1699.5h1.5v1.5h-1.5zM377.5,1761.7h1.5v1.5h-1.5zM501.9,1682.5h1.5v1.5h-1.5zM423.4,1676.8h1.5v1.5h-1.5zM358.2,1758.7h1.5v1.5h-1.5zM335.7,1684.1h1.5v1.5h-1.5zM338.6,1679.4h1.5v1.5h-1.5zM483.3,1666.3h1.5v1.5h-1.5zM390.9,1683.5h1.5v1.5h-1.5zM404.3,1675.5h1.5v1.5h-1.5zM323.4,1739.5h1.5v1.5h-1.5zM329.9,1678.8h1.5v1.5h-1.5zM337.8,1672.9h1.5v1.5h-1.5zM335.1,1668.4h1.5v1.5h-1.5zM475.9,1680.4h1.5v1.5h-1.5zM413.3,1686.1h1.5v1.5h-1.5zM456.7,1678.8h1.5v1.5h-1.5zM485.7,1737.8h1.5v1.5h-1.5zM421.2,1749.5h1.5v1.5h-1.5zM468.3,1744.6h1.5v1.5h-1.5zM380.5,1686.3h1.5v1.5h-1.5zM391.7,1663.2h1.5v1.5h-1.5zM322.1,1705.1h1.5v1.5h-1.5zM504.6,1711.2h1.5v1.5h-1.5zM375.6,1750.4h1.5v1.5h-1.5zM379.8,1681.6h1.5v1.5h-1.5zM437.5,1681.1h1.5v1.5h-1.5zM445.4,1677.6h1.5v1.5h-1.5zM440.3,1744.2h1.5v1.5h-1.5zM472.6,1672.9h1.5v1.5h-1.5zM335.3,1684.7h1.5v1.5h-1.5zM374.2,1677.1h1.5v1.5h-1.5zM541.7,1708.4h1.5v1.5h-1.5zM484.1,1667.8h1.5v1.5h-1.5zM398.0,1685.2h1.5v1.5h-1.5z" fill="#111"/>
<path d="M538.1,1710.9h1.5v1.5h-1.5zM521.0,1698.4h1.5v1.5h-1.5zM538.0,1695.1h1.5v1.5h-1.5zM516.1,1709.6h1.5v1.5h-1.5zM507.6,1710.8h1.5v1.5h-1.5zM516.7,1702.7h1.5v1.5h-1.5zM504.1,1715.0h1.5v1.5h-1.5zM540.9,1705.6h1.5v1.5h-1.5zM520.7,1719.9h1.5v1.5h-1.5zM524.8,1699.8h1.5v1.5h-1.5zM502.1,1721.6h1.5v1.5h-1.5zM516.1,1728.9h1.5v1.5h-1.5zM516.4,1714.4h1.5v1.5h-1.5zM503.0,1722.9h1.5v1.5h-1.5zM499.2,1719.9h1.5v1.5h-1.5zM510.5,1758.4h1.5v1.5h-1.5zM501.4,1706.4h1.5v1.5h-1.5zM531.0,1734.9h1.5v1.5h-1.5zM528.5,1708.8h1.5v1.5h-1.5zM514.5,1738.9h1.5v1.5h-1.5zM498.5,1692.4h1.5v1.5h-1.5zM509.2,1718.4h1.5v1.5h-1.5zM503.7,1704.3h1.5v1.5h-1.5zM516.3,1718.6h1.5v1.5h-1.5zM509.5,1721.4h1.5v1.5h-1.5zM511.4,1716.5h1.5v1.5h-1.5zM512.6,1714.1h1.5v1.5h-1.5zM510.8,1696.0h1.5v1.5h-1.5zM501.9,1732.6h1.5v1.5h-1.5zM523.6,1733.6h1.5v1.5h-1.5zM548.3,1752.5h1.5v1.5h-1.5zM540.1,1725.0h1.5v1.5h-1.5zM528.3,1719.5h1.5v1.5h-1.5zM504.3,1713.7h1.5v1.5h-1.5zM505.3,1736.3h1.5v1.5h-1.5zM515.9,1716.0h1.5v1.5h-1.5zM503.7,1731.5h1.5v1.5h-1.5zM512.0,1719.7h1.5v1.5h-1.5zM517.7,1696.2h1.5v1.5h-1.5zM545.4,1720.1h1.5v1.5h-1.5zM499.5,1716.7h1.5v1.5h-1.5zM510.5,1747.7h1.5v1.5h-1.5zM521.5,1724.8h1.5v1.5h-1.5zM537.8,1729.8h1.5v1.5h-1.5zM506.6,1693.9h1.5v1.5h-1.5zM516.3,1706.2h1.5v1.5h-1.5zM516.4,1726.3h1.5v1.5h-1.5zM510.6,1707.6h1.5v1.5h-1.5z" fill="#111"/>
<line x1="391.5" y1="1271.4" x2="391.5" y2="1821.5" stroke="#000" stroke-width="4.8" stroke-linecap="butt" stroke-dasharray="18.8 16.7"/>
<line x1="323.0" y1="1820.6" x2="671.5" y2="1820.6" stroke="#000" stroke-width="2.6" stroke-linecap="butt" />
<line x1="477.0" y1="1820.6" x2="477.0" y2="1831.1" stroke="#000" stroke-width="2.2" stroke-linecap="butt" />
<line x1="563.0" y1="1820.6" x2="563.0" y2="1831.1" stroke="#000" stroke-width="2.2" stroke-linecap="butt" />
<line x1="645.5" y1="1820.6" x2="645.5" y2="1831.1" stroke="#000" stroke-width="2.2" stroke-linecap="butt" />
<line x1="324.0" y1="1820.6" x2="324.0" y2="1831.1" stroke="#000" stroke-width="2.2" stroke-linecap="butt" />
<line x1="357.0" y1="1820.6" x2="357.0" y2="1831.5" stroke="#000" stroke-width="6.5" stroke-linecap="butt" />
<line x1="391.5" y1="1820.0" x2="391.5" y2="1831.0" stroke="#000" stroke-width="2.2" stroke-linecap="butt" />
<line x1="414.8" y1="1820.6" x2="414.8" y2="1825.5" stroke="#000" stroke-width="1.8" stroke-linecap="butt" />
<line x1="429.6" y1="1820.6" x2="429.6" y2="1825.5" stroke="#000" stroke-width="1.8" stroke-linecap="butt" />
<line x1="441.2" y1="1820.6" x2="441.2" y2="1826.5" stroke="#000" stroke-width="1.8" stroke-linecap="butt" />
<line x1="450.6" y1="1820.6" x2="450.6" y2="1825.5" stroke="#000" stroke-width="1.8" stroke-linecap="butt" />
<line x1="458.6" y1="1820.6" x2="458.6" y2="1825.5" stroke="#000" stroke-width="1.8" stroke-linecap="butt" />
<line x1="465.5" y1="1820.6" x2="465.5" y2="1825.5" stroke="#000" stroke-width="1.8" stroke-linecap="butt" />
<line x1="471.6" y1="1820.6" x2="471.6" y2="1825.5" stroke="#000" stroke-width="1.8" stroke-linecap="butt" />
<line x1="502.9" y1="1820.6" x2="502.9" y2="1826.5" stroke="#000" stroke-width="1.8" stroke-linecap="butt" />
<line x1="518.0" y1="1820.6" x2="518.0" y2="1825.5" stroke="#000" stroke-width="1.8" stroke-linecap="butt" />
<line x1="528.8" y1="1820.6" x2="528.8" y2="1825.5" stroke="#000" stroke-width="1.8" stroke-linecap="butt" />
<line x1="537.1" y1="1820.6" x2="537.1" y2="1826.5" stroke="#000" stroke-width="1.8" stroke-linecap="butt" />
<line x1="543.9" y1="1820.6" x2="543.9" y2="1825.5" stroke="#000" stroke-width="1.8" stroke-linecap="butt" />
<line x1="549.7" y1="1820.6" x2="549.7" y2="1825.5" stroke="#000" stroke-width="1.8" stroke-linecap="butt" />
<line x1="554.7" y1="1820.6" x2="554.7" y2="1825.5" stroke="#000" stroke-width="1.8" stroke-linecap="butt" />
<line x1="559.1" y1="1820.6" x2="559.1" y2="1825.5" stroke="#000" stroke-width="1.8" stroke-linecap="butt" />
<line x1="587.8" y1="1820.6" x2="587.8" y2="1826.5" stroke="#000" stroke-width="1.8" stroke-linecap="butt" />
<line x1="602.4" y1="1820.6" x2="602.4" y2="1825.5" stroke="#000" stroke-width="1.8" stroke-linecap="butt" />
<line x1="612.7" y1="1820.6" x2="612.7" y2="1825.5" stroke="#000" stroke-width="1.8" stroke-linecap="butt" />
<line x1="620.7" y1="1820.6" x2="620.7" y2="1826.5" stroke="#000" stroke-width="1.8" stroke-linecap="butt" />
<line x1="627.2" y1="1820.6" x2="627.2" y2="1825.5" stroke="#000" stroke-width="1.8" stroke-linecap="butt" />
<line x1="632.7" y1="1820.6" x2="632.7" y2="1825.5" stroke="#000" stroke-width="1.8" stroke-linecap="butt" />
<line x1="637.5" y1="1820.6" x2="637.5" y2="1825.5" stroke="#000" stroke-width="1.8" stroke-linecap="butt" />
<line x1="641.7" y1="1820.6" x2="641.7" y2="1825.5" stroke="#000" stroke-width="1.8" stroke-linecap="butt" />
<line x1="669.6" y1="1820.6" x2="669.6" y2="1826.5" stroke="#000" stroke-width="1.8" stroke-linecap="butt" />
<line x1="324.0" y1="1820.6" x2="324.0" y2="1824.5" stroke="#000" stroke-width="1.6" stroke-linecap="butt" />
<line x1="327.4" y1="1820.6" x2="327.4" y2="1826.5" stroke="#000" stroke-width="1.6" stroke-linecap="butt" />
<line x1="330.8" y1="1820.6" x2="330.8" y2="1826.5" stroke="#000" stroke-width="1.6" stroke-linecap="butt" />
<line x1="334.2" y1="1820.6" x2="334.2" y2="1826.5" stroke="#000" stroke-width="1.6" stroke-linecap="butt" />
<line x1="337.6" y1="1820.6" x2="337.6" y2="1826.5" stroke="#000" stroke-width="1.6" stroke-linecap="butt" />
<line x1="341.0" y1="1820.6" x2="341.0" y2="1826.5" stroke="#000" stroke-width="1.6" stroke-linecap="butt" />
<line x1="344.4" y1="1820.6" x2="344.4" y2="1826.5" stroke="#000" stroke-width="1.6" stroke-linecap="butt" />
<line x1="347.8" y1="1820.6" x2="347.8" y2="1826.5" stroke="#000" stroke-width="1.6" stroke-linecap="butt" />
<line x1="351.2" y1="1820.6" x2="351.2" y2="1826.5" stroke="#000" stroke-width="1.6" stroke-linecap="butt" />
<line x1="354.6" y1="1820.6" x2="354.6" y2="1826.5" stroke="#000" stroke-width="1.6" stroke-linecap="butt" />
<line x1="358.0" y1="1820.6" x2="358.0" y2="1824.5" stroke="#000" stroke-width="1.6" stroke-linecap="butt" />
<line x1="361.4" y1="1820.6" x2="361.4" y2="1824.5" stroke="#000" stroke-width="1.6" stroke-linecap="butt" />
<line x1="364.8" y1="1820.6" x2="364.8" y2="1824.5" stroke="#000" stroke-width="1.6" stroke-linecap="butt" />
<line x1="368.2" y1="1820.6" x2="368.2" y2="1824.5" stroke="#000" stroke-width="1.6" stroke-linecap="butt" />
<line x1="371.6" y1="1820.6" x2="371.6" y2="1824.5" stroke="#000" stroke-width="1.6" stroke-linecap="butt" />
<line x1="375.0" y1="1820.6" x2="375.0" y2="1826.5" stroke="#000" stroke-width="1.6" stroke-linecap="butt" />
<line x1="378.4" y1="1820.6" x2="378.4" y2="1826.5" stroke="#000" stroke-width="1.6" stroke-linecap="butt" />
<line x1="381.8" y1="1820.6" x2="381.8" y2="1826.5" stroke="#000" stroke-width="1.6" stroke-linecap="butt" />
<line x1="385.2" y1="1820.6" x2="385.2" y2="1826.5" stroke="#000" stroke-width="1.6" stroke-linecap="butt" />
<line x1="388.6" y1="1820.6" x2="388.6" y2="1826.5" stroke="#000" stroke-width="1.6" stroke-linecap="butt" />
<line x1="392.0" y1="1820.6" x2="392.0" y2="1826.5" stroke="#000" stroke-width="1.6" stroke-linecap="butt" />
<text x="359.8" y="1868.0" font-size="29.3" text-anchor="middle" fill="#000" >0</text>
<text x="456.0" y="1868.0" font-size="29.5" text-anchor="start">10<tspan font-size="20" dy="-13">3</tspan></text>
<text x="542.0" y="1868.0" font-size="29.5" text-anchor="start">10<tspan font-size="20" dy="-13">4</tspan></text>
<text x="625.0" y="1868.0" font-size="29.5" text-anchor="start">10<tspan font-size="20" dy="-13">5</tspan></text>
<text x="497.5" y="1909.7" font-size="29.2" text-anchor="middle">IFN<tspan font-family="Liberation Serif, serif" font-size="27">γ</tspan>-BV786</text>
<text x="305.5" y="1363.5" font-size="29" text-anchor="end" fill="#000" >Unstim</text>
<text x="305.5" y="1488.0" font-size="29" text-anchor="end" fill="#000" >Total</text>
<text x="305.5" y="1608.8" font-size="29" text-anchor="end" fill="#000" >CD56+</text>
<text x="305.5" y="1729.0" font-size="29" text-anchor="end" fill="#000" >CD56–</text>
<text x="581.5" y="1349.0" font-size="29" text-anchor="start" fill="#000" >0.5%</text>
<text x="581.5" y="1472.5" font-size="29" text-anchor="start" fill="#000" >55%</text>
<text x="581.5" y="1592.0" font-size="29" text-anchor="start" fill="#000" >65%</text>
<text x="581.5" y="1717.0" font-size="29" text-anchor="start" fill="#000" >42%</text>
<path d="M171.8 1465.0 L158.5 1465.0 L158.5 1736.0 L171.8 1736.0" fill="none" stroke="#000" stroke-width="2.3" stroke-linejoin="miter" stroke-linecap="butt" />
<text x="142.0" y="1596.0" font-size="29" text-anchor="middle" fill="#000" transform="rotate(-90 142.0 1596.0)" >IL-12/IL-18 Stim</text>
<text x="1087.0" y="1267.5" font-size="42" text-anchor="start" fill="#000" font-weight="bold" >f</text>
<line x1="1448.2" y1="1285.0" x2="1448.2" y2="1784.4" stroke="#000" stroke-width="3.4" stroke-linecap="butt" />
<line x1="1438.2" y1="1782.7" x2="1720.6" y2="1782.7" stroke="#000" stroke-width="3.4" stroke-linecap="butt" />
<line x1="1438.2" y1="1683.5" x2="1448.2" y2="1683.5" stroke="#000" stroke-width="3.3" stroke-linecap="butt" />
<line x1="1438.2" y1="1584.3" x2="1448.2" y2="1584.3" stroke="#000" stroke-width="3.3" stroke-linecap="butt" />
<line x1="1438.2" y1="1485.1" x2="1448.2" y2="1485.1" stroke="#000" stroke-width="3.3" stroke-linecap="butt" />
<line x1="1438.2" y1="1385.9" x2="1448.2" y2="1385.9" stroke="#000" stroke-width="3.3" stroke-linecap="butt" />
<line x1="1438.2" y1="1287.2" x2="1448.2" y2="1287.2" stroke="#000" stroke-width="3.3" stroke-linecap="butt" />
<text x="1427.5" y="1792.0" font-size="28.5" text-anchor="end" fill="#000" >0</text>
<text x="1427.5" y="1692.8" font-size="28.5" text-anchor="end" fill="#000" >20</text>
<text x="1427.5" y="1593.6" font-size="28.5" text-anchor="end" fill="#000" >40</text>
<text x="1427.5" y="1494.4" font-size="28.5" text-anchor="end" fill="#000" >60</text>
<text x="1427.5" y="1395.2" font-size="28.5" text-anchor="end" fill="#000" >80</text>
<text x="1427.5" y="1296.0" font-size="28.5" text-anchor="end" fill="#000" >100</text>
<line x1="1516.1" y1="1782.7" x2="1516.1" y2="1795.2" stroke="#000" stroke-width="3.2" stroke-linecap="butt" />
<line x1="1652.6" y1="1782.7" x2="1652.6" y2="1795.2" stroke="#000" stroke-width="3.2" stroke-linecap="butt" />
<text x="1515.6" y="1828.0" font-size="29.5" text-anchor="middle" fill="#000" >–109</text>
<text x="1653.1" y="1828.0" font-size="29.5" text-anchor="middle" fill="#000" >85</text>
<text x="1595.8" y="1870.4" font-size="28" text-anchor="middle" fill="#000" textLength="485.0" lengthAdjust="spacingAndGlyphs" >Days since first positive HIV RNA test</text>
<text x="1284" y="1535" font-size="29.2" text-anchor="middle" transform="rotate(-90 1284 1535)">IFN<tspan font-family="Liberation Serif, serif" font-size="27">γ</tspan> expression</text>
<text x="1319.7" y="1535.0" font-size="29.2" text-anchor="middle" fill="#000" transform="rotate(-90 1319.7 1535.0)" >after IL-12/IL-18 stimulation</text>
<text x="1354.0" y="1535.0" font-size="29.4" text-anchor="middle" fill="#000" transform="rotate(-90 1354.0 1535.0)" >(% of MAIT cells)</text>
<path d="M1516.1 1308.5 L1516.1 1293.7 L1652.6 1293.7 L1652.6 1308.5" fill="none" stroke="#000" stroke-width="2.7" stroke-linejoin="miter" stroke-linecap="butt" />
<text x="1584.0" y="1285.2" font-size="20.8" text-anchor="middle" fill="#000" >N.S.</text>
<line x1="1516.1" y1="1447.1" x2="1652.6" y2="1453.0" stroke="#000" stroke-width="3.1" stroke-linecap="butt" />
<line x1="1516.1" y1="1481.6" x2="1652.6" y2="1485.2" stroke="#000" stroke-width="3.1" stroke-linecap="butt" />
<line x1="1516.1" y1="1492.3" x2="1652.6" y2="1560.2" stroke="#000" stroke-width="3.1" stroke-linecap="butt" />
<line x1="1516.1" y1="1508.4" x2="1652.6" y2="1489.6" stroke="#000" stroke-width="3.1" stroke-linecap="butt" />
<line x1="1516.1" y1="1512.5" x2="1652.6" y2="1574.5" stroke="#000" stroke-width="3.1" stroke-linecap="butt" />
<line x1="1516.1" y1="1519.1" x2="1652.6" y2="1546.8" stroke="#000" stroke-width="3.1" stroke-linecap="butt" />
<line x1="1516.1" y1="1556.6" x2="1652.6" y2="1491.4" stroke="#000" stroke-width="3.1" stroke-linecap="butt" />
<line x1="1516.1" y1="1556.6" x2="1652.6" y2="1496.8" stroke="#000" stroke-width="3.1" stroke-linecap="butt" />
<line x1="1516.1" y1="1581.6" x2="1652.6" y2="1628.6" stroke="#000" stroke-width="3.1" stroke-linecap="butt" />
<line x1="1516.1" y1="1638.2" x2="1652.6" y2="1519.1" stroke="#000" stroke-width="3.1" stroke-linecap="butt" />
<ellipse cx="1516.1" cy="1447.1" rx="4.9" ry="5.9"/><ellipse cx="1652.6" cy="1453.0" rx="4.9" ry="5.9"/>
<ellipse cx="1516.1" cy="1481.6" rx="4.9" ry="5.9"/><ellipse cx="1652.6" cy="1485.2" rx="4.9" ry="5.9"/>
<ellipse cx="1516.1" cy="1492.3" rx="4.9" ry="5.9"/><ellipse cx="1652.6" cy="1560.2" rx="4.9" ry="5.9"/>
<ellipse cx="1516.1" cy="1508.4" rx="4.9" ry="5.9"/><ellipse cx="1652.6" cy="1489.6" rx="4.9" ry="5.9"/>
<ellipse cx="1516.1" cy="1512.5" rx="4.9" ry="5.9"/><ellipse cx="1652.6" cy="1574.5" rx="4.9" ry="5.9"/>
<ellipse cx="1516.1" cy="1519.1" rx="4.9" ry="5.9"/><ellipse cx="1652.6" cy="1546.8" rx="4.9" ry="5.9"/>
<ellipse cx="1516.1" cy="1556.6" rx="4.9" ry="5.9"/><ellipse cx="1652.6" cy="1491.4" rx="4.9" ry="5.9"/>
<ellipse cx="1516.1" cy="1556.6" rx="4.9" ry="5.9"/><ellipse cx="1652.6" cy="1496.8" rx="4.9" ry="5.9"/>
<ellipse cx="1516.1" cy="1581.6" rx="4.9" ry="5.9"/><ellipse cx="1652.6" cy="1628.6" rx="4.9" ry="5.9"/>
<ellipse cx="1516.1" cy="1638.2" rx="4.9" ry="5.9"/><ellipse cx="1652.6" cy="1519.1" rx="4.9" ry="5.9"/>
<line x1="1516.1" y1="1353.9" x2="1652.6" y2="1357.0" stroke="#e83a2a" stroke-width="3.1" stroke-linecap="butt" />
<line x1="1516.1" y1="1372.7" x2="1652.6" y2="1397.1" stroke="#e83a2a" stroke-width="3.1" stroke-linecap="butt" />
<line x1="1516.1" y1="1403.2" x2="1652.6" y2="1360.4" stroke="#e83a2a" stroke-width="3.1" stroke-linecap="butt" />
<line x1="1516.1" y1="1405.4" x2="1652.6" y2="1384.3" stroke="#e83a2a" stroke-width="3.1" stroke-linecap="butt" />
<line x1="1516.1" y1="1416.4" x2="1652.6" y2="1455.7" stroke="#e83a2a" stroke-width="3.1" stroke-linecap="butt" />
<line x1="1516.1" y1="1426.2" x2="1652.6" y2="1470.0" stroke="#e83a2a" stroke-width="3.1" stroke-linecap="butt" />
<line x1="1516.1" y1="1453.0" x2="1652.6" y2="1456.1" stroke="#e83a2a" stroke-width="3.1" stroke-linecap="butt" />
<line x1="1516.1" y1="1466.4" x2="1652.6" y2="1428.0" stroke="#e83a2a" stroke-width="3.1" stroke-linecap="butt" />
<line x1="1516.1" y1="1490.5" x2="1652.6" y2="1510.2" stroke="#e83a2a" stroke-width="3.1" stroke-linecap="butt" />
<line x1="1516.1" y1="1556.6" x2="1652.6" y2="1428.6" stroke="#e83a2a" stroke-width="3.1" stroke-linecap="butt" />
<ellipse cx="1516.1" cy="1400.4" rx="4.9" ry="5.9" fill="#e83a2a"/><ellipse cx="1652.6" cy="1380.2" rx="4.9" ry="5.9" fill="#e83a2a"/>
<ellipse cx="1516.1" cy="1353.9" rx="4.9" ry="5.9" fill="#e83a2a"/><ellipse cx="1652.6" cy="1357.0" rx="4.9" ry="5.9" fill="#e83a2a"/>
<ellipse cx="1516.1" cy="1372.7" rx="4.9" ry="5.9" fill="#e83a2a"/><ellipse cx="1652.6" cy="1397.1" rx="4.9" ry="5.9" fill="#e83a2a"/>
<ellipse cx="1516.1" cy="1403.2" rx="4.9" ry="5.9" fill="#e83a2a"/><ellipse cx="1652.6" cy="1360.4" rx="4.9" ry="5.9" fill="#e83a2a"/>
<ellipse cx="1516.1" cy="1405.4" rx="4.9" ry="5.9" fill="#e83a2a"/><ellipse cx="1652.6" cy="1384.3" rx="4.9" ry="5.9" fill="#e83a2a"/>
<ellipse cx="1516.1" cy="1416.4" rx="4.9" ry="5.9" fill="#e83a2a"/><ellipse cx="1652.6" cy="1455.7" rx="4.9" ry="5.9" fill="#e83a2a"/>
<ellipse cx="1516.1" cy="1426.2" rx="4.9" ry="5.9" fill="#e83a2a"/><ellipse cx="1652.6" cy="1470.0" rx="4.9" ry="5.9" fill="#e83a2a"/>
<ellipse cx="1516.1" cy="1453.0" rx="4.9" ry="5.9" fill="#e83a2a"/><ellipse cx="1652.6" cy="1456.1" rx="4.9" ry="5.9" fill="#e83a2a"/>
<ellipse cx="1516.1" cy="1466.4" rx="4.9" ry="5.9" fill="#e83a2a"/><ellipse cx="1652.6" cy="1428.0" rx="4.9" ry="5.9" fill="#e83a2a"/>
<ellipse cx="1516.1" cy="1490.5" rx="4.9" ry="5.9" fill="#e83a2a"/><ellipse cx="1652.6" cy="1510.2" rx="4.9" ry="5.9" fill="#e83a2a"/>
<ellipse cx="1516.1" cy="1556.6" rx="4.9" ry="5.9" fill="#e83a2a"/><ellipse cx="1652.6" cy="1428.6" rx="4.9" ry="5.9" fill="#e83a2a"/>
<line x1="1462.5" y1="1898.0" x2="1498.0" y2="1898.0" stroke="#000" stroke-width="6" stroke-linecap="round" />
<circle cx="1480.2" cy="1898" r="5.6"/>
<text x="1512.0" y="1904.5" font-size="20.8" text-anchor="start" fill="#000" >CD56–</text>
<line x1="1615.0" y1="1897.5" x2="1650.0" y2="1897.5" stroke="#e83a2a" stroke-width="6" stroke-linecap="round" />
<circle cx="1632" cy="1897.5" r="5.6" fill="#e83a2a"/>
<text x="1665.0" y="1904.0" font-size="20.8" text-anchor="start" fill="#000" >CD56+</text>
</svg>
</body></html>
